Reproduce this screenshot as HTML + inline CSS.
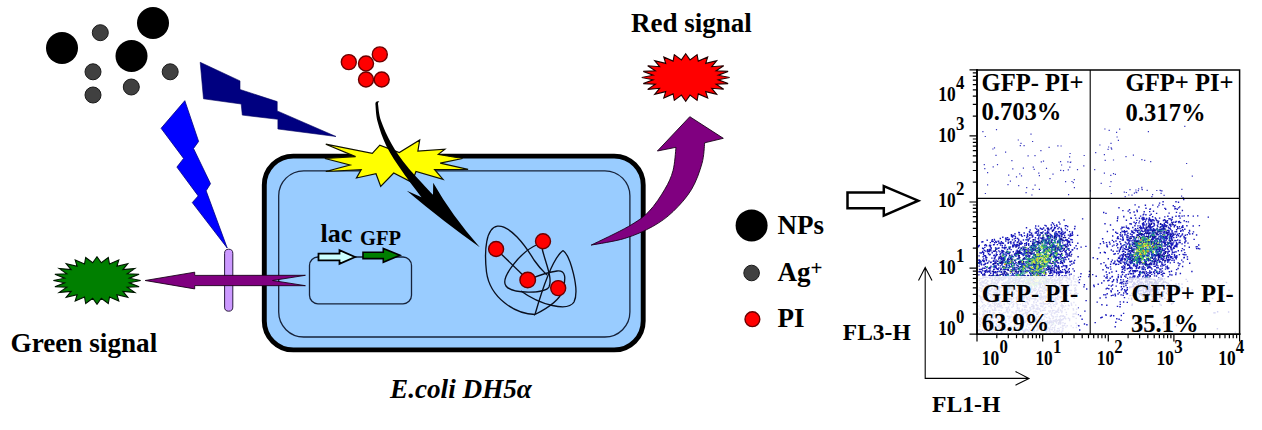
<!DOCTYPE html>
<html>
<head>
<meta charset="utf-8">
<title>E.coli DH5α flow cytometry scheme</title>
<style>
html,body{margin:0;padding:0;background:#fff;}
body{width:1262px;height:430px;overflow:hidden;font-family:"Liberation Serif",serif;}
svg{display:block;}
text{font-family:"Liberation Serif",serif;font-weight:bold;fill:#000;}
</style>
</head>
<body>
<svg width="1262" height="430" viewBox="0 0 1262 430">
<rect x="0" y="0" width="1262" height="430" fill="#ffffff"/>

<!-- ===== nanoparticles and silver ions ===== -->
<g id="nps">
<circle cx="62" cy="48" r="16" fill="#000"/>
<circle cx="153" cy="23" r="16" fill="#000"/>
<circle cx="131.5" cy="56" r="16" fill="#000"/>
<g fill="#404040" stroke="#1a1a1a" stroke-width="1">
<circle cx="100.3" cy="32.7" r="8"/>
<circle cx="93" cy="71.8" r="8"/>
<circle cx="93" cy="95" r="8"/>
<circle cx="131.3" cy="87" r="8"/>
<circle cx="170.2" cy="71.8" r="8"/>
</g>
</g>

<!-- ===== lightning bolts ===== -->
<polygon id="bolt-navy" fill="#000080" stroke="#000060" stroke-width="0.6" points="200.2,62.3 240,80.9 240,89.5 277.2,101.6 277.2,110.9 336,136.5 277.9,129 277.9,119.3 242.3,115.1 241.2,104 203.5,98.8"/>
<polygon id="bolt-blue" fill="#0000ff" stroke="#000080" stroke-width="0.8" points="184.8,100.7 198.6,141.4 193.5,148.5 210.5,183.7 206.1,190.8 227.2,248 192.3,202.6 198.2,195.9 176.9,167.1 183.6,158.4 161.1,128.3"/>

<!-- ===== bacterial cell ===== -->
<g id="cell">
<rect x="264.3" y="156.1" width="378.9" height="193.8" rx="29" ry="29" fill="#99ccff" stroke="#000" stroke-width="4.9"/>
<rect x="278.7" y="170.8" width="351.2" height="166.2" rx="25" ry="25" fill="none" stroke="#16223a" stroke-width="1.3"/>
<!-- plasmid -->
<rect x="309.5" y="257" width="102" height="46.8" rx="8.5" ry="8.5" fill="none" stroke="#16223a" stroke-width="1.3"/>
<text x="320.5" y="242.4" font-size="26">lac</text>
<text x="360" y="244.8" font-size="20.5">GFP</text>
<polygon fill="#ccffff" stroke="#000" stroke-width="1.8" points="318.5,253.6 339.5,253.6 339.5,250.2 355,257 339.5,263.8 339.5,260.4 318.5,260.4"/>
<polygon fill="#007f00" stroke="#000" stroke-width="1.6" points="363,252.3 383.3,252.3 383.3,248.4 400,255.3 383.3,262.2 383.3,258.6 363,258.6"/>
</g>

<!-- ===== membrane rod + green-signal arrow ===== -->
<rect x="224.6" y="249.2" width="8.2" height="62" rx="4.1" ry="4.1" fill="#cc99ff" stroke="#2a1a40" stroke-width="1"/>
<polygon fill="#800080" stroke="#1a001a" stroke-width="0.9" points="145.2,280.5 194.7,272.2 194.7,275.4 305.4,275.3 272.5,280.5 305.4,285.7 194.7,285.6 194.7,288.9"/>

<!-- green star placeholder -->
<g id="greenstar"><polygon fill="#007f00" stroke="#001500" stroke-width="1.1" stroke-linejoin="miter" points="97.0,256.7 101.3,262.8 108.3,257.5 109.5,264.0 118.8,259.9 116.9,266.3 127.8,263.7 122.9,269.6 134.8,268.6 127.2,273.7 139.1,274.3 129.4,278.2 140.6,280.5 129.4,282.8 139.1,286.7 127.2,287.3 134.8,292.4 122.9,291.4 127.8,297.3 116.9,294.7 118.8,301.1 109.5,297.0 108.3,303.5 101.3,298.2 97.0,304.3 92.7,298.2 85.7,303.5 84.5,297.0 75.2,301.1 77.1,294.7 66.2,297.3 71.1,291.4 59.2,292.4 66.8,287.3 54.9,286.7 64.6,282.8 53.4,280.5 64.6,278.2 54.9,274.3 66.8,273.7 59.2,268.6 71.1,269.6 66.2,263.7 77.1,266.3 75.2,259.9 84.5,264.0 85.7,257.5 92.7,262.8"/></g>
<g id="redstar"><polygon fill="#ff0000" stroke="#200000" stroke-width="1.1" stroke-linejoin="miter" points="685.7,53.8 690.0,59.9 697.1,54.6 698.3,61.1 707.7,57.0 705.7,63.4 716.7,60.7 711.8,66.7 723.7,65.7 716.1,70.7 728.1,71.4 718.3,75.2 729.6,77.5 718.3,79.8 728.1,83.6 716.1,84.3 723.7,89.3 711.8,88.3 716.7,94.3 705.7,91.6 707.7,98.0 698.3,93.9 697.1,100.4 690.0,95.1 685.7,101.2 681.4,95.1 674.3,100.4 673.1,93.9 663.8,98.0 665.7,91.6 654.7,94.3 659.6,88.3 647.7,89.4 655.3,84.3 643.3,83.6 653.1,79.8 641.8,77.5 653.1,75.2 643.3,71.4 655.3,70.7 647.7,65.7 659.6,66.7 654.7,60.7 665.7,63.4 663.8,57.0 673.1,61.1 674.3,54.6 681.4,59.9"/></g>
<text x="10.5" y="351.5" font-size="27.2">Green signal</text>


<!-- ===== PI molecules (top) ===== -->
<g fill="#ff0000" stroke="#6a0000" stroke-width="1.4">
<circle cx="348.8" cy="62.1" r="7.5"/>
<circle cx="379.8" cy="54.4" r="7.5"/>
<circle cx="366" cy="63.5" r="7.5"/>
<circle cx="366" cy="79.5" r="7.5"/>
<circle cx="381.7" cy="79.5" r="7.5"/>
</g>

<!-- ===== yellow burst ===== -->
<polygon fill="#ffff00" stroke="#111100" stroke-width="1.2" stroke-linejoin="miter" points="325.8,144.2 372.3,153.3 379.8,145.1 399.3,152.5 419.7,139.9 417.9,151 444.9,149.2 438.3,154.4 462.5,158.5 440.2,163.1 468.1,169.3 434.6,169.6 443,179.3 416,171.5 411.9,182.3 393.7,173 380.7,186.4 376,173.7 356.5,178 361.2,169.6 325.8,171.5 350,165 324.9,158.5 355.6,156.6"/>

<!-- ===== black entry arrow ===== -->
<path fill="#000" stroke="none" d="M375.4,104.2 C375.8,107.1 375.7,114.8 377.6,121.8 C379.5,128.8 382.5,138.3 386.6,146.5 C390.7,154.7 396.2,162.5 402.0,171.0 C407.8,179.5 418.2,192.9 421.5,197.3 L406.8,190.7 Q444,222 479.8,247.2 Q452,216 433.2,182.8 L433.0,194.8 C428.8,190.2 414.5,175.5 407.6,167.0 C400.7,158.5 396.0,151.7 391.6,144.0 C387.2,136.3 383.3,127.5 381.0,120.8 C378.7,114.1 378.5,106.8 378.0,104.0 C377.9,102.6 378.6,101.6 379.4,101.4 C377,100.6 375.2,101.8 375.4,104.2 Z"/>

<!-- ===== DNA tangle ===== -->
<g fill="none" stroke="#0a0f1e" stroke-width="1.35">
<path d="M535,314.5 C515,314 490,298 486.5,272 C484,250 486,228 497.5,226.2 C510,225 525,245 534,260 C541,270 545,273 547,275"/>
<path d="M537.5,244.5 C520,252 500,278 506,286 C512,294 545,294 549,287 C553,278 545,262 542,248"/>
<path d="M563,250.5 C570,255 580,290 574,302 C568,312 540,305 521,291"/>
<path d="M563,250.5 C553,258 542,290 535,314.5 C548,308 560,300 563,290 C566,278 566,270 557,271 C548,272 540,275 530,279"/>
<line x1="496" y1="249" x2="528" y2="280"/>
</g>
<g fill="#ff0000" stroke="#6a0000" stroke-width="1.4">
<circle cx="496.1" cy="249" r="7.5"/>
<circle cx="543" cy="241.2" r="7.5"/>
<circle cx="527.7" cy="280" r="7.8"/>
<circle cx="558.2" cy="288.1" r="7.5"/>
</g>

<!-- ===== red-signal curved arrow ===== -->
<path fill="#800080" stroke="#1a001a" stroke-width="0.9" d="M591.2,245.1 C597.4,242.0 618.8,232.1 628.4,226.5 C638.0,220.9 642.7,217.8 648.8,211.6 C654.9,205.4 660.8,196.1 664.8,189.3 C668.8,182.5 671.1,177.7 673.0,170.7 C674.9,163.7 675.5,151.2 676.0,147.3 L657.4,151 L689.8,116.7 L723.3,138.3 L704.7,142.8 C704.2,146.2 704.2,155.6 702.0,163.3 C699.8,171.1 696.4,181.2 691.6,189.3 C686.8,197.4 679.5,205.4 673.0,211.6 C666.5,217.8 660.6,222.0 652.6,226.5 C644.6,231.0 634.9,235.3 624.7,238.4 C614.5,241.5 596.8,244.0 591.2,245.1 Z"/>

<!-- ===== legend ===== -->
<circle cx="751.6" cy="225.4" r="16" fill="#000"/>
<circle cx="751.6" cy="273" r="7.8" fill="#404040" stroke="#1a1a1a" stroke-width="1"/>
<circle cx="752.4" cy="319.2" r="7.4" fill="#ff0000" stroke="#6a0000" stroke-width="1.4"/>
<text x="777.5" y="234" font-size="27">NPs</text>
<text x="777.5" y="281.3" font-size="27">Ag<tspan font-size="21" dy="-6.5">+</tspan></text>
<text x="777.5" y="327.2" font-size="27">PI</text>

<!-- ===== block arrow ===== -->
<polygon fill="#fff" stroke="#000" stroke-width="2.5" stroke-linejoin="miter" points="847.5,192.5 883.8,192.5 883.8,186.2 918.2,200.7 883.8,215.6 883.8,208.3 847.5,208.3"/>

<text x="631" y="32" font-size="27">Red signal</text>
<text x="390" y="397.8" font-size="27.2" font-style="italic">E.coli DH5α</text>

<!--PLOT-START-->
<g id="plot">
<g id="dots" stroke-width="1.4" fill="none" stroke-linecap="butt">
<path stroke="#1a1abc" d="M1030.1 268.2h1.4M1038.2 247.7h1.4M1023.9 251.5h1.4M1062.7 250.4h1.4M1067.4 249.1h1.4M999.5 258.4h1.4M1061.2 258.5h1.4M989.7 249.6h1.4M1051.7 288.6h1.4M1029.0 272.5h1.4M1036.2 272.6h1.4M990.2 262.2h1.4M1022.7 258.6h1.4M1022.6 248.0h1.4M1061.2 245.8h1.4M1006.8 239.5h1.4M998.8 280.4h1.4M1019.8 264.2h1.4M1031.2 247.3h1.4M1028.3 257.7h1.4M1063.7 262.0h1.4M1067.0 226.4h1.4M1034.6 249.8h1.4M1031.6 296.3h1.4M1049.0 250.8h1.4M1012.7 275.0h1.4M1055.8 257.4h1.4M1025.3 249.4h1.4M1020.1 253.4h1.4M1004.7 271.9h1.4M1025.3 256.2h1.4M1026.6 235.4h1.4M1059.6 263.0h1.4M1053.4 270.4h1.4M1021.5 243.2h1.4M999.3 262.3h1.4M1028.3 252.6h1.4M1041.8 242.7h1.4M996.4 268.6h1.4M1004.4 269.4h1.4M1062.6 245.3h1.4M984.6 263.4h1.4M1057.5 263.1h1.4M988.7 251.1h1.4M1032.9 254.0h1.4M1050.1 266.4h1.4M993.3 264.0h1.4M1021.7 265.1h1.4M1033.3 263.5h1.4M1000.9 279.8h1.4M1017.8 258.1h1.4M1067.8 269.9h1.4M1003.9 267.2h1.4M1017.6 277.8h1.4M1010.5 281.4h1.4M1064.0 269.4h1.4M1019.1 278.9h1.4M985.1 294.9h1.4M1054.0 234.2h1.4M1065.7 225.6h1.4M1073.2 262.3h1.4M1032.1 269.4h1.4M1022.0 254.1h1.4M1021.1 270.7h1.4M1025.5 243.6h1.4M1043.3 272.0h1.4M1023.5 233.0h1.4M1041.5 232.7h1.4M995.0 271.8h1.4M1000.5 272.3h1.4M1030.6 275.5h1.4M1015.6 270.0h1.4M1057.7 265.6h1.4M1050.2 275.7h1.4M1025.6 245.4h1.4M989.0 293.7h1.4M1022.7 264.5h1.4M1024.0 249.4h1.4M1007.0 282.0h1.4M1012.3 269.1h1.4M991.8 279.9h1.4M1029.1 255.6h1.4M1035.3 264.4h1.4M1069.8 252.2h1.4M1053.9 271.8h1.4M1050.9 268.0h1.4M989.0 267.8h1.4M1026.5 250.1h1.4M1023.2 294.7h1.4M1057.2 262.9h1.4M993.6 258.2h1.4M1005.8 291.1h1.4M978.3 271.7h1.4M1040.7 241.9h1.4M1001.8 255.9h1.4M1049.9 252.4h1.4M1023.7 263.9h1.4M1074.0 260.4h1.4M1028.2 239.2h1.4M1036.9 252.5h1.4M1019.4 299.0h1.4M1021.4 254.2h1.4M1030.5 246.9h1.4M1023.0 248.5h1.4M1003.6 284.8h1.4M1015.6 264.9h1.4M1038.4 257.2h1.4M1058.7 236.8h1.4M1042.0 276.4h1.4M1020.3 248.1h1.4M1055.7 270.3h1.4M1011.8 239.9h1.4M996.2 279.6h1.4M986.4 263.4h1.4M1020.2 241.5h1.4M1064.8 272.3h1.4M1017.6 251.2h1.4M1029.0 256.2h1.4M1068.8 255.9h1.4M988.3 261.1h1.4M1050.5 268.2h1.4M1027.4 248.5h1.4M1032.1 264.2h1.4M1009.3 252.3h1.4M996.3 248.5h1.4M1055.3 247.8h1.4M1059.6 263.3h1.4M1012.0 256.5h1.4M1015.3 252.7h1.4M1055.3 231.8h1.4M980.3 269.5h1.4M1022.9 264.9h1.4M1025.3 265.6h1.4M1066.6 241.5h1.4M1066.0 267.3h1.4M1005.3 254.9h1.4M1064.2 251.6h1.4M1012.6 251.7h1.4M999.3 254.5h1.4M1032.3 241.4h1.4M1058.6 278.2h1.4M1046.3 232.8h1.4M1058.1 257.1h1.4M1034.0 281.9h1.4M980.7 272.1h1.4M1048.9 259.0h1.4M1027.8 249.1h1.4M1013.3 265.8h1.4M1064.7 257.7h1.4M1062.2 248.2h1.4M1030.9 233.3h1.4M1032.2 257.2h1.4M1036.1 248.3h1.4M1034.7 254.8h1.4M1010.2 243.6h1.4M1019.6 243.9h1.4M1003.9 272.7h1.4M1072.3 268.9h1.4M1025.8 227.7h1.4M1015.2 245.1h1.4M995.3 265.6h1.4M1027.4 289.9h1.4M987.8 271.1h1.4M1031.9 245.0h1.4M1001.4 258.5h1.4M1017.3 282.1h1.4M1017.0 251.9h1.4M1073.3 263.4h1.4M1007.2 274.1h1.4M1044.8 260.6h1.4M1016.6 291.5h1.4M1000.9 274.4h1.4M1011.6 296.3h1.4M1036.7 274.0h1.4M997.9 248.4h1.4M1003.9 276.5h1.4M998.3 257.1h1.4M1052.0 262.3h1.4M1019.9 252.5h1.4M1026.4 259.5h1.4M1003.8 260.0h1.4M989.3 270.5h1.4M1054.9 260.4h1.4M1067.7 235.1h1.4M1012.3 262.6h1.4M1013.8 254.2h1.4M1037.1 272.6h1.4M1067.5 240.9h1.4M1016.9 296.6h1.4M1010.5 260.5h1.4M984.5 298.2h1.4M1010.7 262.9h1.4M1047.5 255.4h1.4M1026.0 280.9h1.4M978.2 274.9h1.4M1021.4 236.4h1.4M1016.1 244.7h1.4M1021.3 264.1h1.4M987.4 301.6h1.4M997.2 281.0h1.4M1037.1 263.7h1.4M1022.7 267.2h1.4M987.2 262.8h1.4M985.1 244.6h1.4M1045.1 253.0h1.4M1013.9 276.0h1.4M988.7 249.4h1.4M1048.1 268.0h1.4M1047.1 230.0h1.4M1025.8 287.9h1.4M1030.0 241.4h1.4M1062.0 263.6h1.4M1040.2 232.8h1.4M998.6 276.6h1.4M1066.5 253.9h1.4M1036.6 265.5h1.4M1069.1 279.6h1.4M1041.7 261.0h1.4M1035.5 232.0h1.4M1065.5 250.5h1.4M1024.9 262.2h1.4M1073.8 248.0h1.4M1010.3 276.1h1.4M992.5 274.8h1.4M996.6 263.6h1.4M1005.1 252.9h1.4M1010.1 271.7h1.4M1030.5 289.9h1.4M1036.8 264.2h1.4M1029.4 247.3h1.4M1053.6 255.5h1.4M1009.0 252.6h1.4M1006.7 302.5h1.4M1010.5 269.7h1.4M1022.5 255.6h1.4M1036.6 231.3h1.4M1008.1 278.6h1.4M996.7 261.4h1.4M1061.4 275.8h1.4M1028.0 245.3h1.4M1041.3 275.1h1.4M997.3 264.4h1.4M1028.6 256.3h1.4M1026.9 256.2h1.4M1000.0 278.7h1.4M986.3 297.8h1.4M1014.4 278.6h1.4M1034.3 278.0h1.4M1058.8 271.9h1.4M1032.6 250.3h1.4M1017.0 253.2h1.4M1001.0 264.9h1.4M1035.1 260.4h1.4M1024.6 251.8h1.4M1001.6 263.9h1.4M1015.0 254.9h1.4M1021.2 271.4h1.4M1046.0 290.1h1.4M1024.9 290.9h1.4M1002.6 259.8h1.4M1040.4 268.1h1.4M1027.9 265.0h1.4M1031.5 237.1h1.4M1028.7 231.7h1.4M1017.6 255.8h1.4M1018.1 245.4h1.4M1071.4 239.7h1.4M985.1 257.7h1.4M1008.5 248.3h1.4M984.5 276.1h1.4M1023.3 251.0h1.4M1007.7 267.8h1.4M978.6 245.5h1.4M1033.3 298.8h1.4M996.5 254.6h1.4M1001.0 257.9h1.4M1049.7 272.7h1.4M1040.9 229.0h1.4M1008.1 259.2h1.4M995.7 254.1h1.4M1027.5 241.0h1.4M1057.1 254.3h1.4M993.7 240.1h1.4M1026.5 267.8h1.4M1052.8 289.0h1.4M1028.8 300.8h1.4M1009.7 271.3h1.4M1037.2 244.8h1.4M1028.0 251.2h1.4M1020.3 266.7h1.4M1006.5 252.9h1.4M994.8 271.6h1.4M1051.2 276.2h1.4M1042.9 228.0h1.4M1042.4 231.9h1.4M1008.7 248.7h1.4M1054.2 284.9h1.4M1009.1 304.0h1.4M1069.0 242.2h1.4M1015.6 267.5h1.4M1029.9 271.2h1.4M981.2 242.0h1.4M1038.7 265.3h1.4M1036.6 250.7h1.4M1030.9 263.6h1.4M1026.0 237.2h1.4M1030.6 251.2h1.4M1044.1 264.3h1.4M1015.3 280.0h1.4M1002.3 286.2h1.4M993.0 269.4h1.4M1065.2 259.6h1.4M1041.9 256.0h1.4M1071.7 242.2h1.4M1031.8 251.3h1.4M1018.2 262.7h1.4M1025.8 242.8h1.4M1064.0 275.9h1.4M1019.0 243.9h1.4M1016.1 285.2h1.4M1001.4 287.1h1.4M1057.4 279.3h1.4M1008.4 283.8h1.4M997.1 263.6h1.4M1064.5 286.4h1.4M1024.4 271.2h1.4M1049.8 271.3h1.4M1039.2 248.5h1.4M1026.9 275.8h1.4M1039.9 303.1h1.4M1051.6 279.6h1.4M997.5 275.4h1.4M994.4 277.3h1.4M1006.3 290.9h1.4M1020.7 244.1h1.4M985.7 260.6h1.4M999.2 278.8h1.4M987.9 287.2h1.4M982.8 248.7h1.4M1020.0 252.7h1.4M1026.9 276.8h1.4M1073.6 271.0h1.4M1046.7 269.5h1.4M1049.5 263.0h1.4M990.0 276.3h1.4M1018.5 245.6h1.4M997.6 297.0h1.4M1027.9 261.1h1.4M1058.6 277.5h1.4M1060.6 254.4h1.4M1019.7 271.6h1.4M1045.2 241.9h1.4M1036.6 235.4h1.4M1059.4 233.9h1.4M1025.8 270.7h1.4M1049.5 273.2h1.4M984.2 268.4h1.4M1055.4 239.4h1.4M1021.5 270.1h1.4M1061.9 242.9h1.4M1047.7 269.3h1.4M1009.4 242.1h1.4M1037.9 231.0h1.4M1038.8 273.0h1.4M982.1 241.7h1.4M1061.1 266.6h1.4M979.7 260.9h1.4M996.0 294.1h1.4M989.1 272.0h1.4M1059.9 255.1h1.4M1024.0 250.6h1.4M1033.2 261.6h1.4M983.2 292.5h1.4M1002.2 251.5h1.4M1032.7 244.0h1.4M1031.0 287.5h1.4M1049.4 263.1h1.4M1049.2 243.1h1.4M1065.5 277.8h1.4M1049.9 270.0h1.4M1040.3 273.4h1.4M1034.8 237.7h1.4M1063.6 245.0h1.4M987.7 285.1h1.4M1072.8 276.9h1.4M1035.1 264.3h1.4M998.5 271.5h1.4M1017.0 238.5h1.4M1065.5 275.9h1.4M1055.2 266.4h1.4M1027.9 249.0h1.4M1036.8 254.9h1.4M1044.1 272.0h1.4M1010.8 259.4h1.4M1053.6 263.1h1.4M1034.9 277.9h1.4M1065.5 280.5h1.4M1037.8 272.7h1.4M1003.8 294.1h1.4M994.3 261.4h1.4M1015.9 253.8h1.4M1033.5 265.3h1.4M1013.1 246.1h1.4M980.4 291.4h1.4M1009.0 262.8h1.4M1033.3 271.4h1.4M1013.4 242.1h1.4M1018.3 309.9h1.4M989.4 254.5h1.4M985.5 259.4h1.4M1002.4 250.8h1.4M1011.2 266.2h1.4M985.1 256.4h1.4M1061.8 278.9h1.4M1030.8 286.8h1.4M1018.1 253.1h1.4M1004.3 269.2h1.4M1050.4 288.7h1.4M1069.9 236.0h1.4M1012.1 267.9h1.4M1071.9 249.8h1.4M1061.3 266.9h1.4M1060.9 254.1h1.4M992.6 261.2h1.4M1046.1 276.7h1.4M1026.6 280.3h1.4M1027.2 270.4h1.4M986.9 277.6h1.4M1054.3 262.9h1.4M1053.9 246.7h1.4M1038.3 254.4h1.4M1012.9 270.2h1.4M992.7 275.6h1.4M1009.5 247.0h1.4M1032.4 262.4h1.4M1029.3 232.5h1.4M1005.4 263.3h1.4M1039.9 258.1h1.4M995.7 255.5h1.4M1062.2 231.9h1.4M1061.4 251.4h1.4M1020.5 234.6h1.4M1012.4 246.8h1.4M1045.2 254.7h1.4M1055.2 238.6h1.4M1055.3 258.5h1.4M1052.7 247.6h1.4M1054.4 265.4h1.4M1039.6 250.4h1.4M996.8 269.3h1.4M992.6 274.0h1.4M1039.0 273.4h1.4M1065.1 266.1h1.4M1021.1 269.8h1.4M1010.3 256.8h1.4M1001.4 242.8h1.4M1010.7 264.4h1.4M1005.7 255.3h1.4M1051.8 292.1h1.4M1003.5 294.5h1.4M1042.5 236.0h1.4M1002.2 285.8h1.4M1060.9 236.7h1.4M984.2 280.4h1.4M992.3 264.4h1.4M1052.2 274.1h1.4M1022.5 249.3h1.4M1036.9 251.4h1.4M1001.6 280.1h1.4M1070.9 261.3h1.4M1001.1 261.8h1.4M1056.6 272.0h1.4M1050.6 228.0h1.4M1000.7 259.3h1.4M1039.7 267.3h1.4M1056.7 242.7h1.4M1074.3 281.6h1.4M1052.3 262.9h1.4M1044.0 275.7h1.4M1051.7 275.8h1.4M981.2 278.6h1.4M1033.0 296.0h1.4M1017.6 254.5h1.4M1006.9 251.4h1.4M1042.3 252.1h1.4M1024.8 265.1h1.4M1056.2 266.7h1.4M1017.8 248.4h1.4M1060.9 262.7h1.4M1004.9 284.2h1.4M988.1 268.2h1.4M1060.3 272.5h1.4M1024.6 281.4h1.4M1032.5 280.8h1.4M1017.4 272.3h1.4M984.1 271.8h1.4M1041.6 291.2h1.4M1022.1 275.3h1.4M980.7 263.9h1.4M1055.6 258.3h1.4M1029.4 230.0h1.4M1036.8 242.9h1.4M991.8 275.6h1.4M1007.1 289.2h1.4M1045.1 272.6h1.4M1035.3 261.8h1.4M1000.9 271.7h1.4M1042.1 260.6h1.4M1050.9 288.8h1.4M996.3 277.4h1.4M1037.0 294.4h1.4M1008.5 253.7h1.4M981.4 269.1h1.4M1033.5 276.6h1.4M993.6 255.1h1.4M1034.2 242.6h1.4M1025.5 263.3h1.4M1036.3 252.5h1.4M1020.0 288.1h1.4M1053.5 256.9h1.4M1058.2 268.2h1.4M1019.0 262.5h1.4M1071.2 264.0h1.4M1021.4 263.4h1.4M1007.4 286.3h1.4M1055.3 247.2h1.4M993.4 292.2h1.4M1058.9 240.2h1.4M1003.6 259.3h1.4M1033.0 272.4h1.4M986.0 282.5h1.4M1057.8 258.2h1.4M986.0 293.0h1.4M1063.1 260.6h1.4M1033.2 302.7h1.4M1020.7 235.2h1.4M1039.7 266.8h1.4M1007.4 260.6h1.4M1038.2 242.0h1.4M1051.5 268.9h1.4M1070.9 254.4h1.4M1018.1 240.7h1.4M1059.2 272.1h1.4M985.9 277.3h1.4M995.3 262.2h1.4M1013.9 244.8h1.4M1008.8 287.6h1.4M1018.3 256.7h1.4M1023.9 258.2h1.4M1017.7 258.3h1.4M1045.8 285.0h1.4M1009.4 279.8h1.4M991.6 271.5h1.4M978.6 260.6h1.4M1031.9 243.3h1.4M1039.7 269.4h1.4M989.9 262.5h1.4M1022.7 240.0h1.4M1070.5 282.8h1.4M1068.5 278.7h1.4M1012.7 262.1h1.4M1062.2 272.4h1.4M981.9 260.2h1.4M1026.4 293.8h1.4M1045.6 268.6h1.4M1067.7 286.7h1.4M1041.8 229.2h1.4M1032.1 261.4h1.4M978.8 269.5h1.4M1031.3 272.2h1.4M988.1 271.6h1.4M1003.9 276.8h1.4M993.9 251.1h1.4M1001.8 283.6h1.4M1010.9 272.0h1.4M1002.0 261.5h1.4M1043.4 278.1h1.4M1024.0 243.8h1.4M1009.0 304.6h1.4M1059.4 280.7h1.4M1054.2 262.9h1.4M1001.4 280.2h1.4M1051.5 249.1h1.4M1041.1 260.8h1.4M995.9 252.0h1.4M1019.0 275.0h1.4M991.5 279.0h1.4M1008.8 276.5h1.4M995.4 267.2h1.4M1033.7 248.9h1.4M1076.5 248.7h1.4M1045.3 249.2h1.4M1065.1 252.7h1.4M982.9 282.7h1.4M1061.0 232.8h1.4M1025.9 255.6h1.4M1052.7 271.9h1.4M1061.1 236.8h1.4M1024.6 302.5h1.4M1057.8 272.0h1.4M1052.7 287.4h1.4M1005.5 239.2h1.4M1065.3 254.8h1.4M1048.6 251.4h1.4M1002.0 257.9h1.4M1027.1 236.6h1.4M1004.4 299.9h1.4M1043.4 276.6h1.4M1057.1 279.5h1.4M992.9 272.6h1.4M986.1 257.6h1.4M997.7 265.1h1.4M1049.4 261.3h1.4M1032.0 249.0h1.4M1067.8 242.3h1.4M997.5 299.3h1.4M1018.9 250.4h1.4M1002.9 269.4h1.4M1009.6 270.7h1.4M1063.3 276.5h1.4M1001.9 261.3h1.4M1016.8 251.7h1.4M982.4 256.8h1.4M983.2 264.7h1.4M1004.4 277.8h1.4M995.5 260.1h1.4M987.8 253.8h1.4M979.9 278.6h1.4M999.0 275.4h1.4M994.0 263.0h1.4M995.7 268.5h1.4M1016.7 265.4h1.4M985.1 251.1h1.4M1034.1 258.1h1.4M993.2 282.5h1.4M1022.1 269.5h1.4M990.9 294.9h1.4M1007.6 269.7h1.4M995.7 242.2h1.4M1007.5 258.6h1.4M992.4 241.6h1.4M1018.2 278.1h1.4M1058.7 274.3h1.4M986.9 249.8h1.4M995.6 275.5h1.4M1012.1 270.2h1.4M1003.8 271.3h1.4M989.7 242.6h1.4M1033.3 280.2h1.4M1015.1 245.2h1.4M1002.9 258.7h1.4M1001.0 259.4h1.4M1017.2 265.4h1.4M993.1 260.4h1.4M990.0 273.4h1.4M993.6 266.1h1.4M991.1 241.2h1.4M1018.3 247.2h1.4M1013.6 267.9h1.4M988.5 250.5h1.4M994.3 267.4h1.4M990.3 266.3h1.4M983.5 261.6h1.4M989.7 246.8h1.4M993.9 251.2h1.4M1010.7 296.7h1.4M992.9 266.7h1.4M1001.9 252.1h1.4M983.0 258.9h1.4M1002.8 254.2h1.4M998.2 243.0h1.4M994.6 272.9h1.4M1040.7 271.9h1.4M1005.0 278.6h1.4M1020.7 285.3h1.4M1005.6 264.8h1.4M1034.3 288.2h1.4M1018.9 251.9h1.4M986.9 250.4h1.4M983.4 260.6h1.4M982.8 254.2h1.4M1000.0 253.8h1.4M1018.9 261.2h1.4M999.7 262.2h1.4M1014.2 255.4h1.4M1002.5 262.6h1.4M1010.2 276.2h1.4M1001.6 245.6h1.4M1043.4 269.0h1.4M990.9 288.8h1.4M1000.7 257.1h1.4M987.4 294.9h1.4M1008.5 259.4h1.4M1022.5 269.4h1.4M986.9 271.9h1.4M1042.0 257.1h1.4M988.8 254.7h1.4M1000.8 277.7h1.4M989.3 268.9h1.4M1011.9 246.8h1.4M1004.1 248.8h1.4M1021.6 268.4h1.4M999.6 243.2h1.4M1001.7 251.3h1.4M982.2 275.0h1.4M1014.5 253.7h1.4M1023.7 257.8h1.4M983.5 255.8h1.4M995.9 283.4h1.4M1005.4 295.8h1.4M1004.4 245.2h1.4M1026.7 256.2h1.4M1016.1 275.7h1.4M1007.5 243.3h1.4M982.1 268.1h1.4M985.8 245.7h1.4M1020.4 277.5h1.4M1007.1 253.5h1.4M1016.9 244.5h1.4M1000.0 256.3h1.4M1007.6 242.1h1.4M998.2 268.0h1.4M1005.3 277.1h1.4M980.9 273.3h1.4M1037.4 266.0h1.4M1024.9 247.6h1.4M984.8 283.5h1.4M1007.2 276.7h1.4M996.6 274.5h1.4M1019.4 270.7h1.4M1016.3 306.1h1.4M1015.6 272.1h1.4M980.5 253.0h1.4M1020.8 276.6h1.4M992.1 271.4h1.4M1024.4 259.0h1.4M1015.0 263.1h1.4M988.8 250.1h1.4M1012.0 245.2h1.4M1013.5 244.2h1.4M1024.2 250.8h1.4M1002.1 267.3h1.4M1011.8 236.8h1.4M1033.3 269.9h1.4M990.4 247.7h1.4M1010.7 257.2h1.4M987.0 280.9h1.4M986.5 240.3h1.4M994.7 267.0h1.4M1010.9 265.1h1.4M1003.9 247.9h1.4M979.3 252.9h1.4M993.5 244.6h1.4M1001.7 252.8h1.4M1009.8 258.9h1.4M1038.8 252.6h1.4M994.0 258.8h1.4M1011.9 262.7h1.4M995.6 280.0h1.4M984.1 247.4h1.4M1022.3 247.0h1.4M1003.9 258.1h1.4M1023.0 255.4h1.4M984.1 274.2h1.4M982.7 261.2h1.4M1020.9 252.8h1.4M983.6 273.6h1.4M978.0 260.1h1.4M984.6 264.1h1.4M979.1 261.3h1.4M985.8 299.5h1.4M1016.5 250.3h1.4M978.4 255.9h1.4M983.8 274.4h1.4M990.3 250.9h1.4M997.9 259.0h1.4M1021.5 265.6h1.4M1028.7 264.9h1.4M1015.3 256.3h1.4M991.5 252.7h1.4M994.4 257.4h1.4M981.8 286.0h1.4M1004.7 262.1h1.4M1030.3 276.3h1.4M997.5 269.5h1.4M981.9 248.3h1.4M995.2 265.7h1.4M1006.8 274.3h1.4M986.7 272.0h1.4M1003.3 267.6h1.4M988.6 251.6h1.4M1015.0 238.2h1.4M986.3 283.7h1.4M1013.7 238.9h1.4M1053.9 225.8h1.4M1029.5 283.8h1.4M1018.5 258.9h1.4M1006.8 249.4h1.4M1016.3 246.3h1.4M1002.7 243.2h1.4M983.0 252.8h1.4M1000.9 252.1h1.4M1019.6 252.1h1.4M1019.9 261.4h1.4M988.7 245.9h1.4M1011.4 275.1h1.4M1030.0 275.2h1.4M981.7 252.4h1.4M991.2 258.1h1.4M1017.4 245.1h1.4M987.4 251.6h1.4M1014.6 261.0h1.4M999.6 238.5h1.4M997.5 241.3h1.4M1005.8 267.1h1.4M1068.8 255.2h1.4M1052.7 252.9h1.4M1069.3 236.1h1.4M1037.5 238.8h1.4M1064.8 228.5h1.4M1063.4 220.0h1.4M1046.6 228.3h1.4M1054.1 237.5h1.4M1040.8 233.1h1.4M1071.8 250.1h1.4M1038.5 242.7h1.4M1054.0 228.5h1.4M1058.1 246.8h1.4M1046.8 250.5h1.4M1033.1 245.7h1.4M1068.9 231.6h1.4M1058.4 227.5h1.4M1066.3 247.0h1.4M1035.5 268.5h1.4M1057.6 247.9h1.4M1028.5 256.8h1.4M1049.1 243.9h1.4M1043.1 248.7h1.4M1054.7 236.2h1.4M1039.2 259.9h1.4M1070.3 235.4h1.4M1045.2 242.6h1.4M1068.3 255.8h1.4M1048.2 250.1h1.4M1053.4 252.6h1.4M1046.8 259.0h1.4M1051.8 246.5h1.4M1048.8 262.9h1.4M1052.9 229.8h1.4M1045.8 234.7h1.4M1056.7 243.6h1.4M1044.5 254.6h1.4M1066.4 256.6h1.4M1040.9 238.6h1.4M1048.0 262.3h1.4M1046.9 242.7h1.4M1047.7 236.5h1.4M1044.4 230.3h1.4M1062.5 240.3h1.4M1044.2 250.8h1.4M1070.1 239.5h1.4M1069.8 261.8h1.4M1055.4 235.2h1.4M1052.9 224.0h1.4M1060.5 248.6h1.4M1049.0 242.9h1.4M1061.7 257.6h1.4M1058.3 249.4h1.4M1050.6 263.6h1.4M1054.0 236.5h1.4M1071.4 249.9h1.4M1051.6 239.8h1.4M1048.6 248.6h1.4M1045.7 248.5h1.4M1060.4 228.5h1.4M1065.3 240.3h1.4M1065.7 253.0h1.4M1053.3 256.5h1.4M1051.5 247.6h1.4M1054.6 256.1h1.4M1060.4 239.2h1.4M1047.2 237.4h1.4M1071.5 235.2h1.4M1066.5 240.4h1.4M1059.5 254.7h1.4M1064.0 257.3h1.4M1047.0 249.0h1.4M1054.3 233.0h1.4M1059.5 233.5h1.4M1032.0 235.3h1.4M1050.6 225.0h1.4M1059.8 249.4h1.4M1054.0 227.7h1.4M1056.0 233.5h1.4M1064.6 225.8h1.4M1040.1 243.7h1.4M1056.0 225.0h1.4M1052.0 262.1h1.4M1064.7 245.9h1.4M1045.5 226.0h1.4M1048.3 240.9h1.4M1066.9 243.3h1.4M1058.3 222.2h1.4M1028.8 252.9h1.4M1038.6 251.3h1.4M1051.7 222.8h1.4M1046.8 231.8h1.4M1046.3 238.9h1.4M1062.2 234.2h1.4M1067.3 248.6h1.4M1050.2 228.7h1.4M1058.8 242.4h1.4M1051.8 244.0h1.4M1053.5 238.3h1.4M1052.2 244.6h1.4M1048.1 229.3h1.4M1060.7 234.1h1.4M1032.6 239.8h1.4M1061.1 248.8h1.4M1057.9 232.1h1.4M1069.1 261.5h1.4M1057.1 234.2h1.4M1047.4 251.4h1.4M1063.1 233.5h1.4M1054.3 247.6h1.4M1052.1 261.7h1.4M1051.1 250.1h1.4M1057.8 231.6h1.4M1046.4 244.1h1.4M1043.6 240.4h1.4M1059.0 272.3h1.4M1057.4 242.1h1.4M1053.9 242.3h1.4M1064.0 237.1h1.4M1059.7 251.5h1.4M1072.0 234.9h1.4M1076.9 235.4h1.4M1061.2 230.9h1.4M1039.7 228.3h1.4M1059.3 244.1h1.4M1060.6 247.3h1.4M1053.9 240.2h1.4M1056.9 241.8h1.4M1044.7 242.6h1.4M1069.0 244.1h1.4M1051.3 227.1h1.4M1053.6 228.5h1.4M1062.2 257.7h1.4M1044.3 225.4h1.4M1057.5 262.8h1.4M1034.8 228.1h1.4M1050.1 237.5h1.4M1053.3 267.7h1.4M1060.8 229.6h1.4M1051.2 242.3h1.4M1057.3 241.0h1.4M1051.0 252.0h1.4M1050.3 270.6h1.4M1048.1 241.3h1.4M1049.6 256.3h1.4M1039.4 234.8h1.4M1067.0 226.5h1.4M1069.1 236.1h1.4M1037.8 226.1h1.4M1048.5 240.2h1.4M1040.9 246.2h1.4M1045.7 234.6h1.4M1033.1 243.6h1.4M1070.1 251.6h1.4M1054.9 247.2h1.4M1042.3 235.9h1.4M1061.3 235.0h1.4M1071.7 232.8h1.4M1058.5 235.7h1.4M1048.8 252.1h1.4M1062.2 240.6h1.4M1052.7 244.1h1.4M1052.8 230.2h1.4M1041.6 240.1h1.4M1057.3 228.8h1.4M1067.5 245.9h1.4M1046.3 251.4h1.4M1050.5 253.7h1.4M1066.4 239.6h1.4M1059.0 231.8h1.4M1058.0 240.9h1.4M1055.0 252.7h1.4M1038.1 237.5h1.4M1049.1 233.9h1.4M1039.2 235.5h1.4M1052.0 245.2h1.4M1053.8 228.6h1.4M1065.0 240.0h1.4M1059.2 224.0h1.4M1040.0 249.5h1.4M1043.1 240.8h1.4M1068.2 238.3h1.4M1050.5 240.5h1.4M1038.3 240.5h1.4M1054.3 260.4h1.4M1049.4 256.6h1.4M1023.8 235.6h1.4M1048.2 243.4h1.4M1056.4 226.2h1.4M1058.8 258.9h1.4M1047.9 232.3h1.4M1033.7 254.5h1.4M1065.8 240.1h1.4M1066.6 230.0h1.4M1062.7 265.5h1.4M1048.5 238.6h1.4M1046.3 236.2h1.4M1049.8 245.7h1.4M1054.7 227.6h1.4M1059.8 248.7h1.4M1051.1 251.4h1.4M1058.5 250.1h1.4M1060.0 263.1h1.4M1051.8 230.4h1.4M1061.3 271.7h1.4M1044.5 254.8h1.4M1035.3 248.5h1.4M1035.6 241.5h1.4M1034.9 249.9h1.4M1031.9 244.1h1.4M1064.4 245.9h1.4M1057.5 235.8h1.4M1035.0 226.0h1.4M1063.9 235.4h1.4M1048.3 229.9h1.4M1045.4 240.3h1.4M1022.1 259.7h1.4M1054.6 257.4h1.4M1058.3 254.4h1.4M1044.8 234.1h1.4M1037.9 238.7h1.4M1048.5 268.4h1.4M1035.3 246.4h1.4M1049.5 236.6h1.4M1044.6 233.3h1.4M1051.3 239.4h1.4M1061.6 240.7h1.4M1061.2 239.2h1.4M1040.7 229.0h1.4M1041.0 246.7h1.4M1060.1 256.5h1.4M1036.1 229.2h1.4M1071.6 233.2h1.4M1051.0 235.8h1.4M1037.8 230.0h1.4M1036.7 253.0h1.4M1054.3 264.6h1.4M1044.4 259.5h1.4M1054.1 272.6h1.4M1042.8 263.4h1.4M1023.1 254.9h1.4M1047.4 259.0h1.4M1025.9 256.7h1.4M1034.3 262.0h1.4M1045.1 274.3h1.4M1041.2 277.7h1.4M1037.9 272.9h1.4M1050.4 254.9h1.4M1029.1 283.6h1.4M1028.1 259.2h1.4M1027.0 270.9h1.4M1047.6 255.2h1.4M1030.6 264.6h1.4M1054.1 263.5h1.4M1034.5 265.5h1.4M1037.7 274.6h1.4M1033.6 264.8h1.4M1050.3 271.5h1.4M1036.5 251.8h1.4M1031.5 270.1h1.4M1031.9 264.4h1.4M1029.4 273.1h1.4M1033.5 254.8h1.4M1035.9 251.3h1.4M1037.3 265.3h1.4M1025.8 263.3h1.4M1024.1 250.5h1.4M1034.9 266.8h1.4M1047.7 267.0h1.4M1055.5 256.9h1.4M1051.7 270.5h1.4M1042.4 267.7h1.4M1038.1 270.2h1.4M1021.1 272.5h1.4M1056.0 273.7h1.4M1034.8 256.2h1.4M1043.1 258.8h1.4M1045.0 273.9h1.4M1031.7 251.7h1.4M1045.7 279.1h1.4M1043.2 283.6h1.4M1043.1 266.4h1.4M1034.8 276.9h1.4M1049.5 269.2h1.4M1034.2 267.9h1.4M1043.8 254.5h1.4M1039.0 275.6h1.4M1051.9 265.7h1.4M1036.2 263.1h1.4M1031.6 272.3h1.4M1034.1 268.3h1.4M1045.4 259.8h1.4M1026.2 259.1h1.4M1036.8 268.8h1.4M1018.5 261.6h1.4M1044.2 272.7h1.4M1051.5 268.5h1.4M1032.7 263.4h1.4M1029.8 258.7h1.4M1024.6 266.9h1.4M1028.7 260.1h1.4M1045.2 264.4h1.4M1034.9 266.2h1.4M1034.2 273.9h1.4M1029.1 238.1h1.4M1031.0 268.9h1.4M1044.3 252.3h1.4M1028.1 255.4h1.4M1032.6 263.3h1.4M1030.4 254.2h1.4M1033.4 248.6h1.4M1033.6 254.9h1.4M1028.1 263.5h1.4M1023.5 258.9h1.4M1039.6 259.3h1.4M1026.7 262.2h1.4M1035.9 271.5h1.4M1042.8 258.8h1.4M1048.8 267.7h1.4M1041.4 263.1h1.4M1038.7 258.5h1.4M1039.4 274.0h1.4M1039.0 256.6h1.4M1025.6 251.4h1.4M1030.1 274.0h1.4M1036.7 267.9h1.4M1037.0 270.6h1.4M1003.8 273.8h1.4M990.0 245.4h1.4M1007.9 239.6h1.4M994.6 263.3h1.4M1004.9 238.9h1.4M1057.9 266.7h1.4M1019.3 244.3h1.4M1054.4 234.7h1.4M982.0 251.4h1.4M1066.9 244.8h1.4M982.0 274.8h1.4M1026.0 244.1h1.4M1004.5 247.4h1.4M1034.6 233.0h1.4M995.0 241.4h1.4M1028.0 243.8h1.4M1020.1 262.3h1.4M1056.9 249.0h1.4M983.7 264.5h1.4M999.2 251.9h1.4M1056.8 242.3h1.4M1068.3 272.6h1.4M1008.2 252.5h1.4M1000.7 241.8h1.4M1066.4 271.4h1.4M997.2 263.7h1.4M983.7 268.2h1.4M1020.4 242.9h1.4M980.9 264.9h1.4M1069.5 235.2h1.4M1036.2 261.8h1.4M1016.6 242.2h1.4M1060.6 247.9h1.4M1017.8 274.3h1.4M1004.0 247.3h1.4M1006.9 237.6h1.4M984.9 272.2h1.4M1064.2 232.8h1.4M1001.6 247.5h1.4M1028.1 239.6h1.4M1029.2 238.0h1.4M984.8 266.6h1.4M1069.0 277.0h1.4M1059.7 272.4h1.4M999.7 265.9h1.4M1042.4 252.4h1.4M1058.1 267.0h1.4M1060.4 256.4h1.4M1027.2 275.5h1.4M1015.9 276.0h1.4M998.7 257.7h1.4M1044.3 239.2h1.4M993.7 239.5h1.4M1006.8 260.8h1.4M1008.9 266.8h1.4M1064.7 270.6h1.4M1020.2 273.1h1.4M1014.6 240.8h1.4M1066.2 256.5h1.4M1004.8 274.6h1.4M978.5 266.1h1.4M986.9 251.7h1.4M1042.4 239.2h1.4M1013.1 269.9h1.4M1055.7 272.3h1.4M1027.4 266.6h1.4M1010.4 249.6h1.4M1032.5 258.3h1.4M1012.7 242.9h1.4M1023.4 250.9h1.4M1056.6 234.7h1.4M1064.6 232.1h1.4M1010.2 243.0h1.4M983.6 268.4h1.4M1056.5 262.4h1.4M1019.3 253.5h1.4M1068.4 250.4h1.4M1057.2 253.9h1.4M1028.8 235.2h1.4M1044.4 260.2h1.4M1031.8 235.3h1.4M1066.4 276.9h1.4M1014.7 236.5h1.4M1012.9 245.8h1.4M1027.2 264.4h1.4M1054.9 249.9h1.4M1063.3 260.6h1.4M1057.9 254.1h1.4M979.1 263.9h1.4M978.8 260.0h1.4M1037.0 256.4h1.4M1008.6 265.2h1.4M1059.4 238.1h1.4M1014.1 233.9h1.4M1047.2 233.5h1.4M1000.4 259.9h1.4M1062.0 269.6h1.4M1058.3 275.7h1.4M1011.7 237.0h1.4M1022.6 249.0h1.4M1027.6 250.9h1.4M1068.0 259.0h1.4M1060.0 245.7h1.4M1006.9 261.8h1.4M1066.5 257.0h1.4M1011.3 236.4h1.4M1057.1 257.4h1.4M1052.3 253.5h1.4M1060.7 261.0h1.4M985.2 257.5h1.4M1064.1 257.8h1.4M1069.5 265.2h1.4M985.8 260.1h1.4M1043.9 250.0h1.4M1047.4 235.8h1.4M1057.8 273.5h1.4M1004.9 269.2h1.4M988.2 275.9h1.4M979.7 271.8h1.4M1050.2 272.5h1.4M1018.9 268.7h1.4M1040.1 238.0h1.4M1056.5 250.3h1.4M1060.0 261.4h1.4M1003.3 257.4h1.4M1010.7 271.4h1.4M1032.1 236.6h1.4M1050.4 247.3h1.4M1053.3 272.0h1.4M1006.0 266.0h1.4M1041.9 237.7h1.4M1003.3 254.7h1.4M982.7 276.7h1.4M1000.6 269.1h1.4M996.8 276.0h1.4M982.1 270.7h1.4M986.0 270.7h1.4M996.7 244.6h1.4M1018.5 263.7h1.4M1059.2 241.2h1.4M989.1 245.2h1.4M1002.6 275.3h1.4M1015.6 251.1h1.4M1039.2 275.6h1.4M985.4 270.7h1.4M1005.2 237.9h1.4M1026.3 239.8h1.4M1001.2 258.8h1.4M993.1 255.6h1.4M995.6 253.9h1.4M1013.1 235.7h1.4M1066.1 272.8h1.4M1011.1 255.1h1.4M1012.3 235.4h1.4M1015.4 262.6h1.4M990.5 248.9h1.4M994.7 256.1h1.4M1017.6 269.2h1.4M1004.1 273.5h1.4M1070.1 239.5h1.4M1059.8 270.7h1.4M1002.1 237.3h1.4M1018.1 232.5h1.4M992.9 244.8h1.4M986.2 267.6h1.4M1070.5 274.1h1.4M1008.4 261.4h1.4M984.4 270.8h1.4M1063.1 245.2h1.4M1055.1 276.8h1.4M1026.9 234.0h1.4M1014.0 269.0h1.4M1034.3 239.8h1.4M1008.9 247.1h1.4M1067.2 255.1h1.4M1054.4 251.1h1.4M1002.5 247.9h1.4M1038.3 235.9h1.4M1026.7 252.3h1.4M1026.4 239.2h1.4M983.7 250.5h1.4M1068.6 271.6h1.4M1001.1 250.4h1.4M1010.8 236.1h1.4M999.8 245.0h1.4M1069.8 234.0h1.4M1015.2 246.9h1.4M1007.5 239.6h1.4M1010.2 241.6h1.4M979.8 262.3h1.4M1007.7 240.0h1.4M1069.8 245.3h1.4M996.8 271.6h1.4M980.8 269.4h1.4M989.3 267.4h1.4M990.0 267.6h1.4M1000.2 268.1h1.4M996.0 249.0h1.4M1066.0 265.7h1.4M995.6 255.5h1.4M1055.5 265.2h1.4M1006.1 265.3h1.4M1006.5 269.5h1.4M1064.9 251.2h1.4M993.7 269.1h1.4M990.4 262.2h1.4M1005.4 247.5h1.4M1014.4 233.9h1.4M994.0 242.8h1.4M977.7 246.8h1.4M1018.7 234.9h1.4M1065.0 273.6h1.4M999.1 263.0h1.4M1047.7 235.8h1.4M998.3 247.9h1.4M1065.7 267.8h1.4M992.7 251.2h1.4M991.6 239.7h1.4M1058.6 235.6h1.4M1037.9 232.9h1.4M1001.2 243.6h1.4M999.4 275.3h1.4M1038.2 263.8h1.4M1045.8 243.0h1.4M1009.9 263.4h1.4M1008.9 255.8h1.4M1068.8 241.4h1.4M998.1 250.9h1.4M1016.1 244.4h1.4M1003.3 271.8h1.4M1068.9 253.0h1.4M978.8 262.5h1.4M1061.2 272.4h1.4M1049.4 259.9h1.4M1008.5 239.2h1.4M1041.3 246.4h1.4M1012.0 273.5h1.4M1037.2 234.1h1.4M1017.3 242.0h1.4M1063.3 259.8h1.4M1053.7 268.9h1.4M1068.2 248.8h1.4M1062.7 260.6h1.4M1069.5 235.3h1.4M1034.7 237.9h1.4M1035.8 233.1h1.4M1064.6 277.0h1.4M1018.0 239.5h1.4M1054.8 258.2h1.4M1050.1 234.8h1.4M1018.7 232.7h1.4M986.0 270.0h1.4M984.1 245.3h1.4M1046.4 233.7h1.4M1010.7 234.7h1.4M1062.7 265.9h1.4M984.7 255.8h1.4M993.5 272.3h1.4M1055.9 260.5h1.4M1016.6 258.7h1.4M998.0 241.1h1.4M1050.7 242.1h1.4M1068.8 274.9h1.4M1003.1 251.7h1.4M1065.2 244.5h1.4M1005.1 241.0h1.4M1064.3 265.7h1.4M1019.4 276.3h1.4M1036.8 248.1h1.4M1029.4 234.9h1.4M1042.7 235.1h1.4M978.1 245.8h1.4M1045.3 270.1h1.4M1033.7 243.1h1.4M1053.3 321.1h1.4M1029.1 314.4h1.4M1032.4 326.7h1.4M999.4 323.7h1.4M983.1 281.4h1.4M1062.5 277.2h1.4M1026.0 297.8h1.4M1027.3 329.9h1.4M1035.4 309.0h1.4M990.7 323.0h1.4M1049.1 312.1h1.4M1041.6 282.4h1.4M991.8 303.0h1.4M1045.1 325.4h1.4M1031.7 322.0h1.4M1002.8 279.5h1.4M1037.1 305.7h1.4M1020.3 292.5h1.4M1036.9 300.5h1.4M1045.3 329.8h1.4M1054.0 327.1h1.4M1048.7 296.3h1.4M986.6 312.3h1.4M1059.0 321.2h1.4M1018.8 280.3h1.4M1055.2 316.8h1.4M980.8 284.7h1.4M987.6 331.4h1.4M1015.5 302.8h1.4M1061.1 284.9h1.4M1022.0 303.9h1.4M1062.3 322.8h1.4M1017.1 316.7h1.4M979.1 296.3h1.4M984.5 283.1h1.4M1036.4 295.6h1.4M1025.8 312.4h1.4M1053.9 330.3h1.4M1033.2 317.2h1.4M1001.6 294.8h1.4M1051.8 311.1h1.4M1040.0 318.7h1.4M984.2 288.3h1.4M1048.8 330.4h1.4M1008.7 288.9h1.4M1048.3 306.3h1.4M1055.4 303.0h1.4M987.1 284.8h1.4M1040.6 303.5h1.4M1004.2 291.5h1.4M1051.1 322.4h1.4M987.2 304.0h1.4M1052.7 305.9h1.4M1061.0 284.2h1.4M1021.7 330.0h1.4M1024.5 290.4h1.4M1054.5 320.3h1.4M984.9 305.7h1.4M1050.6 294.2h1.4M1007.3 312.7h1.4M1012.2 316.9h1.4M1052.4 283.9h1.4M987.8 290.6h1.4M989.6 286.4h1.4M1040.0 311.4h1.4M1036.9 291.5h1.4M1008.0 329.5h1.4M979.7 298.0h1.4M999.9 328.1h1.4M1016.1 294.1h1.4M1016.3 324.3h1.4M1010.4 327.8h1.4M1010.4 314.9h1.4M993.8 293.7h1.4M1058.8 332.1h1.4M1032.4 308.7h1.4M1016.1 298.7h1.4M1029.3 329.4h1.4M1005.6 311.5h1.4M1060.1 316.6h1.4M1001.0 284.1h1.4M1057.4 299.6h1.4M1043.3 296.2h1.4M1044.2 292.6h1.4M1063.2 300.6h1.4M1020.0 319.2h1.4M983.7 297.6h1.4M1036.0 320.3h1.4M984.0 298.1h1.4M1033.0 307.3h1.4M1039.0 293.2h1.4M994.8 280.9h1.4M987.3 320.5h1.4M988.9 305.3h1.4M1033.8 321.3h1.4M1041.5 320.7h1.4M1056.4 320.4h1.4M985.7 292.7h1.4M1031.5 288.9h1.4M1049.2 302.7h1.4M1039.7 310.4h1.4M1019.5 325.1h1.4M1000.4 332.9h1.4M1040.0 317.6h1.4M1050.9 308.3h1.4M996.2 292.4h1.4M1038.4 309.2h1.4M1043.6 292.2h1.4M1063.0 325.6h1.4M1011.1 299.4h1.4M981.1 288.8h1.4M1041.3 319.6h1.4M1000.7 287.5h1.4M1055.7 294.3h1.4M1045.8 327.9h1.4M1008.3 327.2h1.4M1042.3 297.4h1.4M995.5 289.0h1.4M1001.9 307.7h1.4M1056.6 331.3h1.4M1045.8 283.0h1.4M977.7 301.5h1.4M1053.2 300.2h1.4M1045.6 332.4h1.4M1049.7 332.2h1.4M1031.6 279.5h1.4M995.2 330.4h1.4M1002.9 312.9h1.4M1010.8 302.9h1.4M993.2 300.9h1.4M979.7 324.8h1.4M1010.8 298.7h1.4M986.5 298.6h1.4M1051.0 321.6h1.4M1041.9 323.4h1.4M980.8 284.1h1.4M994.6 290.2h1.4M1041.3 315.9h1.4M982.2 285.8h1.4M979.3 278.8h1.4M987.5 325.5h1.4M989.5 277.4h1.4M1043.8 326.8h1.4M1044.6 310.1h1.4M1026.5 298.5h1.4M1003.6 293.1h1.4M1044.7 298.4h1.4M1031.8 327.1h1.4M982.6 309.0h1.4M993.5 284.3h1.4M1037.1 308.1h1.4M1026.0 293.8h1.4M1011.2 327.4h1.4M998.2 304.2h1.4M1062.2 316.4h1.4M1048.1 311.0h1.4M1035.6 302.5h1.4M1027.1 281.8h1.4M1037.7 282.0h1.4M1062.4 328.7h1.4M1044.7 303.8h1.4M997.7 306.7h1.4M982.4 297.0h1.4M1056.4 298.7h1.4M1040.8 325.8h1.4M1027.4 319.3h1.4M1019.4 298.1h1.4M1059.0 322.5h1.4M980.9 297.6h1.4M990.7 280.6h1.4M1063.1 300.2h1.4M1037.1 301.2h1.4M1029.0 286.0h1.4M1006.8 316.1h1.4M990.9 289.6h1.4M978.7 313.1h1.4M989.5 306.0h1.4M992.3 312.9h1.4M1021.2 326.9h1.4M1008.8 316.5h1.4M1061.4 311.1h1.4M1056.5 314.9h1.4M1025.1 305.5h1.4M991.6 332.6h1.4M1004.6 322.5h1.4M979.6 285.0h1.4M1010.4 300.9h1.4M1057.0 328.6h1.4M1004.5 284.2h1.4M1050.5 289.6h1.4M1007.9 307.0h1.4M1046.9 285.5h1.4M991.1 294.8h1.4M981.7 286.8h1.4M1010.1 326.4h1.4M1040.4 305.5h1.4M1017.1 304.8h1.4M1049.8 310.9h1.4M1027.7 304.1h1.4M1020.2 317.8h1.4M980.7 318.1h1.4M1028.1 327.8h1.4M993.7 303.8h1.4M984.4 283.5h1.4M986.1 330.9h1.4M1001.9 316.3h1.4M1002.7 325.2h1.4M1012.8 329.8h1.4M999.5 291.7h1.4M1003.2 277.8h1.4M998.9 317.9h1.4M1004.4 312.6h1.4M1002.9 282.6h1.4M1048.7 318.6h1.4M1061.5 330.1h1.4M1011.1 286.6h1.4M1051.9 310.4h1.4M986.4 299.8h1.4M1018.8 311.1h1.4M985.1 327.2h1.4M1063.2 292.7h1.4M1011.6 312.6h1.4M1020.2 289.3h1.4M1058.6 286.3h1.4M1056.4 330.6h1.4M995.3 290.7h1.4M1016.5 330.4h1.4M1040.5 325.1h1.4M1016.9 307.8h1.4M1058.1 308.0h1.4M1061.2 319.9h1.4M1030.7 314.9h1.4M1030.1 309.4h1.4M1000.1 302.8h1.4M1015.5 297.8h1.4M996.1 318.2h1.4M1046.6 304.2h1.4M1005.8 310.6h1.4M1006.9 286.4h1.4M1059.0 321.8h1.4M1015.6 332.6h1.4M1033.3 331.5h1.4M1044.9 307.5h1.4M1021.7 320.7h1.4M1058.5 282.9h1.4M1046.9 294.8h1.4M1054.0 329.5h1.4M992.2 300.7h1.4M989.9 319.8h1.4M1023.2 332.3h1.4M1059.1 277.8h1.4M1024.9 312.3h1.4M1014.3 323.9h1.4M987.0 322.5h1.4M1009.6 328.4h1.4M993.1 312.8h1.4M1016.6 324.4h1.4M1016.8 298.9h1.4M1057.6 309.7h1.4M1011.3 307.3h1.4M1053.3 301.2h1.4M980.9 301.6h1.4M1007.1 316.3h1.4M1015.7 323.5h1.4M984.1 316.5h1.4M1008.0 287.5h1.4M1024.9 295.9h1.4M1059.5 324.0h1.4M997.7 300.2h1.4M985.0 324.3h1.4M1042.5 298.7h1.4M1030.2 332.6h1.4M1007.4 298.3h1.4M1010.9 332.1h1.4M1005.5 297.9h1.4M1034.3 300.0h1.4M1051.8 285.9h1.4M1055.5 280.5h1.4M1013.3 320.6h1.4M1019.6 304.4h1.4M999.4 325.1h1.4M984.8 311.4h1.4M994.6 330.0h1.4M998.9 305.3h1.4M1019.8 328.7h1.4M1049.9 327.0h1.4M1008.2 323.9h1.4M1043.1 310.2h1.4M999.1 291.0h1.4M983.9 322.3h1.4M1054.0 313.6h1.4M1007.6 301.1h1.4M1032.4 305.3h1.4M1025.6 320.9h1.4M1019.3 289.2h1.4M1017.9 332.3h1.4M985.9 331.7h1.4M1020.6 277.6h1.4M1025.9 314.3h1.4M1001.0 306.0h1.4M1036.1 308.4h1.4M989.7 311.1h1.4M1046.8 323.6h1.4M982.2 323.3h1.4M1049.8 322.2h1.4M1049.2 279.4h1.4M987.9 326.0h1.4M1062.5 305.8h1.4M1054.7 325.5h1.4M992.7 327.8h1.4M1017.3 299.4h1.4M989.7 304.8h1.4M995.1 310.3h1.4M995.0 329.5h1.4M1026.5 310.3h1.4M1060.8 304.0h1.4M1003.6 283.7h1.4M1018.6 315.0h1.4M1009.3 317.5h1.4M1010.2 282.5h1.4M1027.5 281.9h1.4M1044.9 303.8h1.4M1036.1 330.5h1.4M987.2 323.4h1.4M1001.0 313.9h1.4M1031.2 298.6h1.4M1042.8 330.2h1.4M1051.9 303.0h1.4M1016.8 310.1h1.4M981.4 281.3h1.4M1021.9 325.3h1.4M1003.5 304.7h1.4M1022.5 318.0h1.4M1028.9 324.5h1.4M992.0 321.0h1.4M983.8 321.1h1.4M1038.6 320.8h1.4M1039.4 298.0h1.4M1062.2 277.6h1.4M983.1 313.1h1.4M983.9 294.0h1.4M1060.8 332.2h1.4M1040.5 294.0h1.4M991.5 316.4h1.4M994.1 302.0h1.4M1044.1 321.7h1.4M1040.2 327.9h1.4M1057.0 280.1h1.4M1012.1 331.0h1.4M1055.7 277.3h1.4M1010.3 322.4h1.4M996.2 314.6h1.4M1001.1 332.3h1.4M1029.3 280.9h1.4M1002.6 318.5h1.4M1051.3 282.3h1.4M1021.7 309.3h1.4M1057.2 295.8h1.4M1029.0 307.8h1.4M1026.9 319.2h1.4M1020.9 287.0h1.4M994.0 293.1h1.4M1054.4 299.2h1.4M1043.5 277.6h1.4M1013.0 317.8h1.4M994.7 316.1h1.4M1013.2 313.3h1.4M1044.2 314.5h1.4M983.1 295.6h1.4M1007.6 292.8h1.4M1033.2 289.1h1.4M1057.4 310.4h1.4M994.6 283.6h1.4M1035.3 299.1h1.4M978.6 319.2h1.4M1057.2 288.8h1.4M1035.4 293.8h1.4M1039.4 303.5h1.4M984.9 314.9h1.4M1018.5 284.1h1.4M1032.6 328.2h1.4M1001.2 329.7h1.4M1059.8 283.2h1.4M1043.9 303.7h1.4M978.9 295.7h1.4M1002.6 295.6h1.4M1054.7 287.4h1.4M1041.6 306.7h1.4M1046.3 321.7h1.4M993.5 289.5h1.4M1053.0 320.7h1.4M1033.9 318.7h1.4M1012.1 311.9h1.4M1036.0 326.6h1.4M998.3 310.3h1.4M1054.5 321.6h1.4M984.1 330.5h1.4M1000.3 324.7h1.4M1039.1 308.8h1.4M1013.3 292.6h1.4M1053.3 310.4h1.4M1048.4 317.1h1.4M1035.8 317.0h1.4M1008.3 298.7h1.4M1015.1 318.7h1.4M1005.8 294.9h1.4M1004.1 283.3h1.4M978.3 330.6h1.4M999.5 328.4h1.4M1037.1 300.2h1.4M1023.9 307.4h1.4M1005.7 276.9h1.4M1005.3 330.3h1.4M983.9 310.8h1.4M1057.2 309.5h1.4M1036.4 314.4h1.4M1007.0 331.8h1.4M1025.7 315.9h1.4M988.8 310.8h1.4M1027.7 311.7h1.4M990.6 283.8h1.4M1058.3 293.2h1.4M989.4 285.6h1.4M1021.1 278.1h1.4M1033.1 301.7h1.4M980.0 297.3h1.4M1023.1 298.7h1.4M1035.9 325.1h1.4M1034.2 278.2h1.4M983.6 277.2h1.4M982.2 277.3h1.4M1051.3 321.0h1.4M990.0 297.0h1.4M1008.5 329.9h1.4M1049.6 294.1h1.4M981.1 299.3h1.4M1051.1 315.8h1.4M1033.5 330.0h1.4M1010.6 328.0h1.4M998.0 297.4h1.4M1022.1 314.8h1.4M1048.2 279.5h1.4M994.7 308.6h1.4M998.5 312.8h1.4M1020.3 291.8h1.4M1047.0 313.4h1.4M1013.2 293.4h1.4M1012.7 319.7h1.4M1060.1 280.1h1.4M1023.3 305.7h1.4M1044.9 330.2h1.4M1035.2 311.8h1.4M1024.4 329.6h1.4M1014.6 330.0h1.4M1033.6 319.5h1.4M1048.9 321.8h1.4M989.7 317.9h1.4M1000.5 305.1h1.4M995.4 321.0h1.4M1005.2 325.1h1.4M1015.9 276.4h1.4M1059.6 302.4h1.4M977.6 316.9h1.4M993.2 299.9h1.4M1052.0 297.8h1.4M1008.9 310.6h1.4M1058.5 330.4h1.4M986.5 311.1h1.4M978.6 290.0h1.4M1055.3 312.2h1.4M1047.8 297.1h1.4M1023.5 296.9h1.4M1044.2 316.7h1.4M1014.0 323.9h1.4M992.0 276.4h1.4M1012.3 320.4h1.4M977.8 295.9h1.4M1016.8 295.9h1.4M1016.2 303.9h1.4M1061.8 286.5h1.4M1023.0 316.7h1.4M990.3 327.8h1.4M1001.6 284.0h1.4M1061.0 331.9h1.4M988.3 315.2h1.4M1032.5 328.3h1.4M1048.9 298.0h1.4M1058.3 319.8h1.4M1037.9 316.5h1.4M992.8 318.4h1.4M1056.4 303.2h1.4M1021.7 292.7h1.4M1022.7 296.8h1.4M1054.0 284.2h1.4M978.7 280.5h1.4M1039.2 297.7h1.4M1042.8 324.8h1.4M1034.9 294.9h1.4M994.0 308.0h1.4M1055.9 323.0h1.4M997.9 282.0h1.4M1005.2 297.1h1.4M1049.1 297.1h1.4M1000.0 327.5h1.4M1050.4 307.0h1.4M1009.2 298.8h1.4M1031.7 292.0h1.4M1039.6 299.5h1.4M1003.8 296.6h1.4M993.6 304.4h1.4M1003.4 298.2h1.4M1002.1 300.0h1.4M997.2 316.4h1.4M1033.0 321.1h1.4M986.2 292.4h1.4M1008.0 280.1h1.4M1016.7 308.2h1.4M1054.0 291.0h1.4M996.9 297.7h1.4M1044.9 325.3h1.4M984.7 316.3h1.4M1059.1 291.9h1.4M1060.0 289.5h1.4M1036.8 308.2h1.4M994.7 282.9h1.4M1046.5 321.9h1.4M1033.6 317.3h1.4M999.1 301.5h1.4M1044.5 298.7h1.4M996.7 318.1h1.4M1020.8 300.3h1.4M995.6 324.0h1.4M999.5 287.0h1.4M1053.4 312.9h1.4M982.6 292.1h1.4M1019.6 311.3h1.4M986.9 325.9h1.4M984.5 297.1h1.4M1014.9 314.8h1.4M1008.1 318.7h1.4M999.6 302.7h1.4M999.3 306.7h1.4M997.0 282.8h1.4M1032.2 306.8h1.4M1061.3 306.3h1.4M1003.7 327.0h1.4M1011.7 296.1h1.4M988.2 320.8h1.4M1007.8 278.1h1.4M1005.5 307.7h1.4M1052.9 317.0h1.4M981.9 302.6h1.4M1054.0 287.1h1.4M1030.1 314.0h1.4M1048.9 289.8h1.4M1025.6 301.8h1.4M1038.4 288.0h1.4M1053.5 327.8h1.4M992.1 298.4h1.4M986.8 315.6h1.4M1018.5 310.7h1.4M1022.1 292.8h1.4M1008.3 282.8h1.4M1061.6 294.0h1.4M1029.8 310.3h1.4M979.8 307.7h1.4M1001.1 324.7h1.4M1001.6 277.5h1.4M1062.7 299.3h1.4M989.1 332.1h1.4M1030.8 321.6h1.4M1008.4 316.7h1.4M991.3 306.0h1.4M996.9 326.0h1.4M1024.6 305.3h1.4M1022.0 314.7h1.4M1012.3 290.7h1.4M1056.3 332.0h1.4M1011.8 287.9h1.4M995.6 323.7h1.4M1027.3 303.5h1.4M978.0 321.2h1.4M1018.9 289.0h1.4M993.1 325.7h1.4M997.5 326.6h1.4M1043.5 288.0h1.4M1060.1 292.6h1.4M1052.3 316.5h1.4M997.6 319.6h1.4M1051.3 323.1h1.4M1049.7 322.5h1.4M982.3 311.5h1.4M1028.2 331.6h1.4M994.1 287.7h1.4M979.0 329.8h1.4M996.3 325.1h1.4M1023.9 309.5h1.4M1040.8 330.8h1.4M1026.0 318.4h1.4M1028.8 297.1h1.4M1022.1 294.4h1.4M1045.6 330.2h1.4M1033.2 289.2h1.4M1036.0 322.8h1.4M1055.0 301.3h1.4M987.4 315.7h1.4M980.6 322.8h1.4M1023.0 281.7h1.4M1015.7 290.8h1.4M1055.4 282.5h1.4M1003.8 298.9h1.4M1035.5 284.1h1.4M1037.1 328.2h1.4M997.8 320.9h1.4M978.0 309.1h1.4M1013.3 286.9h1.4M994.7 288.0h1.4M993.7 309.8h1.4M1016.9 327.7h1.4M992.7 329.2h1.4M1025.5 329.0h1.4M1017.7 315.8h1.4M1025.8 305.6h1.4M994.3 307.7h1.4M1026.8 314.6h1.4M1050.7 292.8h1.4M1050.3 291.3h1.4M986.8 299.5h1.4M1005.2 289.3h1.4M1039.0 325.0h1.4M1028.1 296.9h1.4M1049.0 312.1h1.4M1054.3 332.2h1.4M1025.7 307.3h1.4M1060.1 327.4h1.4M1018.6 311.9h1.4M1007.1 311.3h1.4M988.2 302.3h1.4M1036.7 314.2h1.4M983.4 307.1h1.4M992.9 295.1h1.4M1056.8 320.7h1.4M983.8 327.9h1.4M1026.3 277.5h1.4M1020.3 281.7h1.4M1036.8 325.8h1.4M1006.2 311.2h1.4M1031.1 298.7h1.4M1052.7 331.6h1.4M1026.5 329.8h1.4M1022.4 300.2h1.4M1029.9 297.1h1.4M993.3 306.4h1.4M1006.0 309.8h1.4M1038.9 324.0h1.4M1026.1 326.1h1.4M987.4 292.2h1.4M1051.9 324.7h1.4M1012.7 280.4h1.4M998.5 287.9h1.4M990.2 299.9h1.4M1056.8 280.3h1.4M1040.1 295.8h1.4M1003.9 277.6h1.4M993.9 321.9h1.4M1050.5 314.5h1.4M989.9 290.8h1.4M1022.2 305.8h1.4M1034.8 298.2h1.4M1058.0 322.7h1.4M1036.3 292.8h1.4M986.6 289.5h1.4M1022.0 320.3h1.4M1055.7 319.1h1.4M1000.5 316.1h1.4M984.9 279.6h1.4M982.3 278.4h1.4M1049.1 329.0h1.4M1057.6 331.4h1.4M1017.0 287.7h1.4M1003.6 304.0h1.4M1011.5 302.4h1.4M992.6 292.2h1.4M1014.8 280.5h1.4M1017.9 290.4h1.4M1023.2 330.8h1.4M986.3 301.2h1.4M1061.1 287.7h1.4M1026.5 312.8h1.4M1048.4 323.9h1.4M1027.7 319.0h1.4M1032.4 283.4h1.4M1058.0 312.4h1.4M983.3 281.4h1.4M992.2 302.5h1.4M1007.5 303.6h1.4M1023.2 277.6h1.4M1048.5 322.9h1.4M1040.4 318.1h1.4M1024.5 321.1h1.4M993.9 313.2h1.4M1015.1 315.6h1.4M987.0 308.6h1.4M1056.0 311.5h1.4M1049.7 318.9h1.4M1030.1 292.5h1.4M998.5 328.1h1.4M1026.9 302.3h1.4M1005.1 294.0h1.4M980.5 331.5h1.4M1029.2 316.2h1.4M1025.4 281.4h1.4M1056.9 291.7h1.4M1026.4 314.4h1.4M1044.6 330.6h1.4M996.4 306.7h1.4M1024.8 306.8h1.4M1005.1 276.0h1.4M1062.0 284.7h1.4M1059.7 321.9h1.4M998.4 289.8h1.4M1030.9 306.6h1.4M1024.5 309.9h1.4M1062.0 319.7h1.4M989.3 312.7h1.4M1040.0 293.7h1.4M1021.6 309.4h1.4M1062.7 315.7h1.4M1012.4 280.0h1.4M1048.4 331.1h1.4M1028.6 311.3h1.4M1046.1 331.6h1.4M1033.0 277.8h1.4M1028.6 324.8h1.4M1045.3 290.0h1.4M1047.9 328.0h1.4M1031.6 331.8h1.4M1016.5 319.8h1.4M987.2 301.0h1.4M1032.8 327.8h1.4M1011.3 311.8h1.4M1022.1 317.4h1.4M1011.6 294.9h1.4M994.9 283.7h1.4M1050.2 296.9h1.4M1000.7 324.9h1.4M1031.6 318.3h1.4M986.1 297.7h1.4M1060.2 323.0h1.4M990.4 307.9h1.4M1020.6 295.3h1.4M997.3 314.9h1.4M1032.8 290.1h1.4M1012.4 304.8h1.4M1060.1 289.7h1.4M988.8 312.0h1.4M1024.2 291.9h1.4M1035.9 311.7h1.4M1026.8 324.0h1.4M993.0 317.6h1.4M1019.5 292.4h1.4M982.9 298.7h1.4M1035.2 304.6h1.4M1005.6 330.0h1.4M1060.0 286.1h1.4M1011.7 321.0h1.4M981.7 282.5h1.4M978.3 323.8h1.4M1005.6 282.3h1.4M999.8 297.8h1.4M1059.1 297.1h1.4M1044.4 314.0h1.4M1008.9 294.0h1.4M999.7 321.9h1.4M983.1 332.2h1.4M982.2 281.5h1.4M1044.8 321.8h1.4M1011.2 299.3h1.4M1036.0 305.2h1.4M1030.3 324.2h1.4M986.7 316.7h1.4M1042.3 306.0h1.4M1052.8 293.1h1.4M986.8 280.6h1.4M1060.8 282.4h1.4M1046.6 279.0h1.4M1037.2 330.0h1.4M981.3 282.3h1.4M996.8 305.4h1.4M1055.2 311.1h1.4M1051.5 329.7h1.4M996.0 332.7h1.4M1024.3 313.4h1.4M1006.9 309.1h1.4M993.4 316.3h1.4M1044.5 300.8h1.4M1035.4 320.5h1.4M983.2 323.7h1.4M1034.8 288.3h1.4M978.4 306.1h1.4M985.5 293.9h1.4M980.3 300.0h1.4M1022.0 310.5h1.4M1036.0 305.5h1.4M999.5 297.9h1.4M1037.3 307.7h1.4M983.4 304.8h1.4M984.9 277.6h1.4M1020.1 315.3h1.4M979.7 321.0h1.4M1054.0 313.1h1.4M977.9 289.8h1.4M1046.0 317.6h1.4M1026.3 301.9h1.4M1061.1 312.5h1.4M1046.1 314.3h1.4M1055.0 300.6h1.4M1050.8 286.7h1.4M1050.7 329.5h1.4M1042.4 323.2h1.4M1055.2 297.8h1.4M984.7 297.6h1.4M1035.6 318.9h1.4M1008.5 291.8h1.4M1014.9 322.8h1.4M987.0 295.3h1.4M1004.0 324.0h1.4M1038.7 282.3h1.4M1024.7 330.0h1.4M1057.0 296.9h1.4M999.2 328.5h1.4M997.0 290.1h1.4M1040.7 297.3h1.4M1059.6 290.5h1.4M1008.9 309.4h1.4M982.0 314.5h1.4M997.5 314.7h1.4M1061.3 301.8h1.4M1019.5 300.4h1.4M1050.7 290.3h1.4M995.9 303.7h1.4M1033.0 306.1h1.4M1055.9 291.8h1.4M1007.4 307.8h1.4M1041.3 299.9h1.4M989.4 294.5h1.4M999.6 306.4h1.4M1028.3 320.2h1.4M999.6 277.8h1.4M991.1 301.1h1.4M991.2 281.7h1.4M1044.6 296.2h1.4M1016.9 318.0h1.4M1025.1 312.2h1.4M1032.0 316.8h1.4M1005.3 322.4h1.4M1033.8 295.4h1.4M1016.2 297.3h1.4M985.3 286.7h1.4M1022.3 294.7h1.4M1020.2 311.2h1.4M1059.8 316.5h1.4M981.4 306.6h1.4M1037.8 312.8h1.4M1018.6 324.3h1.4M1014.4 325.7h1.4M1038.5 277.3h1.4M1013.1 304.0h1.4M1033.7 311.6h1.4M1029.5 321.4h1.4M984.9 277.6h1.4M1008.2 327.3h1.4M1054.2 300.9h1.4M991.0 331.1h1.4M1022.2 321.0h1.4M1032.1 298.6h1.4M987.6 330.2h1.4M994.5 302.5h1.4M1005.1 282.2h1.4M1028.8 287.4h1.4M988.2 306.6h1.4M1043.3 319.2h1.4M1046.4 329.5h1.4M998.0 290.6h1.4M1023.9 331.7h1.4M1051.2 313.0h1.4M1014.8 317.9h1.4M1026.4 298.0h1.4M1012.6 306.3h1.4M1040.9 296.1h1.4M1031.3 304.8h1.4M1041.9 324.0h1.4M1060.7 319.7h1.4M1026.5 299.5h1.4M999.2 292.9h1.4M1021.4 309.7h1.4M1058.7 330.3h1.4M1062.0 316.2h1.4M987.9 289.3h1.4M1035.1 321.2h1.4M979.2 326.5h1.4M986.6 318.0h1.4M1009.2 317.4h1.4M985.6 314.6h1.4M1033.3 308.3h1.4M1020.2 298.5h1.4M1010.4 316.9h1.4M1050.5 300.0h1.4M998.6 327.1h1.4M1001.7 328.2h1.4M979.2 283.2h1.4M1039.4 321.8h1.4M1032.8 311.4h1.4M1013.0 294.9h1.4M1005.8 284.3h1.4M995.7 301.4h1.4M980.2 288.1h1.4M1015.9 329.9h1.4M1005.7 293.0h1.4M1015.5 290.7h1.4M981.9 305.7h1.4M979.6 282.6h1.4M1013.0 286.1h1.4M1044.9 323.2h1.4M1050.0 304.7h1.4M1008.4 320.9h1.4M1016.7 323.5h1.4M1043.1 293.2h1.4M1008.9 317.9h1.4M998.7 306.7h1.4M1017.6 324.5h1.4M1033.0 313.4h1.4M1049.4 285.7h1.4M1048.0 303.6h1.4M980.3 299.1h1.4M991.4 282.8h1.4M982.5 316.2h1.4M1015.8 313.7h1.4M1016.2 300.0h1.4M1022.3 283.1h1.4M1027.9 318.1h1.4M980.7 319.0h1.4M1041.3 296.8h1.4M993.7 310.3h1.4M991.0 318.6h1.4M998.5 299.9h1.4M1026.7 302.7h1.4M997.9 279.1h1.4M1032.3 314.8h1.4M1012.0 281.5h1.4M1057.0 286.7h1.4M1042.3 303.7h1.4M989.2 328.9h1.4M997.0 332.8h1.4M986.7 320.2h1.4M1038.5 296.6h1.4M1016.2 299.3h1.4M985.3 279.6h1.4M1052.7 292.2h1.4M1041.5 316.4h1.4M1034.5 311.3h1.4M1037.4 329.0h1.4M1008.5 293.9h1.4M993.6 299.8h1.4M978.9 317.9h1.4M1055.4 289.7h1.4M979.7 331.8h1.4M994.0 295.8h1.4M1022.6 325.9h1.4M983.6 299.0h1.4M1002.8 327.3h1.4M1041.9 323.3h1.4M995.8 292.7h1.4M1003.5 278.9h1.4M1001.6 313.9h1.4M995.0 295.4h1.4M1046.6 294.8h1.4M1058.9 316.8h1.4M1028.1 299.5h1.4M999.2 291.8h1.4M998.2 325.1h1.4M1036.6 321.4h1.4M1039.2 322.0h1.4M1047.5 294.6h1.4M989.0 331.7h1.4M994.4 305.1h1.4M1006.6 294.0h1.4M1047.3 322.2h1.4M984.8 316.2h1.4M1003.0 329.4h1.4M987.2 281.3h1.4M1046.5 279.1h1.4M1038.4 326.7h1.4M1046.8 290.4h1.4M1004.6 294.9h1.4M1053.5 304.6h1.4M979.0 287.8h1.4M1043.3 330.4h1.4M1043.9 296.9h1.4M1042.5 287.4h1.4M992.7 323.0h1.4M1060.5 320.5h1.4M1058.2 328.4h1.4M999.3 303.1h1.4M1059.4 320.8h1.4M1024.2 322.2h1.4M1021.2 323.8h1.4M1056.0 304.0h1.4M999.3 313.3h1.4M987.8 293.4h1.4M1049.4 320.7h1.4M1015.3 312.2h1.4M1024.7 321.8h1.4M1018.5 318.4h1.4M1052.8 300.9h1.4M1037.9 289.8h1.4M1043.4 304.2h1.4M977.5 330.3h1.4M1025.5 287.8h1.4M1029.3 322.5h1.4M991.7 309.5h1.4M983.1 327.4h1.4M1012.9 301.6h1.4M1044.0 288.5h1.4M998.4 293.7h1.4M983.1 314.2h1.4M1007.0 311.7h1.4M997.3 288.1h1.4M1059.6 319.0h1.4M991.7 323.8h1.4M1050.6 302.3h1.4M1000.5 310.6h1.4M1013.2 320.8h1.4M988.6 301.9h1.4M1029.6 308.0h1.4M1034.6 318.6h1.4M1015.3 328.3h1.4M1043.2 315.3h1.4M1014.2 314.8h1.4M990.7 286.0h1.4M1017.0 320.6h1.4M990.1 314.8h1.4M1037.1 322.9h1.4M1015.5 310.8h1.4M1035.4 304.7h1.4M993.7 332.2h1.4M997.4 295.4h1.4M1055.4 304.2h1.4M1036.7 309.4h1.4M1003.9 296.6h1.4M981.8 330.3h1.4M1006.3 294.9h1.4M1054.6 306.5h1.4M991.6 288.7h1.4M1056.8 311.8h1.4M994.7 292.6h1.4M980.3 296.9h1.4M988.7 315.1h1.4M978.9 314.7h1.4M998.0 278.7h1.4M1043.5 308.2h1.4M1018.5 308.3h1.4M1045.4 296.5h1.4M985.3 297.1h1.4M1041.7 310.5h1.4M989.0 320.6h1.4M1005.1 320.5h1.4M1057.7 324.2h1.4M1040.1 306.3h1.4M1040.1 290.7h1.4M1032.8 317.8h1.4M1014.3 283.9h1.4M1060.3 305.7h1.4M1066.9 300.9h1.4M1066.4 292.0h1.4M1076.7 293.6h1.4M1074.6 287.6h1.4M1074.2 291.0h1.4M1072.5 278.1h1.4M1062.6 318.7h1.4M1074.1 288.6h1.4M1073.0 279.3h1.4M1060.2 297.9h1.4M1066.8 282.2h1.4M1064.2 300.3h1.4M1069.3 290.5h1.4M1067.4 308.9h1.4M1067.7 318.3h1.4M1070.5 325.9h1.4M1073.2 316.8h1.4M1075.3 323.2h1.4M1068.0 332.7h1.4M1066.1 298.9h1.4M1074.7 284.9h1.4M1059.7 285.7h1.4M1073.2 302.5h1.4M1064.6 323.4h1.4M1075.9 285.5h1.4M1064.9 305.9h1.4M1061.6 308.6h1.4M1076.5 325.3h1.4M1066.7 295.6h1.4M1065.9 314.6h1.4M1075.6 312.1h1.4M1074.6 313.8h1.4M1063.7 286.4h1.4M1061.5 305.0h1.4M1075.4 279.1h1.4M1066.2 299.5h1.4M1067.6 279.0h1.4M1062.1 331.0h1.4M1066.7 295.7h1.4M1075.4 290.1h1.4M1075.7 327.5h1.4M1062.7 300.6h1.4M1070.9 305.2h1.4M1061.8 325.5h1.4M1068.4 305.8h1.4M1073.4 298.4h1.4M1064.0 318.0h1.4M1069.9 293.2h1.4M1062.8 284.6h1.4M1064.3 316.9h1.4M1070.8 304.4h1.4M1065.4 332.9h1.4M1063.2 307.1h1.4M1065.1 327.1h1.4M1073.0 278.4h1.4M1066.8 277.3h1.4M1070.1 296.0h1.4M1064.0 323.6h1.4M1070.5 303.1h1.4M1060.1 310.7h1.4M1060.3 296.7h1.4M1063.2 295.7h1.4M1073.5 294.8h1.4M1062.5 292.2h1.4M1066.9 278.1h1.4M1077.2 314.6h1.4M1063.5 293.6h1.4M1061.9 328.4h1.4M1064.3 309.6h1.4M1068.9 284.9h1.4M1075.4 292.8h1.4M1068.9 319.0h1.4M1059.6 290.4h1.4M1077.2 307.8h1.4M1067.5 300.7h1.4M1071.5 297.0h1.4M1063.9 325.4h1.4M1067.8 305.2h1.4M1074.1 293.7h1.4M1061.4 285.7h1.4M1063.2 293.0h1.4M1064.8 286.8h1.4M1074.1 313.9h1.4M1075.5 318.4h1.4M1072.8 310.0h1.4M1063.7 316.6h1.4M1065.0 318.7h1.4M1072.5 308.7h1.4M1067.3 286.8h1.4M1065.6 312.5h1.4M1077.2 277.4h1.4M1063.9 303.2h1.4M1073.3 285.2h1.4M1062.5 315.7h1.4M1075.7 314.1h1.4M1064.4 294.9h1.4M1075.9 309.3h1.4M1072.1 316.5h1.4M1075.0 305.1h1.4M1070.8 290.5h1.4M1061.2 282.4h1.4M1066.5 325.7h1.4M1076.9 281.0h1.4M1061.5 287.3h1.4M1068.9 320.5h1.4M1067.3 285.2h1.4M1045.1 289.5h1.4M1048.2 285.6h1.4M1031.4 279.7h1.4M1078.9 279.6h1.4M1043.1 278.9h1.4M1028.2 282.6h1.4M1049.9 277.3h1.4M1031.2 272.9h1.4M1058.7 281.3h1.4M1015.3 281.1h1.4M1013.4 287.6h1.4M1040.7 287.8h1.4M1029.7 282.2h1.4M1045.6 280.7h1.4M1035.5 289.6h1.4M1015.9 277.1h1.4M1003.9 285.2h1.4M1056.5 282.9h1.4M1012.8 285.7h1.4M1018.5 281.3h1.4M1022.6 285.5h1.4M1033.4 279.5h1.4M1052.9 286.5h1.4M1029.7 283.5h1.4M1027.3 280.2h1.4M1021.6 281.6h1.4M1033.5 290.8h1.4M1050.5 285.6h1.4M1079.8 276.6h1.4M1039.4 285.3h1.4M1039.4 286.5h1.4M1041.6 281.3h1.4M1028.0 279.2h1.4M1028.0 288.7h1.4M1054.2 279.2h1.4M1034.7 281.4h1.4M1028.8 283.0h1.4M1070.7 285.0h1.4M1030.2 289.0h1.4M1042.4 276.4h1.4M1044.3 284.5h1.4M1013.2 276.9h1.4M1023.8 279.9h1.4M1029.2 278.6h1.4M1035.8 271.4h1.4M1036.3 274.7h1.4M996.2 284.8h1.4M1030.1 281.0h1.4M1055.5 276.1h1.4M1034.5 276.6h1.4M1035.8 284.1h1.4M1013.7 283.0h1.4M1048.2 286.5h1.4M1067.2 284.5h1.4M1044.6 277.7h1.4M1043.9 278.2h1.4M1034.6 280.4h1.4M1038.3 276.2h1.4M1042.7 271.5h1.4M1028.5 279.1h1.4M1027.3 277.6h1.4M1035.2 278.8h1.4M1068.6 268.6h1.4M1050.4 278.0h1.4M1052.6 281.9h1.4M989.5 278.4h1.4M1026.0 291.1h1.4M1038.3 280.9h1.4M1012.4 278.9h1.4M1034.9 281.0h1.4M1023.5 285.9h1.4M1017.2 279.9h1.4M1046.9 287.8h1.4M1012.3 279.8h1.4M1012.7 289.2h1.4M1017.3 282.1h1.4M1048.5 286.0h1.4M1054.2 281.1h1.4M1046.2 289.2h1.4M1019.5 288.6h1.4M1053.8 280.2h1.4M1038.6 284.1h1.4M1050.9 272.9h1.4M995.7 296.5h1.4M1047.5 286.1h1.4M1066.3 290.6h1.4M1036.1 276.0h1.4M1048.0 275.8h1.4M1032.1 283.2h1.4M1030.4 279.1h1.4M1027.0 282.5h1.4M1040.7 283.7h1.4M1022.3 281.0h1.4M1038.9 291.2h1.4M1035.4 285.4h1.4M1030.0 277.2h1.4M1029.9 278.0h1.4M1033.7 284.4h1.4M1038.0 275.5h1.4M1038.0 282.0h1.4M1026.4 277.4h1.4M1027.2 271.2h1.4M1028.9 282.5h1.4M1053.5 279.5h1.4M1061.6 279.6h1.4M1051.1 287.5h1.4M1042.9 277.2h1.4M1070.8 281.0h1.4M1059.1 291.0h1.4M1058.2 286.6h1.4M1044.7 278.9h1.4M1073.4 276.4h1.4M1057.2 279.5h1.4M1069.3 278.9h1.4M1052.8 276.7h1.4M1027.0 290.1h1.4M1018.7 278.6h1.4M1021.9 289.6h1.4M1013.9 286.4h1.4M1028.4 288.0h1.4M1042.3 282.4h1.4M1015.0 282.2h1.4M994.2 282.7h1.4M1055.9 286.2h1.4M1033.6 281.4h1.4M983.1 286.3h1.4M1020.3 285.2h1.4M1042.4 271.2h1.4M1007.8 282.2h1.4M1005.7 275.3h1.4M1019.9 275.3h1.4M1055.2 287.2h1.4M1065.9 287.4h1.4M1034.5 290.5h1.4M1045.9 290.9h1.4M1032.1 271.8h1.4M1017.1 282.8h1.4M1035.9 282.4h1.4M1083.8 324.0h1.4M1077.1 243.3h1.4M1083.7 284.8h1.4M1073.9 228.8h1.4M1079.0 330.0h1.4M1086.2 324.7h1.4M1074.1 290.5h1.4M1075.4 245.8h1.4M1077.4 256.7h1.4M1074.9 281.9h1.4M1080.4 247.1h1.4M1078.5 282.6h1.4M1081.4 319.3h1.4M1071.7 231.9h1.4M1085.2 246.4h1.4M1078.1 325.7h1.4M1072.5 314.0h1.4M1081.9 218.9h1.4M1074.3 226.5h1.4M1075.0 289.3h1.4M1084.2 311.1h1.4M1072.5 327.6h1.4M1158.9 249.9h1.4M1181.6 226.7h1.4M1139.6 261.7h1.4M1149.8 248.4h1.4M1170.7 220.2h1.4M1132.0 255.0h1.4M1148.8 258.6h1.4M1126.6 268.8h1.4M1159.9 237.9h1.4M1119.8 248.0h1.4M1130.3 261.5h1.4M1129.1 277.7h1.4M1161.4 256.4h1.4M1128.8 259.0h1.4M1123.5 244.6h1.4M1130.6 224.0h1.4M1120.0 232.8h1.4M1173.6 226.8h1.4M1145.2 263.4h1.4M1133.4 212.0h1.4M1104.6 252.8h1.4M1143.6 250.2h1.4M1138.5 258.6h1.4M1154.1 264.0h1.4M1131.5 260.8h1.4M1128.8 209.8h1.4M1128.8 244.2h1.4M1155.7 272.2h1.4M1173.1 237.6h1.4M1163.7 231.3h1.4M1159.6 261.4h1.4M1124.1 276.2h1.4M1173.5 262.2h1.4M1149.1 244.3h1.4M1151.3 251.8h1.4M1133.9 249.9h1.4M1167.1 262.3h1.4M1132.1 270.7h1.4M1142.7 247.6h1.4M1130.5 254.5h1.4M1142.8 241.0h1.4M1149.7 246.2h1.4M1148.1 234.3h1.4M1156.5 251.1h1.4M1136.0 262.1h1.4M1132.6 279.0h1.4M1169.8 225.3h1.4M1138.3 274.8h1.4M1149.6 225.8h1.4M1142.3 217.4h1.4M1158.1 231.5h1.4M1168.5 240.2h1.4M1132.7 275.1h1.4M1164.5 264.5h1.4M1125.1 256.5h1.4M1140.1 246.4h1.4M1184.1 245.9h1.4M1117.4 253.6h1.4M1126.7 237.4h1.4M1163.6 254.4h1.4M1128.8 247.1h1.4M1122.8 268.9h1.4M1149.3 240.5h1.4M1129.5 257.2h1.4M1128.3 237.1h1.4M1132.1 227.5h1.4M1132.8 243.8h1.4M1121.7 269.4h1.4M1125.6 281.5h1.4M1154.0 249.2h1.4M1182.5 230.9h1.4M1160.8 229.0h1.4M1187.5 215.7h1.4M1177.5 263.0h1.4M1169.9 257.0h1.4M1115.3 241.0h1.4M1133.6 238.4h1.4M1159.3 230.8h1.4M1161.0 264.0h1.4M1153.6 261.0h1.4M1152.8 220.0h1.4M1171.1 256.7h1.4M1150.5 214.2h1.4M1166.9 223.0h1.4M1179.5 242.6h1.4M1149.1 224.4h1.4M1117.0 237.7h1.4M1146.0 258.7h1.4M1130.1 259.6h1.4M1158.9 218.1h1.4M1162.7 220.5h1.4M1149.0 273.0h1.4M1129.0 262.1h1.4M1162.3 229.8h1.4M1154.1 270.0h1.4M1159.7 245.1h1.4M1163.4 252.8h1.4M1147.4 252.1h1.4M1118.3 207.8h1.4M1150.2 248.8h1.4M1166.4 230.5h1.4M1166.2 225.6h1.4M1168.2 232.9h1.4M1139.5 271.5h1.4M1147.5 236.7h1.4M1172.6 205.7h1.4M1153.3 230.9h1.4M1119.7 249.0h1.4M1171.2 234.7h1.4M1159.4 231.9h1.4M1146.2 248.6h1.4M1119.4 256.0h1.4M1160.7 251.5h1.4M1161.7 248.5h1.4M1163.6 235.7h1.4M1147.3 259.8h1.4M1144.2 267.9h1.4M1176.0 235.4h1.4M1150.0 262.9h1.4M1132.5 240.0h1.4M1165.2 236.8h1.4M1159.5 241.8h1.4M1145.1 265.4h1.4M1167.2 243.5h1.4M1124.6 242.1h1.4M1167.9 257.5h1.4M1144.9 250.0h1.4M1139.0 267.6h1.4M1162.2 204.6h1.4M1131.8 256.6h1.4M1141.9 286.8h1.4M1167.3 233.1h1.4M1103.6 276.1h1.4M1141.0 249.3h1.4M1148.7 240.6h1.4M1163.4 240.8h1.4M1162.3 242.2h1.4M1136.8 243.1h1.4M1170.2 246.5h1.4M1142.8 269.0h1.4M1169.9 234.7h1.4M1135.2 245.4h1.4M1147.9 260.9h1.4M1138.7 218.2h1.4M1136.0 244.6h1.4M1166.8 220.6h1.4M1175.8 212.4h1.4M1101.9 238.8h1.4M1144.9 232.4h1.4M1145.9 223.9h1.4M1164.7 251.8h1.4M1167.9 234.7h1.4M1124.9 231.8h1.4M1133.6 260.3h1.4M1135.9 291.8h1.4M1150.0 241.7h1.4M1148.2 220.3h1.4M1151.8 239.6h1.4M1148.4 264.2h1.4M1146.4 244.6h1.4M1166.6 267.5h1.4M1164.2 208.4h1.4M1144.8 274.9h1.4M1114.9 264.5h1.4M1137.4 260.9h1.4M1129.6 250.9h1.4M1141.2 243.7h1.4M1172.3 243.8h1.4M1154.8 260.8h1.4M1142.5 214.9h1.4M1155.2 236.7h1.4M1148.0 266.9h1.4M1164.7 243.2h1.4M1147.1 232.3h1.4M1130.2 250.9h1.4M1136.4 265.3h1.4M1143.2 237.1h1.4M1149.2 219.5h1.4M1116.3 251.3h1.4M1158.1 254.0h1.4M1149.0 211.6h1.4M1114.2 261.3h1.4M1179.5 236.9h1.4M1174.9 234.1h1.4M1138.4 261.1h1.4M1122.3 245.8h1.4M1162.3 228.7h1.4M1179.9 222.6h1.4M1159.0 251.4h1.4M1121.8 274.5h1.4M1139.6 261.6h1.4M1153.7 258.5h1.4M1157.5 267.7h1.4M1171.0 222.1h1.4M1115.7 271.2h1.4M1171.0 257.9h1.4M1116.6 280.3h1.4M1160.5 237.6h1.4M1136.3 235.2h1.4M1140.9 258.5h1.4M1137.9 235.6h1.4M1138.5 259.3h1.4M1135.0 238.8h1.4M1163.2 237.8h1.4M1129.6 268.5h1.4M1134.8 223.7h1.4M1127.0 228.2h1.4M1160.3 235.9h1.4M1127.3 235.6h1.4M1178.2 265.5h1.4M1175.3 201.7h1.4M1143.7 255.4h1.4M1151.5 261.4h1.4M1155.1 255.8h1.4M1195.5 246.9h1.4M1134.5 271.7h1.4M1129.7 253.1h1.4M1151.4 256.8h1.4M1161.0 229.4h1.4M1145.3 225.1h1.4M1143.1 223.7h1.4M1143.9 294.4h1.4M1119.1 258.2h1.4M1164.2 225.8h1.4M1173.5 248.2h1.4M1160.4 258.0h1.4M1165.2 238.6h1.4M1163.5 227.0h1.4M1133.6 249.4h1.4M1157.7 221.2h1.4M1151.6 238.4h1.4M1168.5 246.6h1.4M1152.5 237.5h1.4M1173.0 222.1h1.4M1129.3 244.8h1.4M1140.3 242.4h1.4M1176.1 255.8h1.4M1141.3 262.4h1.4M1157.9 244.4h1.4M1159.3 233.7h1.4M1139.9 227.5h1.4M1134.1 275.9h1.4M1144.5 221.8h1.4M1149.7 228.6h1.4M1141.8 223.7h1.4M1159.7 235.9h1.4M1124.0 232.5h1.4M1158.8 229.4h1.4M1173.8 254.8h1.4M1127.6 274.2h1.4M1160.0 253.7h1.4M1123.2 268.1h1.4M1129.1 255.4h1.4M1143.0 242.6h1.4M1157.7 256.2h1.4M1107.6 258.7h1.4M1108.7 273.0h1.4M1151.1 274.4h1.4M1127.7 239.5h1.4M1153.3 242.3h1.4M1150.3 263.0h1.4M1147.7 275.0h1.4M1170.4 243.1h1.4M1172.6 224.6h1.4M1145.2 214.8h1.4M1120.0 243.8h1.4M1163.4 229.0h1.4M1153.2 234.5h1.4M1175.8 243.4h1.4M1141.1 230.4h1.4M1152.2 239.6h1.4M1162.4 201.8h1.4M1162.7 253.4h1.4M1159.4 247.6h1.4M1129.7 238.9h1.4M1153.4 220.8h1.4M1178.4 242.5h1.4M1127.2 280.8h1.4M1114.5 253.7h1.4M1117.8 258.3h1.4M1132.8 259.3h1.4M1127.8 254.0h1.4M1142.6 240.7h1.4M1141.0 251.4h1.4M1141.6 268.8h1.4M1142.4 251.2h1.4M1139.6 257.3h1.4M1142.8 238.6h1.4M1178.7 226.8h1.4M1131.4 244.1h1.4M1111.6 260.1h1.4M1155.2 261.3h1.4M1150.5 220.2h1.4M1161.1 264.0h1.4M1118.1 261.5h1.4M1141.4 258.4h1.4M1148.5 226.1h1.4M1134.7 266.1h1.4M1136.2 260.1h1.4M1124.5 264.9h1.4M1157.6 234.6h1.4M1157.3 230.3h1.4M1148.6 279.0h1.4M1141.8 256.4h1.4M1150.6 224.3h1.4M1151.6 234.1h1.4M1137.2 276.5h1.4M1134.8 266.6h1.4M1129.8 234.0h1.4M1152.1 205.1h1.4M1178.1 216.1h1.4M1135.4 242.0h1.4M1135.0 230.7h1.4M1142.5 278.7h1.4M1174.9 257.4h1.4M1140.0 239.1h1.4M1135.6 222.6h1.4M1137.3 225.9h1.4M1136.4 264.3h1.4M1172.3 233.3h1.4M1172.6 224.8h1.4M1145.0 282.4h1.4M1121.1 260.9h1.4M1158.4 236.4h1.4M1122.4 231.8h1.4M1173.9 255.4h1.4M1157.6 222.4h1.4M1162.4 241.4h1.4M1146.0 242.0h1.4M1174.4 231.8h1.4M1152.8 211.3h1.4M1153.4 223.9h1.4M1183.0 199.6h1.4M1130.3 257.6h1.4M1106.7 231.5h1.4M1163.4 258.1h1.4M1122.5 262.1h1.4M1160.9 226.2h1.4M1164.1 262.0h1.4M1137.1 244.3h1.4M1136.9 232.2h1.4M1145.7 244.4h1.4M1151.8 260.7h1.4M1178.2 222.6h1.4M1126.8 244.1h1.4M1115.9 264.3h1.4M1123.1 286.5h1.4M1138.0 261.5h1.4M1124.7 249.3h1.4M1139.9 216.1h1.4M1134.1 246.3h1.4M1173.0 235.0h1.4M1146.8 251.4h1.4M1141.9 251.9h1.4M1158.5 256.5h1.4M1149.8 221.0h1.4M1171.3 260.4h1.4M1182.4 197.9h1.4M1128.6 262.0h1.4M1102.6 241.6h1.4M1143.5 256.6h1.4M1154.8 230.2h1.4M1140.2 231.3h1.4M1141.4 241.4h1.4M1171.3 232.0h1.4M1123.1 216.4h1.4M1183.5 220.7h1.4M1149.9 260.6h1.4M1178.8 216.0h1.4M1151.2 221.2h1.4M1131.3 250.6h1.4M1133.4 222.3h1.4M1153.3 238.6h1.4M1133.7 277.7h1.4M1135.5 271.0h1.4M1116.1 245.6h1.4M1143.1 218.8h1.4M1120.5 277.2h1.4M1134.4 204.9h1.4M1117.7 274.9h1.4M1133.8 232.9h1.4M1152.8 248.7h1.4M1155.4 250.8h1.4M1162.7 237.8h1.4M1141.9 263.2h1.4M1166.9 238.1h1.4M1122.4 240.3h1.4M1163.3 246.0h1.4M1157.8 258.1h1.4M1165.1 266.9h1.4M1169.5 233.4h1.4M1145.1 220.0h1.4M1136.8 235.5h1.4M1152.5 233.4h1.4M1165.6 244.8h1.4M1106.3 246.3h1.4M1157.1 226.6h1.4M1159.1 262.2h1.4M1129.8 258.6h1.4M1168.3 218.7h1.4M1142.8 266.3h1.4M1171.3 219.2h1.4M1117.7 238.6h1.4M1166.0 257.7h1.4M1154.8 259.9h1.4M1145.3 277.2h1.4M1171.1 239.3h1.4M1157.2 249.2h1.4M1156.3 262.3h1.4M1164.7 246.0h1.4M1147.6 255.6h1.4M1157.6 273.5h1.4M1176.1 257.3h1.4M1197.0 215.9h1.4M1178.7 254.6h1.4M1170.4 244.5h1.4M1150.4 221.8h1.4M1146.1 265.1h1.4M1181.0 260.1h1.4M1167.8 256.9h1.4M1152.4 223.1h1.4M1121.3 231.1h1.4M1140.5 242.8h1.4M1156.2 263.9h1.4M1157.4 253.1h1.4M1136.0 247.6h1.4M1155.9 213.4h1.4M1166.2 238.9h1.4M1147.2 241.3h1.4M1149.1 259.4h1.4M1124.0 258.6h1.4M1147.9 260.1h1.4M1162.1 234.5h1.4M1126.2 235.0h1.4M1152.0 226.6h1.4M1135.0 242.6h1.4M1158.5 255.2h1.4M1126.5 260.5h1.4M1116.7 260.2h1.4M1168.4 231.0h1.4M1122.4 247.9h1.4M1136.0 230.4h1.4M1173.3 252.5h1.4M1138.1 233.1h1.4M1183.4 249.8h1.4M1170.4 249.1h1.4M1112.7 263.5h1.4M1143.1 234.5h1.4M1157.8 230.2h1.4M1110.6 250.0h1.4M1155.7 220.1h1.4M1164.3 249.6h1.4M1168.8 271.9h1.4M1152.0 219.9h1.4M1143.3 234.7h1.4M1162.9 226.0h1.4M1175.6 244.7h1.4M1160.3 269.9h1.4M1150.1 241.0h1.4M1171.7 217.3h1.4M1120.3 236.2h1.4M1158.5 246.9h1.4M1159.3 269.0h1.4M1166.2 247.9h1.4M1148.5 240.9h1.4M1137.0 228.4h1.4M1137.2 280.7h1.4M1119.7 239.1h1.4M1142.8 238.6h1.4M1131.0 273.7h1.4M1162.2 259.1h1.4M1154.6 217.9h1.4M1181.2 235.1h1.4M1164.9 236.4h1.4M1148.7 224.1h1.4M1118.4 257.5h1.4M1161.5 258.6h1.4M1179.3 228.6h1.4M1133.3 238.1h1.4M1195.9 235.0h1.4M1132.3 271.5h1.4M1128.9 259.8h1.4M1130.8 279.8h1.4M1166.7 266.1h1.4M1163.9 233.0h1.4M1144.0 233.6h1.4M1138.9 221.1h1.4M1167.5 260.8h1.4M1147.0 268.2h1.4M1158.8 256.0h1.4M1152.7 232.8h1.4M1127.7 239.1h1.4M1119.3 261.5h1.4M1136.5 245.3h1.4M1129.4 212.8h1.4M1171.8 244.8h1.4M1121.1 283.7h1.4M1164.2 238.3h1.4M1127.6 251.1h1.4M1127.7 227.9h1.4M1125.7 226.1h1.4M1170.0 257.6h1.4M1167.1 268.9h1.4M1151.0 263.4h1.4M1167.0 246.5h1.4M1138.7 253.4h1.4M1127.5 211.1h1.4M1109.8 225.0h1.4M1181.4 216.1h1.4M1167.2 216.2h1.4M1145.7 261.7h1.4M1159.1 253.5h1.4M1171.1 238.1h1.4M1141.8 234.5h1.4M1167.4 249.6h1.4M1152.2 235.5h1.4M1157.0 280.1h1.4M1135.6 268.6h1.4M1143.5 228.3h1.4M1151.5 230.6h1.4M1140.5 243.4h1.4M1149.6 248.0h1.4M1118.7 251.8h1.4M1169.5 256.1h1.4M1146.7 244.9h1.4M1157.5 239.1h1.4M1129.5 253.2h1.4M1166.6 244.7h1.4M1116.9 233.4h1.4M1146.5 227.2h1.4M1146.4 266.1h1.4M1157.4 223.9h1.4M1148.3 265.1h1.4M1151.0 264.5h1.4M1135.3 257.8h1.4M1131.8 256.4h1.4M1135.3 266.1h1.4M1177.6 250.7h1.4M1169.2 243.2h1.4M1152.5 245.2h1.4M1153.1 230.6h1.4M1137.2 253.6h1.4M1161.3 250.4h1.4M1161.8 265.9h1.4M1174.8 222.2h1.4M1138.8 259.6h1.4M1148.9 233.0h1.4M1175.9 231.8h1.4M1148.8 253.1h1.4M1147.3 272.7h1.4M1178.8 221.5h1.4M1162.9 257.0h1.4M1136.1 267.6h1.4M1129.6 263.5h1.4M1154.4 244.3h1.4M1127.3 253.1h1.4M1160.2 279.3h1.4M1163.4 226.2h1.4M1157.6 256.2h1.4M1134.1 284.2h1.4M1136.5 240.9h1.4M1121.3 259.3h1.4M1163.2 232.6h1.4M1133.1 252.3h1.4M1125.7 290.5h1.4M1136.3 210.3h1.4M1134.2 265.1h1.4M1137.8 237.9h1.4M1149.2 209.4h1.4M1130.0 295.4h1.4M1173.6 257.1h1.4M1179.3 228.6h1.4M1130.7 247.2h1.4M1144.2 230.2h1.4M1160.4 259.4h1.4M1139.2 263.3h1.4M1116.3 243.6h1.4M1121.2 272.3h1.4M1161.9 225.1h1.4M1157.7 238.5h1.4M1121.6 227.7h1.4M1148.4 279.5h1.4M1176.2 246.7h1.4M1141.5 272.5h1.4M1113.3 254.2h1.4M1128.9 245.9h1.4M1107.6 268.0h1.4M1175.4 240.8h1.4M1118.5 262.0h1.4M1150.1 233.0h1.4M1149.4 245.2h1.4M1168.3 232.0h1.4M1162.0 226.3h1.4M1149.2 240.4h1.4M1149.4 275.8h1.4M1131.7 236.6h1.4M1154.8 236.4h1.4M1148.3 223.4h1.4M1136.6 234.6h1.4M1162.9 229.4h1.4M1174.8 225.1h1.4M1133.4 252.9h1.4M1130.6 218.4h1.4M1125.6 247.3h1.4M1133.0 249.8h1.4M1148.4 242.3h1.4M1199.0 248.9h1.4M1170.2 226.3h1.4M1156.8 232.9h1.4M1111.8 246.1h1.4M1155.0 248.9h1.4M1142.3 220.0h1.4M1161.7 224.6h1.4M1139.2 256.7h1.4M1127.9 268.3h1.4M1147.7 250.5h1.4M1177.0 228.6h1.4M1105.1 265.1h1.4M1175.2 258.0h1.4M1165.0 209.3h1.4M1149.7 227.1h1.4M1177.4 268.5h1.4M1139.0 243.1h1.4M1131.2 268.8h1.4M1133.1 264.3h1.4M1125.2 277.1h1.4M1157.7 244.2h1.4M1179.2 263.7h1.4M1141.0 238.4h1.4M1130.0 254.0h1.4M1171.4 250.0h1.4M1157.7 257.8h1.4M1138.9 227.6h1.4M1159.8 224.4h1.4M1151.3 244.1h1.4M1129.3 240.7h1.4M1133.4 237.2h1.4M1182.4 261.9h1.4M1138.3 283.7h1.4M1150.8 272.2h1.4M1165.4 240.3h1.4M1160.1 224.4h1.4M1161.5 268.4h1.4M1175.1 246.6h1.4M1148.3 227.8h1.4M1150.7 229.4h1.4M1147.1 233.1h1.4M1149.8 229.5h1.4M1135.9 287.8h1.4M1155.5 255.1h1.4M1142.3 258.0h1.4M1113.3 245.1h1.4M1139.2 258.4h1.4M1140.8 227.7h1.4M1163.6 246.0h1.4M1164.8 222.1h1.4M1174.1 208.9h1.4M1136.8 235.7h1.4M1131.9 244.8h1.4M1138.3 260.2h1.4M1167.9 255.4h1.4M1163.6 250.7h1.4M1139.3 263.6h1.4M1147.2 244.8h1.4M1146.3 249.7h1.4M1142.5 231.6h1.4M1181.7 210.5h1.4M1163.4 254.6h1.4M1124.2 268.1h1.4M1167.5 242.8h1.4M1134.5 270.6h1.4M1120.5 247.5h1.4M1167.3 230.9h1.4M1120.4 228.9h1.4M1120.1 260.3h1.4M1166.5 260.6h1.4M1176.6 226.8h1.4M1154.7 240.5h1.4M1172.5 248.5h1.4M1166.7 234.7h1.4M1139.1 264.1h1.4M1138.7 234.3h1.4M1198.0 245.0h1.4M1180.0 231.3h1.4M1165.2 251.7h1.4M1183.5 237.7h1.4M1144.5 229.6h1.4M1136.0 268.1h1.4M1158.9 203.1h1.4M1141.3 228.6h1.4M1175.9 269.6h1.4M1108.2 285.4h1.4M1146.3 265.5h1.4M1135.4 230.2h1.4M1175.5 251.9h1.4M1129.3 254.2h1.4M1127.3 254.0h1.4M1153.0 242.9h1.4M1145.8 218.4h1.4M1143.0 272.4h1.4M1171.6 251.9h1.4M1141.6 219.0h1.4M1158.1 259.0h1.4M1165.8 236.5h1.4M1129.5 273.7h1.4M1139.0 273.1h1.4M1169.6 262.9h1.4M1133.6 261.4h1.4M1139.7 234.6h1.4M1164.4 220.3h1.4M1147.8 221.9h1.4M1143.5 211.8h1.4M1179.7 273.5h1.4M1158.8 241.2h1.4M1162.2 249.3h1.4M1127.4 264.1h1.4M1121.8 251.6h1.4M1133.0 236.8h1.4M1139.7 242.9h1.4M1148.0 231.0h1.4M1160.2 226.8h1.4M1158.6 261.0h1.4M1121.7 271.6h1.4M1140.2 282.3h1.4M1155.9 255.2h1.4M1145.6 261.4h1.4M1163.2 265.4h1.4M1166.9 255.2h1.4M1140.9 295.3h1.4M1169.0 224.7h1.4M1100.3 263.8h1.4M1177.0 234.2h1.4M1122.1 237.0h1.4M1152.3 249.2h1.4M1177.8 235.8h1.4M1177.0 240.0h1.4M1166.3 221.8h1.4M1148.2 244.0h1.4M1127.7 249.3h1.4M1157.0 254.7h1.4M1124.0 263.8h1.4M1116.6 220.7h1.4M1159.4 248.5h1.4M1176.2 244.6h1.4M1186.6 234.6h1.4M1145.1 229.6h1.4M1152.1 237.4h1.4M1148.2 219.4h1.4M1164.5 248.8h1.4M1156.0 265.0h1.4M1152.9 234.8h1.4M1159.3 269.8h1.4M1122.5 256.8h1.4M1172.3 235.4h1.4M1147.2 249.8h1.4M1132.5 255.5h1.4M1153.5 248.6h1.4M1149.2 264.7h1.4M1192.5 226.0h1.4M1168.8 224.9h1.4M1111.2 276.9h1.4M1185.2 241.0h1.4M1157.7 251.3h1.4M1136.7 255.4h1.4M1124.6 252.2h1.4M1133.2 249.2h1.4M1132.4 249.0h1.4M1168.6 254.8h1.4M1151.8 219.8h1.4M1152.6 239.1h1.4M1109.9 264.3h1.4M1160.5 233.3h1.4M1132.9 243.7h1.4M1122.2 249.9h1.4M1088.8 271.4h1.4M1169.2 274.5h1.4M1166.9 248.8h1.4M1131.5 235.0h1.4M1132.5 232.6h1.4M1115.0 232.2h1.4M1147.2 238.8h1.4M1111.6 281.7h1.4M1148.5 230.1h1.4M1143.5 236.1h1.4M1133.6 230.1h1.4M1166.8 259.7h1.4M1153.1 264.2h1.4M1142.7 222.6h1.4M1170.8 249.9h1.4M1153.8 225.0h1.4M1154.7 247.1h1.4M1155.3 251.8h1.4M1160.3 229.8h1.4M1170.8 238.1h1.4M1144.6 269.7h1.4M1131.2 247.9h1.4M1126.9 249.5h1.4M1120.1 279.8h1.4M1128.4 241.9h1.4M1145.5 271.7h1.4M1163.7 219.7h1.4M1148.2 233.4h1.4M1172.7 242.1h1.4M1176.6 209.2h1.4M1127.5 256.8h1.4M1138.9 266.8h1.4M1146.4 232.9h1.4M1161.9 255.0h1.4M1088.7 274.7h1.4M1156.6 248.2h1.4M1162.1 231.9h1.4M1139.4 225.9h1.4M1131.1 240.9h1.4M1170.4 247.9h1.4M1169.1 236.9h1.4M1142.3 271.4h1.4M1139.8 249.8h1.4M1168.4 228.6h1.4M1169.9 241.2h1.4M1166.7 236.1h1.4M1138.3 222.9h1.4M1132.8 273.3h1.4M1127.3 239.2h1.4M1174.4 251.9h1.4M1182.1 225.6h1.4M1158.2 205.1h1.4M1171.0 234.0h1.4M1146.0 218.8h1.4M1174.1 206.8h1.4M1127.6 256.5h1.4M1142.4 236.8h1.4M1156.9 234.8h1.4M1164.8 224.9h1.4M1174.0 225.5h1.4M1175.9 229.7h1.4M1119.2 241.8h1.4M1149.5 237.3h1.4M1113.0 241.7h1.4M1119.8 260.0h1.4M1168.4 213.1h1.4M1154.7 282.2h1.4M1126.2 231.3h1.4M1152.3 254.8h1.4M1160.5 272.2h1.4M1164.5 243.8h1.4M1165.5 222.4h1.4M1156.7 240.9h1.4M1106.2 244.9h1.4M1130.3 267.4h1.4M1166.5 238.6h1.4M1159.9 255.9h1.4M1168.8 242.2h1.4M1134.3 246.2h1.4M1129.6 252.7h1.4M1156.9 233.0h1.4M1141.2 234.7h1.4M1126.1 237.0h1.4M1163.6 223.4h1.4M1160.6 229.0h1.4M1152.1 261.9h1.4M1136.8 270.8h1.4M1175.8 242.7h1.4M1169.5 228.2h1.4M1158.1 239.0h1.4M1152.8 228.8h1.4M1154.8 266.3h1.4M1163.6 224.9h1.4M1175.6 258.9h1.4M1163.4 236.0h1.4M1154.2 236.2h1.4M1187.7 221.9h1.4M1142.0 231.4h1.4M1123.8 263.1h1.4M1148.6 227.2h1.4M1134.8 258.1h1.4M1139.9 226.6h1.4M1129.3 223.7h1.4M1162.5 234.3h1.4M1105.6 272.0h1.4M1185.7 221.6h1.4M1142.1 224.4h1.4M1148.7 218.0h1.4M1181.9 229.6h1.4M1179.2 240.5h1.4M1165.6 258.9h1.4M1164.2 244.0h1.4M1123.2 227.2h1.4M1159.8 224.3h1.4M1130.9 230.9h1.4M1156.2 262.5h1.4M1126.3 254.5h1.4M1152.8 234.6h1.4M1140.4 253.6h1.4M1158.7 271.6h1.4M1143.3 243.5h1.4M1129.7 245.9h1.4M1188.8 230.4h1.4M1160.0 249.4h1.4M1152.5 245.6h1.4M1156.7 222.1h1.4M1169.0 238.2h1.4M1176.2 245.9h1.4M1127.7 257.7h1.4M1160.2 247.6h1.4M1129.1 244.0h1.4M1121.5 282.2h1.4M1163.6 225.6h1.4M1138.4 258.4h1.4M1160.3 278.5h1.4M1155.8 276.0h1.4M1133.1 246.6h1.4M1121.7 257.4h1.4M1142.2 263.3h1.4M1153.0 226.1h1.4M1154.8 245.9h1.4M1131.6 262.9h1.4M1131.8 278.3h1.4M1151.0 230.0h1.4M1142.3 240.7h1.4M1154.5 257.8h1.4M1149.2 227.3h1.4M1149.7 208.9h1.4M1151.2 242.5h1.4M1110.6 261.7h1.4M1173.7 246.3h1.4M1181.7 248.6h1.4M1109.8 266.9h1.4M1147.3 243.9h1.4M1128.3 240.1h1.4M1134.3 215.3h1.4M1153.6 232.5h1.4M1169.7 236.2h1.4M1150.6 257.6h1.4M1158.1 256.4h1.4M1124.1 234.9h1.4M1153.3 255.7h1.4M1162.1 260.3h1.4M1161.2 246.3h1.4M1164.7 229.2h1.4M1167.9 230.4h1.4M1126.5 244.0h1.4M1116.9 244.4h1.4M1151.2 255.8h1.4M1127.9 257.7h1.4M1144.6 221.6h1.4M1150.4 235.4h1.4M1111.7 240.4h1.4M1131.9 251.7h1.4M1146.3 241.6h1.4M1156.9 252.0h1.4M1131.3 234.6h1.4M1148.3 243.9h1.4M1184.1 252.6h1.4M1145.7 228.2h1.4M1148.4 266.7h1.4M1143.3 250.9h1.4M1171.2 254.3h1.4M1124.2 270.2h1.4M1164.1 216.9h1.4M1155.0 238.9h1.4M1143.1 214.1h1.4M1175.3 216.3h1.4M1125.5 246.0h1.4M1167.7 227.2h1.4M1145.2 236.7h1.4M1141.1 282.6h1.4M1161.3 250.5h1.4M1165.9 257.6h1.4M1125.8 257.0h1.4M1153.4 271.8h1.4M1161.3 250.3h1.4M1124.7 259.2h1.4M1171.4 230.8h1.4M1170.9 245.6h1.4M1116.7 260.4h1.4M1177.9 207.9h1.4M1157.0 242.2h1.4M1152.7 252.5h1.4M1106.5 278.1h1.4M1180.4 230.6h1.4M1142.3 225.3h1.4M1164.2 241.3h1.4M1149.0 271.0h1.4M1135.2 246.5h1.4M1096.8 258.8h1.4M1134.1 276.8h1.4M1146.1 231.1h1.4M1188.6 247.2h1.4M1142.1 267.1h1.4M1124.4 234.2h1.4M1122.8 253.8h1.4M1184.7 235.3h1.4M1110.1 269.1h1.4M1123.1 254.2h1.4M1172.2 258.6h1.4M1160.1 266.0h1.4M1153.9 262.3h1.4M1164.1 260.4h1.4M1130.7 279.1h1.4M1151.8 237.6h1.4M1134.1 248.9h1.4M1131.7 281.2h1.4M1119.7 263.1h1.4M1143.3 217.9h1.4M1131.4 268.3h1.4M1125.2 246.7h1.4M1125.5 246.4h1.4M1130.1 262.2h1.4M1121.8 255.8h1.4M1133.1 242.1h1.4M1143.5 219.3h1.4M1135.9 243.4h1.4M1133.9 257.4h1.4M1129.1 250.7h1.4M1153.4 266.4h1.4M1153.8 237.5h1.4M1144.7 262.4h1.4M1168.5 228.3h1.4M1165.8 232.7h1.4M1192.8 231.9h1.4M1127.0 278.4h1.4M1156.1 234.8h1.4M1142.5 267.0h1.4M1168.7 251.3h1.4M1143.5 263.6h1.4M1152.5 244.2h1.4M1167.9 251.5h1.4M1179.1 242.4h1.4M1154.1 229.4h1.4M1160.3 238.4h1.4M1117.6 276.7h1.4M1156.5 253.0h1.4M1129.0 266.0h1.4M1164.5 242.5h1.4M1177.8 221.6h1.4M1163.6 224.3h1.4M1156.2 229.6h1.4M1167.3 251.7h1.4M1128.2 228.7h1.4M1165.7 238.2h1.4M1150.2 227.8h1.4M1168.3 234.8h1.4M1152.8 229.7h1.4M1125.3 242.9h1.4M1121.6 271.5h1.4M1182.4 254.4h1.4M1189.0 263.3h1.4M1140.0 228.8h1.4M1198.7 225.6h1.4M1186.7 256.9h1.4M1178.6 233.6h1.4M1141.1 247.2h1.4M1145.2 241.2h1.4M1132.0 231.4h1.4M1134.2 225.7h1.4M1143.3 224.7h1.4M1116.9 218.5h1.4M1165.1 222.3h1.4M1121.6 235.0h1.4M1184.9 238.0h1.4M1180.9 250.8h1.4M1139.8 272.2h1.4M1181.9 266.5h1.4M1123.1 216.9h1.4M1110.6 286.0h1.4M1177.0 244.0h1.4M1181.8 234.0h1.4M1170.7 238.8h1.4M1174.9 245.5h1.4M1130.2 263.5h1.4M1149.3 266.6h1.4M1180.0 236.3h1.4M1191.9 233.7h1.4M1166.6 256.0h1.4M1154.1 240.8h1.4M1137.2 230.8h1.4M1179.0 206.9h1.4M1121.3 227.3h1.4M1158.0 221.3h1.4M1122.0 237.8h1.4M1149.2 259.0h1.4M1125.7 227.6h1.4M1160.3 240.3h1.4M1196.4 246.6h1.4M1146.0 255.1h1.4M1184.4 239.5h1.4M1147.2 264.7h1.4M1167.1 253.2h1.4M1106.7 246.7h1.4M1184.1 229.2h1.4M1112.0 236.0h1.4M1162.0 264.3h1.4M1159.3 240.0h1.4M1155.1 256.3h1.4M1154.7 261.3h1.4M1197.6 248.5h1.4M1164.2 241.3h1.4M1171.1 243.0h1.4M1129.8 270.7h1.4M1160.0 239.8h1.4M1157.2 265.9h1.4M1145.7 273.4h1.4M1112.5 229.7h1.4M1143.4 237.7h1.4M1183.5 215.9h1.4M1170.8 271.3h1.4M1186.2 225.7h1.4M1080.3 273.7h1.4M1157.3 255.5h1.4M1174.2 240.5h1.4M1125.7 220.2h1.4M1150.6 263.8h1.4M1126.4 239.2h1.4M1144.5 239.0h1.4M1136.1 241.5h1.4M1163.7 273.4h1.4M1149.3 215.4h1.4M1163.6 242.7h1.4M1127.3 240.5h1.4M1171.8 236.5h1.4M1104.3 223.8h1.4M1184.1 242.8h1.4M1191.2 271.5h1.4M1179.3 213.1h1.4M1168.1 260.7h1.4M1136.9 258.7h1.4M1151.2 269.0h1.4M1193.4 239.4h1.4M1115.9 233.1h1.4M1150.3 267.8h1.4M1123.9 248.6h1.4M1113.2 263.3h1.4M1123.8 231.1h1.4M1165.4 226.8h1.4M1103.0 212.5h1.4M1195.9 248.6h1.4M1117.1 216.9h1.4M1168.3 260.4h1.4M1131.3 232.2h1.4M1151.9 216.7h1.4M1120.2 244.1h1.4M1127.5 265.4h1.4M1170.8 237.1h1.4M1123.3 272.4h1.4M1147.8 258.4h1.4M1175.8 237.2h1.4M1167.0 230.5h1.4M1119.5 234.8h1.4M1168.6 251.1h1.4M1183.3 236.4h1.4M1162.8 236.5h1.4M1141.5 282.3h1.4M1155.7 271.4h1.4M1142.9 219.2h1.4M1156.0 267.7h1.4M1117.3 236.7h1.4M1099.7 243.8h1.4M1165.4 231.7h1.4M1121.7 259.6h1.4M1122.2 210.6h1.4M1134.4 240.4h1.4M1122.6 239.2h1.4M1175.0 208.6h1.4M1127.2 265.0h1.4M1173.4 260.2h1.4M1181.1 227.5h1.4M1168.1 259.5h1.4M1116.6 238.5h1.4M1136.2 220.4h1.4M1161.2 262.2h1.4M1145.0 242.8h1.4M1171.8 252.5h1.4M1120.8 246.1h1.4M1165.6 233.3h1.4M1157.0 206.9h1.4M1117.4 261.2h1.4M1098.2 247.9h1.4M1138.2 207.0h1.4M1163.8 228.6h1.4M1117.9 264.4h1.4M1162.5 273.2h1.4M1149.7 219.5h1.4M1142.6 269.4h1.4M1150.6 252.3h1.4M1137.0 277.3h1.4M1145.8 277.9h1.4M1185.2 254.7h1.4M1183.6 257.4h1.4M1151.2 227.0h1.4M1163.9 238.0h1.4M1145.1 230.1h1.4M1173.0 247.8h1.4M1112.5 251.2h1.4M1156.9 273.8h1.4M1170.1 229.6h1.4M1189.1 234.0h1.4M1128.7 246.2h1.4M1130.1 236.6h1.4M1125.9 249.5h1.4M1168.6 271.6h1.4M1153.9 255.4h1.4M1151.6 258.4h1.4M1143.4 225.1h1.4M1147.1 255.3h1.4M1141.8 243.5h1.4M1108.8 242.3h1.4M1149.4 249.8h1.4M1169.6 218.9h1.4M1141.3 218.2h1.4M1158.5 248.1h1.4M1142.8 269.4h1.4M1145.5 264.6h1.4M1105.3 213.4h1.4M1127.9 243.0h1.4M1169.5 224.2h1.4M1141.0 244.5h1.4M1133.8 242.5h1.4M1103.7 252.3h1.4M1103.1 243.1h1.4M1144.0 267.9h1.4M1175.5 221.5h1.4M1147.4 267.5h1.4M1124.1 262.2h1.4M1123.7 230.6h1.4M1166.6 268.2h1.4M1162.3 238.2h1.4M1188.1 232.8h1.4M1187.3 243.1h1.4M1120.9 258.5h1.4M1146.0 239.2h1.4M1134.8 228.8h1.4M1170.5 280.4h1.4M1177.2 228.4h1.4M1186.8 259.2h1.4M1151.1 221.7h1.4M1183.3 257.8h1.4M1156.7 260.4h1.4M1125.9 263.6h1.4M1177.8 202.2h1.4M1184.3 241.9h1.4M1179.4 218.1h1.4M1147.2 229.7h1.4M1183.5 254.7h1.4M1138.0 274.7h1.4M1188.9 231.0h1.4M1169.4 259.5h1.4M1143.7 273.6h1.4M1133.5 270.8h1.4M1160.3 241.9h1.4M1174.4 246.0h1.4M1145.3 208.3h1.4M1207.6 217.1h1.4M1161.1 236.3h1.4M1121.5 239.9h1.4M1181.4 243.9h1.4M1137.6 278.0h1.4M1168.0 268.0h1.4M1137.3 248.0h1.4M1135.2 241.5h1.4M1156.6 242.2h1.4M1162.1 236.8h1.4M1124.0 266.7h1.4M1144.7 205.2h1.4M1182.3 227.2h1.4M1155.2 218.9h1.4M1165.6 237.8h1.4M1151.6 230.9h1.4M1170.7 236.8h1.4M1142.5 226.8h1.4M1192.6 216.1h1.4M1135.0 218.1h1.4M1130.3 238.1h1.4M1146.8 230.6h1.4M1136.6 211.5h1.4M1130.2 218.0h1.4M1162.2 250.5h1.4M1159.1 250.9h1.4M1174.5 256.4h1.4M1126.5 239.9h1.4M1173.0 242.1h1.4M1123.2 258.9h1.4M1171.6 223.0h1.4M1149.5 278.9h1.4M1156.7 225.5h1.4M1136.9 262.2h1.4M1143.4 239.8h1.4M1137.2 254.6h1.4M1130.1 251.0h1.4M1133.9 246.6h1.4M1142.8 252.9h1.4M1145.5 244.5h1.4M1144.7 261.3h1.4M1123.1 251.2h1.4M1140.9 235.5h1.4M1133.6 252.3h1.4M1143.0 240.6h1.4M1147.2 243.1h1.4M1147.1 258.8h1.4M1141.6 255.8h1.4M1131.0 247.7h1.4M1154.1 230.5h1.4M1148.6 267.3h1.4M1141.2 249.2h1.4M1158.3 243.7h1.4M1149.1 260.0h1.4M1127.2 233.2h1.4M1138.7 262.6h1.4M1139.9 238.7h1.4M1128.9 254.6h1.4M1136.8 264.9h1.4M1138.5 267.8h1.4M1132.1 259.7h1.4M1138.3 245.8h1.4M1144.3 243.4h1.4M1131.3 251.7h1.4M1142.1 238.7h1.4M1146.0 233.8h1.4M1142.0 246.7h1.4M1146.3 255.3h1.4M1141.1 257.6h1.4M1153.0 259.3h1.4M1137.9 268.2h1.4M1134.4 246.2h1.4M1134.8 260.1h1.4M1141.6 249.2h1.4M1162.4 238.8h1.4M1142.6 227.8h1.4M1134.4 243.1h1.4M1138.1 252.6h1.4M1138.1 256.7h1.4M1139.1 251.8h1.4M1134.8 243.0h1.4M1128.7 265.2h1.4M1141.3 267.1h1.4M1131.4 262.0h1.4M1150.0 257.8h1.4M1128.3 247.6h1.4M1138.8 271.9h1.4M1144.7 249.9h1.4M1144.8 262.8h1.4M1145.9 263.9h1.4M1147.6 259.5h1.4M1148.9 267.6h1.4M1141.9 272.9h1.4M1154.1 244.2h1.4M1153.5 223.4h1.4M1133.8 263.9h1.4M1142.5 241.6h1.4M1141.2 252.5h1.4M1142.8 239.1h1.4M1147.0 237.6h1.4M1145.1 247.5h1.4M1137.0 262.9h1.4M1151.7 246.4h1.4M1142.9 239.6h1.4M1135.7 266.6h1.4M1133.3 256.5h1.4M1129.0 267.3h1.4M1132.8 233.0h1.4M1155.7 239.1h1.4M1130.0 259.0h1.4M1136.8 265.8h1.4M1144.5 242.4h1.4M1157.8 249.4h1.4M1150.8 254.2h1.4M1141.5 264.1h1.4M1122.1 255.0h1.4M1127.9 278.7h1.4M1122.8 255.1h1.4M1135.5 230.7h1.4M1132.6 250.4h1.4M1132.8 265.8h1.4M1115.1 322.3h1.4M1128.9 278.7h1.4M1122.8 265.9h1.4M1101.0 283.0h1.4M1121.1 267.0h1.4M1108.1 288.8h1.4M1118.6 250.2h1.4M1120.6 315.5h1.4M1079.8 315.9h1.4M1111.7 276.5h1.4M1106.5 293.8h1.4M1105.3 297.4h1.4M1095.5 276.2h1.4M1104.9 294.9h1.4M1125.4 274.7h1.4M1111.7 289.0h1.4M1099.6 252.8h1.4M1122.9 313.4h1.4M1110.6 291.7h1.4M1117.0 290.8h1.4M1083.2 286.9h1.4M1127.3 283.3h1.4M1120.7 254.9h1.4M1123.0 293.0h1.4M1112.4 281.1h1.4M1126.6 302.4h1.4M1119.5 301.9h1.4M1128.7 271.8h1.4M1110.7 295.6h1.4M1097.5 284.3h1.4M1092.0 274.6h1.4M1112.3 295.2h1.4M1099.4 298.0h1.4M1103.3 280.8h1.4M1100.2 317.7h1.4M1119.7 249.5h1.4M1096.5 302.1h1.4M1135.0 320.6h1.4M1094.5 322.6h1.4M1103.2 294.7h1.4M1093.5 286.5h1.4M1122.5 295.3h1.4M1119.6 304.4h1.4M1113.0 279.8h1.4M1086.0 289.0h1.4M1109.8 316.1h1.4M1105.3 277.8h1.4M1092.5 257.8h1.4M1109.3 244.0h1.4M1118.4 319.2h1.4M1121.6 258.7h1.4M1093.1 285.2h1.4M1105.8 242.6h1.4M1114.5 326.7h1.4M1106.3 274.6h1.4M1102.3 269.8h1.4M1105.3 297.6h1.4M1105.6 315.1h1.4M1119.3 306.8h1.4M1107.2 280.8h1.4M1129.4 278.4h1.4M1121.8 267.3h1.4M1113.0 315.7h1.4M1114.7 295.7h1.4M1121.6 288.7h1.4M1108.3 280.3h1.4M1116.1 318.7h1.4M1113.9 262.9h1.4M1105.5 288.9h1.4M1106.1 305.2h1.4M1104.9 265.9h1.4M1111.9 285.0h1.4M1125.9 256.4h1.4M1116.8 306.4h1.4M1085.4 300.6h1.4M1105.0 314.9h1.4M1101.2 304.8h1.4M1110.7 315.5h1.4M1128.2 281.5h1.4M1101.4 317.3h1.4M1111.2 272.0h1.4M1120.1 282.4h1.4M1088.2 276.6h1.4M1106.0 267.5h1.4M1122.9 302.0h1.4M1120.4 320.4h1.4M1119.4 283.3h1.4M1106.5 288.3h1.4M1120.4 276.3h1.4M1133.5 324.2h1.4M1117.1 247.8h1.4M1103.3 262.6h1.4M1158.0 277.6h1.4M1130.8 281.7h1.4M1174.5 294.5h1.4M1135.7 287.9h1.4M1138.5 297.0h1.4M1143.5 292.7h1.4M1123.9 289.7h1.4M1151.4 296.5h1.4M1110.3 290.8h1.4M1161.4 285.1h1.4M1168.9 301.7h1.4M1162.4 292.6h1.4M1169.5 290.0h1.4M1167.6 291.2h1.4M1139.0 279.6h1.4M1166.9 291.2h1.4M1171.2 275.0h1.4M1135.7 291.9h1.4M1161.6 278.8h1.4M1134.3 288.1h1.4M1170.3 287.1h1.4M1114.4 294.2h1.4M1148.9 283.8h1.4M1131.8 295.3h1.4M1154.5 290.0h1.4M1161.8 299.0h1.4M1133.3 286.4h1.4M1142.4 298.8h1.4M1144.9 275.7h1.4M1148.8 281.8h1.4M1138.1 283.8h1.4M1129.6 273.4h1.4M1178.5 286.1h1.4M1135.2 291.3h1.4M1169.3 274.7h1.4M1142.5 288.9h1.4M1136.6 290.1h1.4M1130.6 282.3h1.4M1147.4 290.0h1.4M1181.3 284.1h1.4M1144.8 288.8h1.4M1157.8 289.4h1.4M1139.0 275.3h1.4M1146.6 281.4h1.4M1140.9 286.9h1.4M1152.8 296.0h1.4M1147.0 274.8h1.4M1158.0 293.4h1.4M1124.5 291.2h1.4M1151.7 289.7h1.4M1158.1 295.0h1.4M1149.0 286.9h1.4M1185.5 279.4h1.4M1145.0 284.5h1.4M1160.7 294.7h1.4M1129.3 295.6h1.4M1131.3 305.2h1.4M1139.1 294.7h1.4M1145.2 291.9h1.4M1137.9 287.9h1.4M1161.1 283.9h1.4M1144.3 277.7h1.4M1147.1 283.5h1.4M1162.5 291.7h1.4M1138.3 290.1h1.4M1168.9 285.5h1.4M1131.6 304.2h1.4M1157.5 291.9h1.4M1186.8 281.4h1.4M1153.8 273.7h1.4M1156.6 289.7h1.4M1137.4 281.0h1.4M1146.6 285.3h1.4M1173.0 285.2h1.4M1146.8 285.7h1.4M1125.2 283.5h1.4M1128.9 287.8h1.4M1116.2 279.1h1.4M1153.0 272.2h1.4M1125.8 293.9h1.4M1129.2 286.9h1.4M1153.8 279.5h1.4M1123.8 297.6h1.4M1140.8 290.6h1.4M1129.4 277.3h1.4M1133.5 282.5h1.4M1155.7 283.2h1.4M1163.2 282.3h1.4M1159.1 296.1h1.4M1175.3 273.0h1.4M1175.1 274.6h1.4M1170.5 286.9h1.4M1154.5 280.3h1.4M1163.2 291.8h1.4M1140.9 282.6h1.4M1162.1 294.2h1.4M1160.7 284.3h1.4M1149.2 293.5h1.4M1161.8 294.9h1.4M1151.3 282.0h1.4M1141.2 290.1h1.4M1136.6 288.8h1.4M1140.1 301.8h1.4M1167.1 288.8h1.4M1129.5 278.3h1.4M1159.7 285.9h1.4M1153.8 275.9h1.4M1126.6 287.8h1.4M1137.2 292.4h1.4M1142.7 291.0h1.4M1174.0 289.3h1.4M1151.1 282.8h1.4M1167.5 276.8h1.4M1132.7 286.8h1.4M1127.1 293.8h1.4M1139.8 290.7h1.4M1149.4 273.2h1.4M1132.9 283.6h1.4M1182.5 292.7h1.4M1160.1 279.7h1.4M1162.6 295.7h1.4M1160.5 305.3h1.4M1129.0 279.4h1.4M1150.0 290.6h1.4M1149.0 287.7h1.4M1155.3 292.4h1.4M1139.3 282.3h1.4M1167.1 284.6h1.4M1136.7 288.9h1.4M1143.9 287.8h1.4M1148.2 291.4h1.4M1162.9 281.1h1.4M1130.9 298.1h1.4M1138.9 276.1h1.4M1120.7 286.7h1.4M1139.5 274.1h1.4M1134.9 279.5h1.4M1164.1 288.6h1.4M1148.9 278.0h1.4M1146.4 291.5h1.4M1151.5 294.3h1.4M1155.9 282.9h1.4M1169.1 289.4h1.4M1161.4 279.4h1.4M1132.8 285.6h1.4M1137.0 291.2h1.4M1155.2 295.5h1.4M1157.9 279.0h1.4M1163.3 282.3h1.4M1138.1 287.3h1.4M1148.9 294.1h1.4M1191.5 289.9h1.4M1170.9 285.4h1.4M1142.7 296.3h1.4M1155.9 290.0h1.4M1137.1 298.8h1.4M1148.8 291.6h1.4M1160.3 297.2h1.4M1133.2 283.9h1.4M1172.4 302.8h1.4M1139.7 286.2h1.4M1125.9 281.1h1.4M1131.3 293.4h1.4M1148.2 285.1h1.4M1162.9 285.0h1.4M1130.5 287.1h1.4M1181.6 287.6h1.4M1156.9 285.5h1.4M1145.8 290.4h1.4M1109.5 278.2h1.4M1140.2 285.0h1.4M1170.9 304.0h1.4M1158.5 289.7h1.4M1159.3 297.4h1.4M1134.4 283.5h1.4M1151.4 289.0h1.4M1120.7 289.9h1.4M1125.3 292.3h1.4M1161.8 271.1h1.4M1156.6 288.3h1.4M1139.9 293.5h1.4M1179.1 290.4h1.4M1132.7 276.8h1.4M1131.6 279.8h1.4M1165.9 288.9h1.4M1148.7 293.0h1.4M1149.4 287.1h1.4M1136.5 282.5h1.4M1149.5 278.7h1.4M1173.9 287.8h1.4M1140.9 293.7h1.4M1133.2 294.3h1.4M1150.3 300.0h1.4M1140.9 284.1h1.4M1136.4 278.2h1.4M1152.8 279.5h1.4M1164.8 269.1h1.4M1149.1 282.5h1.4M1175.2 284.0h1.4M1155.4 285.0h1.4M1143.6 287.5h1.4M1159.1 279.1h1.4M1142.0 277.0h1.4M1155.0 280.9h1.4M1137.9 291.4h1.4M1148.8 289.7h1.4M1145.4 288.8h1.4M1140.8 279.5h1.4M1166.7 299.7h1.4M1143.8 294.9h1.4M1154.8 282.4h1.4M1142.6 284.5h1.4M1147.1 279.0h1.4M1161.9 279.0h1.4M1133.0 293.3h1.4M1160.4 297.0h1.4M1151.0 282.4h1.4M1166.1 286.2h1.4M1147.1 280.9h1.4M1155.0 270.3h1.4M1156.9 272.9h1.4M1162.1 276.0h1.4M1159.2 304.1h1.4M1144.8 278.7h1.4M1178.1 283.8h1.4M1132.3 295.6h1.4M1106.4 276.5h1.4M1129.3 282.0h1.4M1118.7 292.6h1.4M1164.3 286.5h1.4M1142.8 275.9h1.4M1156.0 282.0h1.4M1158.2 294.0h1.4M1149.7 272.1h1.4M1134.9 296.4h1.4M1153.1 296.8h1.4M1115.5 286.1h1.4M1146.4 275.5h1.4M1157.1 283.1h1.4M1153.9 295.2h1.4M1132.8 288.9h1.4M1168.6 286.2h1.4M1165.7 293.3h1.4M1153.0 284.8h1.4M1139.2 288.1h1.4M1152.2 296.7h1.4M1147.8 289.4h1.4M1174.3 289.2h1.4M1155.9 298.2h1.4M1150.4 289.7h1.4M1160.4 286.1h1.4M1132.4 276.7h1.4M1146.0 294.8h1.4M1164.0 298.3h1.4M1127.3 283.3h1.4M1145.1 281.7h1.4M1162.9 281.3h1.4M1157.8 292.4h1.4M1123.0 283.9h1.4M1167.9 292.8h1.4M1150.9 279.1h1.4M1138.5 287.5h1.4M1168.0 290.3h1.4M1147.8 288.5h1.4M1160.7 274.6h1.4M1134.2 287.1h1.4M1167.2 294.4h1.4M1137.4 287.1h1.4M1137.9 284.1h1.4M1151.2 284.3h1.4M1140.7 278.7h1.4M1125.3 285.5h1.4M1151.9 291.2h1.4M1136.8 281.8h1.4M1167.9 289.8h1.4M1162.3 282.9h1.4M1138.3 278.8h1.4M1163.9 278.9h1.4M1123.1 281.6h1.4M1168.0 287.1h1.4M1152.5 287.7h1.4M1148.3 285.7h1.4M1128.0 298.5h1.4M1146.7 295.3h1.4M1125.6 290.6h1.4M1131.3 277.8h1.4M1153.0 294.1h1.4M1169.5 296.2h1.4M1144.9 292.3h1.4M1140.0 283.1h1.4M1152.6 286.0h1.4M1161.7 274.1h1.4M1166.0 282.8h1.4M1171.1 294.9h1.4M1131.8 286.5h1.4M1159.2 281.3h1.4M1137.9 284.7h1.4M1160.2 293.2h1.4M1142.7 292.7h1.4M1171.1 293.3h1.4M1138.1 281.0h1.4M1153.3 292.6h1.4M1155.5 284.2h1.4M1135.2 295.7h1.4M1146.9 299.9h1.4M1132.0 284.6h1.4M1139.5 299.7h1.4M1167.6 283.5h1.4M1120.4 294.9h1.4M1151.1 279.1h1.4M1126.7 289.7h1.4M1146.1 287.9h1.4M1155.1 284.4h1.4M1145.1 291.5h1.4M1147.5 285.0h1.4M1158.7 273.2h1.4M1167.7 290.0h1.4M1137.8 285.7h1.4M1167.5 290.8h1.4M1122.7 279.9h1.4M1152.0 299.4h1.4M1160.6 285.6h1.4M1157.9 287.1h1.4M1144.8 289.6h1.4M1117.4 294.0h1.4M1157.3 283.9h1.4M1136.5 278.6h1.4M1151.9 298.9h1.4M1116.5 282.0h1.4M1137.8 293.6h1.4M1145.6 280.5h1.4M1152.4 289.8h1.4M1173.3 288.8h1.4M1142.8 283.5h1.4M1137.2 290.4h1.4M1161.5 285.4h1.4M1147.3 296.6h1.4M1150.8 290.5h1.4M1133.2 282.8h1.4M1117.5 277.5h1.4M1154.8 295.7h1.4M1145.3 278.7h1.4M1150.7 294.9h1.4M1146.9 293.4h1.4M1148.4 278.5h1.4M1135.8 285.2h1.4M1183.3 291.1h1.4M1145.8 289.0h1.4M1152.5 283.9h1.4M1147.8 285.2h1.4M1160.4 297.8h1.4M1169.1 284.8h1.4M1178.3 314.4h1.4M1222.8 295.0h1.4M1134.4 317.1h1.4M1130.9 299.5h1.4M1216.7 328.7h1.4M1148.7 299.1h1.4M1175.8 325.5h1.4M1225.8 282.5h1.4M1163.0 322.8h1.4M1151.8 306.5h1.4M1216.9 311.8h1.4M1214.3 312.9h1.4M1234.7 332.1h1.4M1213.3 312.9h1.4M1192.9 330.2h1.4M1151.3 317.5h1.4M1209.1 303.8h1.4M1188.1 328.8h1.4M1174.0 320.1h1.4M1191.4 317.0h1.4M1145.7 328.7h1.4M1228.3 290.1h1.4M1168.8 289.6h1.4M1227.9 312.0h1.4M1211.9 298.5h1.4"/>
<path stroke="#101088" d="M1017.7 271.6h1.4M1032.1 273.6h1.4M1007.4 270.3h1.4M1040.2 284.0h1.4M1039.5 257.5h1.4M1001.1 279.4h1.4M1031.9 273.2h1.4M1025.4 272.0h1.4M1001.2 290.9h1.4M1032.1 275.7h1.4M1030.8 249.5h1.4M1052.5 246.2h1.4M1031.7 264.7h1.4M1027.9 263.5h1.4M1035.7 260.1h1.4M999.6 275.0h1.4M1042.5 255.6h1.4M1023.0 261.6h1.4M1034.7 263.7h1.4M1050.4 283.1h1.4M1036.9 261.8h1.4M1021.7 292.9h1.4M1014.2 267.9h1.4M1009.3 278.5h1.4M999.9 263.2h1.4M1042.0 275.7h1.4M1049.8 255.3h1.4M1018.7 262.9h1.4M1006.9 262.8h1.4M1022.3 262.8h1.4M1033.8 255.0h1.4M1023.4 247.6h1.4M1045.4 256.9h1.4M1014.1 273.4h1.4M1061.0 248.2h1.4M1048.5 266.2h1.4M1018.1 261.8h1.4M1028.1 283.9h1.4M1053.7 256.2h1.4M1041.9 239.1h1.4M1049.4 269.7h1.4M1028.3 267.4h1.4M1009.9 256.9h1.4M1000.0 269.7h1.4M1047.4 255.1h1.4M1046.4 297.5h1.4M1004.3 267.5h1.4M1059.0 250.5h1.4M1037.2 261.3h1.4M1051.0 280.6h1.4M1056.2 253.0h1.4M1020.4 271.8h1.4M1029.5 253.5h1.4M1033.1 277.5h1.4M1038.9 249.7h1.4M1005.7 252.1h1.4M1051.8 245.4h1.4M1011.3 259.3h1.4M1003.3 260.6h1.4M1040.6 298.0h1.4M996.2 275.5h1.4M1013.0 298.0h1.4M1041.5 266.0h1.4M1032.4 276.2h1.4M1066.4 271.7h1.4M1034.7 283.5h1.4M1024.3 275.8h1.4M1001.2 263.1h1.4M994.6 250.9h1.4M1047.0 265.5h1.4M1010.1 266.9h1.4M1019.4 275.6h1.4M1020.6 261.1h1.4M1032.5 271.7h1.4M1013.5 263.7h1.4M1032.2 243.2h1.4M1050.7 253.7h1.4M1053.7 236.3h1.4M1010.2 284.9h1.4M1045.8 246.6h1.4M1021.7 262.5h1.4M1027.2 254.0h1.4M1033.4 278.6h1.4M1021.1 265.8h1.4M996.2 272.9h1.4M1032.0 261.0h1.4M1039.6 249.9h1.4M1044.8 274.3h1.4M1032.4 276.3h1.4M1003.5 268.2h1.4M1018.7 291.8h1.4M1047.3 239.0h1.4M1038.8 266.2h1.4M996.0 280.6h1.4M1068.5 254.0h1.4M1055.3 261.5h1.4M1013.2 280.4h1.4M1055.6 237.5h1.4M1027.6 266.9h1.4M1033.0 274.5h1.4M998.2 278.4h1.4M1024.7 277.9h1.4M1059.4 239.3h1.4M1004.3 271.4h1.4M1034.0 280.7h1.4M1011.9 259.1h1.4M1036.6 241.7h1.4M1055.8 269.4h1.4M1056.5 260.9h1.4M1065.6 246.5h1.4M1029.7 261.4h1.4M1039.0 259.1h1.4M1020.6 277.0h1.4M1015.9 253.9h1.4M1049.5 247.2h1.4M1018.7 252.9h1.4M1049.0 261.9h1.4M1049.1 291.7h1.4M1036.4 268.5h1.4M1059.4 244.2h1.4M992.4 284.0h1.4M1010.0 258.3h1.4M1011.4 284.6h1.4M1061.8 262.7h1.4M1022.0 267.1h1.4M1011.6 266.6h1.4M1028.2 284.8h1.4M1054.4 259.7h1.4M1023.9 268.4h1.4M1002.2 262.1h1.4M1014.6 271.5h1.4M1017.9 253.3h1.4M992.8 271.3h1.4M1070.3 256.0h1.4M1007.3 263.6h1.4M1025.8 252.7h1.4M1043.0 259.9h1.4M1034.2 263.0h1.4M1028.1 259.0h1.4M1040.1 277.1h1.4M1029.5 252.8h1.4M1018.7 243.3h1.4M1028.6 261.5h1.4M1032.7 239.6h1.4M1019.1 257.6h1.4M997.7 303.8h1.4M1006.9 283.5h1.4M1033.7 264.4h1.4M1054.1 247.0h1.4M1018.6 255.7h1.4M1014.8 278.0h1.4M1034.5 247.4h1.4M1018.5 262.4h1.4M1039.5 254.4h1.4M1022.9 259.0h1.4M1002.8 266.8h1.4M1004.7 264.5h1.4M1000.7 262.1h1.4M1017.5 263.3h1.4M1011.4 261.0h1.4M995.1 249.6h1.4M1008.3 285.4h1.4M1014.1 260.3h1.4M992.8 263.7h1.4M1007.3 274.4h1.4M1019.0 251.6h1.4M1006.9 259.4h1.4M1012.1 270.9h1.4M1002.3 273.2h1.4M1007.8 263.5h1.4M1001.7 259.8h1.4M1014.3 269.9h1.4M1045.2 254.7h1.4M994.9 248.0h1.4M989.0 275.3h1.4M1009.0 248.1h1.4M1032.1 257.4h1.4M977.9 262.6h1.4M1041.6 263.6h1.4M1016.0 271.9h1.4M1036.3 244.5h1.4M1020.1 275.8h1.4M1019.8 266.8h1.4M1011.0 266.5h1.4M1012.2 286.8h1.4M997.3 261.1h1.4M1007.5 261.6h1.4M1048.7 244.4h1.4M1037.5 242.0h1.4M1054.5 250.3h1.4M1045.5 254.4h1.4M1045.2 240.8h1.4M1060.8 238.9h1.4M1039.3 242.7h1.4M1043.6 246.5h1.4M1059.2 245.4h1.4M1048.3 242.8h1.4M1054.7 247.2h1.4M1041.5 232.7h1.4M1064.8 237.6h1.4M1046.9 237.5h1.4M1032.3 271.3h1.4M1053.4 246.3h1.4M1049.0 256.1h1.4M1056.7 247.9h1.4M1037.7 256.9h1.4M1040.6 241.1h1.4M1050.3 242.1h1.4M1045.7 241.4h1.4M1063.7 248.6h1.4M1060.8 239.4h1.4M1062.9 237.6h1.4M1017.5 251.6h1.4M1054.9 251.8h1.4M1063.4 249.8h1.4M1040.7 241.8h1.4M1051.7 263.2h1.4M1047.5 228.2h1.4M1051.6 245.4h1.4M1040.0 258.8h1.4M1055.3 251.6h1.4M1040.7 232.7h1.4M1032.1 248.6h1.4M1027.3 254.0h1.4M1059.5 242.1h1.4M1051.8 231.3h1.4M1047.5 228.9h1.4M1042.8 237.5h1.4M1043.3 247.3h1.4M1060.4 235.9h1.4M1044.4 245.1h1.4M1049.3 235.9h1.4M1053.9 237.0h1.4M1041.4 260.8h1.4M1051.4 253.8h1.4M1047.1 267.5h1.4M1054.8 248.7h1.4M1031.0 253.0h1.4M1039.2 267.4h1.4M1047.9 266.1h1.4M1035.6 264.5h1.4M1044.6 256.5h1.4M1049.2 273.6h1.4M1017.7 268.7h1.4M1042.5 267.0h1.4M1039.4 264.8h1.4M1041.2 266.3h1.4M1035.5 259.7h1.4M1038.2 270.7h1.4M1045.6 250.8h1.4M1025.6 277.1h1.4M1040.7 268.4h1.4M1040.1 276.3h1.4M1022.5 263.4h1.4M1033.9 266.7h1.4M1037.7 251.6h1.4M1020.7 248.2h1.4M1033.5 252.9h1.4M1049.0 266.9h1.4M1030.1 269.1h1.4M1034.5 250.5h1.4M1024.1 245.9h1.4M1024.3 253.4h1.4M1038.9 260.3h1.4M1047.4 269.8h1.4M1038.0 268.6h1.4M1028.5 268.3h1.4M1033.3 266.3h1.4M1043.7 264.2h1.4M1040.0 271.5h1.4M1035.7 276.3h1.4M1029.2 250.0h1.4M1030.6 267.1h1.4M1036.5 257.7h1.4M1006.0 273.0h1.4M1002.2 274.4h1.4M995.0 263.5h1.4M1034.5 245.5h1.4M1030.4 247.3h1.4M1036.6 261.9h1.4M1010.5 262.2h1.4M983.5 275.0h1.4M1009.0 255.4h1.4M1064.8 247.1h1.4M1049.0 243.9h1.4M1060.5 276.7h1.4M1050.7 242.1h1.4M999.6 256.7h1.4M1015.4 246.9h1.4M1030.9 253.9h1.4M1030.6 245.6h1.4M1017.5 266.7h1.4M1053.5 249.5h1.4M1038.0 243.5h1.4M1028.9 258.9h1.4M1030.5 235.0h1.4M1047.5 235.7h1.4M1050.1 270.2h1.4M1063.5 240.9h1.4M1058.4 269.5h1.4M1046.8 247.2h1.4M1033.0 245.0h1.4M1061.0 253.4h1.4M1034.0 250.0h1.4M1020.3 270.4h1.4M1057.1 267.9h1.4M1058.0 276.1h1.4M1058.0 267.8h1.4M992.3 310.6h1.4M1015.7 284.2h1.4M988.6 288.7h1.4M1052.5 322.3h1.4M1050.0 278.1h1.4M1035.9 277.3h1.4M1055.5 321.7h1.4M1059.2 322.7h1.4M1033.0 308.4h1.4M994.9 276.4h1.4M1005.2 297.7h1.4M991.1 288.4h1.4M1015.0 328.4h1.4M995.0 290.4h1.4M987.5 288.4h1.4M1051.9 327.7h1.4M1059.3 283.3h1.4M1029.6 281.7h1.4M1022.9 285.1h1.4M989.2 291.0h1.4M1061.4 284.9h1.4M1032.9 315.7h1.4M1004.6 289.0h1.4M1034.2 284.8h1.4M1033.5 318.6h1.4M991.5 276.9h1.4M1059.6 309.9h1.4M994.5 277.7h1.4M1023.0 292.9h1.4M988.4 285.0h1.4M1039.4 284.6h1.4M1014.9 288.9h1.4M997.5 304.2h1.4M1048.7 276.0h1.4M1008.4 283.9h1.4M1020.6 290.5h1.4M1013.7 283.0h1.4M1033.8 321.9h1.4M1007.4 282.6h1.4M1061.7 307.3h1.4M994.5 305.2h1.4M1012.8 294.5h1.4M992.8 296.2h1.4M990.6 283.7h1.4M984.4 310.5h1.4M982.7 291.7h1.4M1026.0 297.1h1.4M1047.0 320.9h1.4M1016.6 277.2h1.4M990.9 276.0h1.4M1009.9 287.8h1.4M996.9 293.1h1.4M1044.4 290.3h1.4M1058.9 321.0h1.4M1042.5 289.0h1.4M1011.3 289.0h1.4M1003.7 299.1h1.4M1026.4 286.4h1.4M1020.7 295.8h1.4M1040.2 279.3h1.4M1042.8 281.3h1.4M1029.0 314.9h1.4M1001.3 326.8h1.4M1038.8 282.3h1.4M1030.3 294.4h1.4M1058.4 320.0h1.4M981.5 290.4h1.4M1020.6 292.1h1.4M1033.1 306.1h1.4M983.4 314.9h1.4M1050.6 325.2h1.4M984.5 311.6h1.4M1047.1 281.8h1.4M993.8 279.3h1.4M1041.1 277.2h1.4M1029.3 298.8h1.4M1012.9 283.1h1.4M1042.5 302.3h1.4M1055.5 319.7h1.4M1036.5 314.2h1.4M1036.0 293.7h1.4M1044.3 323.0h1.4M1007.9 286.1h1.4M1047.6 294.8h1.4M992.6 314.3h1.4M988.8 286.0h1.4M982.2 299.6h1.4M1034.3 282.4h1.4M993.8 286.1h1.4M1043.9 284.9h1.4M1026.2 282.6h1.4M986.2 290.6h1.4M1052.3 318.5h1.4M1021.9 291.7h1.4M1045.4 280.5h1.4M1042.0 291.3h1.4M1022.7 313.9h1.4M985.4 285.8h1.4M1044.4 286.6h1.4M1008.9 285.4h1.4M1062.1 326.9h1.4M1060.3 315.6h1.4M1060.2 280.4h1.4M1059.9 286.4h1.4M1045.8 281.4h1.4M1015.7 279.6h1.4M1028.9 283.4h1.4M1034.4 276.6h1.4M1027.9 275.7h1.4M1028.6 282.6h1.4M1008.3 282.7h1.4M1025.0 282.2h1.4M1046.8 279.5h1.4M1033.6 281.3h1.4M1019.6 278.3h1.4M1052.5 285.9h1.4M1051.6 277.1h1.4M1031.7 282.9h1.4M1039.0 283.3h1.4M1032.6 281.2h1.4M1045.6 280.3h1.4M1044.5 286.3h1.4M1033.5 283.1h1.4M1044.6 282.5h1.4M1058.6 284.4h1.4M1042.9 281.8h1.4M1017.6 281.9h1.4M1011.2 277.7h1.4M1023.3 275.2h1.4M1030.1 283.3h1.4M1024.9 283.9h1.4M1027.9 286.9h1.4M1027.7 279.9h1.4M1039.7 287.2h1.4M1044.3 287.1h1.4M1054.4 283.7h1.4M1045.3 279.8h1.4M1026.0 283.5h1.4M1048.1 279.9h1.4M1042.0 286.0h1.4M1014.3 283.7h1.4M1024.3 286.7h1.4M1140.5 244.2h1.4M1148.6 237.5h1.4M1160.1 257.0h1.4M1139.0 253.2h1.4M1128.8 247.9h1.4M1140.1 237.8h1.4M1140.1 248.3h1.4M1156.5 238.8h1.4M1151.4 242.7h1.4M1151.6 236.3h1.4M1159.9 223.8h1.4M1145.7 244.1h1.4M1137.2 257.5h1.4M1120.3 263.3h1.4M1156.4 242.4h1.4M1137.8 247.8h1.4M1157.7 259.8h1.4M1129.2 248.4h1.4M1140.3 242.0h1.4M1140.5 238.9h1.4M1141.5 234.0h1.4M1167.8 243.7h1.4M1124.4 255.2h1.4M1141.6 255.4h1.4M1149.5 276.3h1.4M1145.7 264.0h1.4M1177.0 228.2h1.4M1133.6 243.6h1.4M1147.0 277.2h1.4M1142.7 256.3h1.4M1140.8 253.9h1.4M1135.1 245.6h1.4M1151.9 231.5h1.4M1145.3 233.2h1.4M1152.3 251.6h1.4M1153.2 236.3h1.4M1156.8 249.4h1.4M1159.2 244.7h1.4M1131.8 250.6h1.4M1139.4 233.6h1.4M1139.5 258.2h1.4M1145.9 236.3h1.4M1157.7 259.7h1.4M1165.2 221.0h1.4M1155.1 248.0h1.4M1138.9 236.6h1.4M1163.9 243.8h1.4M1136.2 252.3h1.4M1124.3 260.0h1.4M1157.2 231.5h1.4M1136.7 248.7h1.4M1144.0 259.7h1.4M1167.3 232.6h1.4M1130.6 260.6h1.4M1149.8 249.1h1.4M1146.7 256.3h1.4M1142.6 253.1h1.4M1151.3 244.3h1.4M1171.4 224.6h1.4M1144.1 261.9h1.4M1168.6 246.0h1.4M1170.1 240.6h1.4M1143.2 243.0h1.4M1145.4 227.1h1.4M1161.2 255.2h1.4M1144.3 231.4h1.4M1141.7 237.4h1.4M1155.3 233.7h1.4M1130.7 248.4h1.4M1159.5 240.3h1.4M1171.8 240.2h1.4M1158.2 256.3h1.4M1165.4 226.3h1.4M1169.8 235.5h1.4M1151.8 257.8h1.4M1146.9 238.6h1.4M1158.3 231.6h1.4M1161.0 245.0h1.4M1147.8 226.2h1.4M1150.1 249.6h1.4M1170.0 247.5h1.4M1137.1 253.1h1.4M1155.1 232.2h1.4M1155.7 239.7h1.4M1151.8 242.9h1.4M1127.0 264.7h1.4M1133.9 241.0h1.4M1155.8 254.8h1.4M1137.7 262.2h1.4M1153.1 247.3h1.4M1147.4 253.8h1.4M1143.0 254.4h1.4M1162.6 227.8h1.4M1164.6 260.8h1.4M1143.4 252.0h1.4M1149.8 236.2h1.4M1159.8 230.4h1.4M1136.0 241.3h1.4M1129.0 256.1h1.4M1156.9 244.7h1.4M1146.9 233.4h1.4M1155.9 243.7h1.4M1137.4 241.3h1.4M1129.2 238.4h1.4M1140.7 237.6h1.4M1144.6 281.7h1.4M1165.8 256.0h1.4M1151.2 247.6h1.4M1159.4 227.5h1.4M1133.9 271.1h1.4M1150.4 241.5h1.4M1155.3 259.0h1.4M1155.1 246.1h1.4M1165.1 251.7h1.4M1153.5 263.1h1.4M1158.7 257.4h1.4M1140.2 252.4h1.4M1162.7 259.7h1.4M1138.8 253.3h1.4M1132.2 258.7h1.4M1149.1 259.1h1.4M1126.7 258.4h1.4M1147.9 242.0h1.4M1141.3 245.0h1.4M1160.6 252.0h1.4M1155.4 245.1h1.4M1159.2 247.2h1.4M1142.8 248.5h1.4M1154.1 236.6h1.4M1154.1 243.4h1.4M1154.1 237.3h1.4M1163.1 256.4h1.4M1138.0 249.5h1.4M1144.2 244.2h1.4M1138.0 242.4h1.4M1149.3 263.4h1.4M1124.7 254.7h1.4M1141.9 239.4h1.4M1150.7 223.7h1.4M1135.6 249.1h1.4M1139.3 254.9h1.4M1144.3 264.2h1.4M1146.9 236.8h1.4M1128.5 251.2h1.4M1154.0 254.8h1.4M1136.9 252.9h1.4M1160.9 241.9h1.4M1151.1 242.9h1.4M1160.4 231.5h1.4M1143.9 262.4h1.4M1145.0 229.1h1.4M1150.9 239.4h1.4M1171.8 223.1h1.4M1156.6 247.7h1.4M1152.5 252.7h1.4M1147.3 236.8h1.4M1132.2 249.6h1.4M1145.9 228.5h1.4M1136.5 245.1h1.4M1156.3 220.6h1.4M1145.3 249.4h1.4M1143.8 251.1h1.4M1159.4 254.7h1.4M1142.6 252.8h1.4M1160.1 240.7h1.4M1142.0 249.5h1.4M1166.4 242.1h1.4M1135.2 245.7h1.4M1156.0 249.5h1.4M1159.1 241.3h1.4M1149.4 251.4h1.4M1141.3 244.7h1.4M1144.5 254.2h1.4M1153.5 249.1h1.4M1135.9 242.5h1.4M1137.8 235.0h1.4M1159.6 229.8h1.4M1130.4 238.4h1.4M1164.6 253.2h1.4M1157.7 254.6h1.4M1166.8 233.0h1.4M1156.2 233.5h1.4M1149.0 264.3h1.4M1153.2 230.6h1.4M1139.7 255.7h1.4M1156.4 228.4h1.4M1138.3 230.3h1.4M1155.6 247.3h1.4M1166.4 232.8h1.4M1153.6 261.4h1.4M1161.2 279.5h1.4M1163.5 256.2h1.4M1131.1 256.0h1.4M1140.3 262.5h1.4M1151.9 241.1h1.4M1173.2 234.2h1.4M1169.7 241.6h1.4M1138.2 259.0h1.4M1140.5 233.7h1.4M1150.8 250.3h1.4M1134.9 260.0h1.4M1156.0 246.9h1.4M1153.2 242.5h1.4M1148.3 225.3h1.4M1144.3 239.5h1.4M1140.4 256.2h1.4M1137.8 240.7h1.4M1153.0 244.1h1.4M1145.2 249.1h1.4M1140.3 259.9h1.4M1131.6 260.8h1.4M1142.7 243.7h1.4M1148.3 241.7h1.4M1133.5 254.9h1.4M1134.3 244.3h1.4M1148.9 247.0h1.4M1133.5 260.6h1.4M1148.4 233.3h1.4M1151.8 252.8h1.4M1140.2 238.9h1.4M1135.6 237.2h1.4M1146.9 252.2h1.4M1151.2 289.1h1.4M1153.3 289.8h1.4M1149.8 282.2h1.4M1143.7 272.1h1.4M1149.5 287.6h1.4M1145.2 280.1h1.4M1150.2 291.7h1.4M1154.1 283.3h1.4M1153.8 282.4h1.4M1155.3 287.2h1.4M1146.9 289.7h1.4M1152.2 284.5h1.4M1139.3 293.7h1.4M1164.7 282.0h1.4M1162.7 282.4h1.4M1153.3 288.0h1.4"/>
<path stroke="#1e50c0" d="M1062.8 261.0h1.4M1030.9 265.3h1.4M1052.2 247.4h1.4M1033.0 273.0h1.4M1041.1 276.9h1.4M1030.2 259.8h1.4M1030.6 249.5h1.4M1030.1 264.9h1.4M1012.1 263.1h1.4M1045.5 282.8h1.4M1005.2 254.1h1.4M1035.8 263.2h1.4M1047.1 238.2h1.4M1043.5 272.3h1.4M1016.4 267.7h1.4M1035.0 246.6h1.4M1021.2 262.7h1.4M1059.4 257.0h1.4M1008.2 265.6h1.4M1026.6 279.2h1.4M1025.9 270.4h1.4M993.5 265.8h1.4M1033.7 246.6h1.4M1035.1 271.6h1.4M1025.3 239.7h1.4M1048.1 249.6h1.4M1045.3 246.8h1.4M1023.2 265.2h1.4M1031.7 257.1h1.4M1018.8 283.3h1.4M1034.1 270.9h1.4M1023.8 276.6h1.4M1002.0 266.1h1.4M999.4 277.4h1.4M1016.7 276.6h1.4M1030.6 262.7h1.4M1009.1 263.9h1.4M1047.1 265.7h1.4M1020.4 267.4h1.4M1025.1 255.5h1.4M1008.0 261.1h1.4M1029.2 265.6h1.4M1021.5 250.1h1.4M1031.2 286.2h1.4M1020.9 276.2h1.4M1002.3 269.9h1.4M1047.1 257.1h1.4M1022.3 292.8h1.4M1035.6 265.1h1.4M1009.8 273.1h1.4M1008.9 262.4h1.4M1042.1 245.9h1.4M1021.0 281.0h1.4M1043.9 257.3h1.4M1036.6 252.6h1.4M1037.4 244.3h1.4M1030.3 261.9h1.4M1031.4 260.6h1.4M1034.0 258.3h1.4M1008.2 286.4h1.4M1048.5 255.1h1.4M1022.6 269.5h1.4M1030.3 249.8h1.4M1028.0 270.9h1.4M1042.6 282.7h1.4M1017.9 269.6h1.4M1013.0 289.1h1.4M1019.2 264.4h1.4M1056.3 251.7h1.4M1044.1 271.8h1.4M1047.1 260.7h1.4M1006.6 261.5h1.4M1026.9 262.0h1.4M1030.7 265.3h1.4M1023.5 280.3h1.4M1024.4 251.6h1.4M1002.0 259.8h1.4M1048.2 271.8h1.4M1033.2 242.8h1.4M1060.2 240.7h1.4M1003.6 286.9h1.4M1020.7 264.5h1.4M1026.3 262.3h1.4M1012.3 274.5h1.4M998.6 286.4h1.4M1017.0 273.6h1.4M1044.9 243.4h1.4M1042.9 262.3h1.4M1016.4 285.5h1.4M1016.2 273.5h1.4M1048.5 267.3h1.4M1052.8 261.5h1.4M1008.3 257.2h1.4M1052.5 242.6h1.4M1028.0 277.1h1.4M1026.6 270.7h1.4M1031.8 253.7h1.4M1016.3 285.5h1.4M1003.0 262.5h1.4M1005.1 256.5h1.4M1010.2 256.5h1.4M1019.2 267.3h1.4M1025.6 261.6h1.4M1030.8 258.4h1.4M1034.8 261.4h1.4M991.9 276.8h1.4M1043.8 270.6h1.4M1054.1 266.6h1.4M1013.1 269.1h1.4M1010.8 257.9h1.4M1030.8 250.5h1.4M1032.1 245.9h1.4M1023.1 253.2h1.4M1002.5 255.5h1.4M1028.0 266.3h1.4M994.4 278.6h1.4M1045.8 245.7h1.4M1047.8 240.2h1.4M1053.6 245.2h1.4M1036.2 265.6h1.4M1037.6 283.5h1.4M1053.5 247.0h1.4M1042.0 239.9h1.4M1056.7 254.8h1.4M1059.8 277.6h1.4M1042.0 240.5h1.4M1049.0 246.5h1.4M1046.9 237.7h1.4M1024.1 252.5h1.4M1061.0 247.8h1.4M1052.8 244.9h1.4M1043.1 237.9h1.4M1048.9 249.1h1.4M1060.1 249.5h1.4M1058.8 250.0h1.4M1052.0 237.2h1.4M1054.5 233.7h1.4M1047.8 247.4h1.4M1048.0 258.4h1.4M1052.8 256.7h1.4M1048.8 249.0h1.4M1058.7 239.2h1.4M1059.2 243.3h1.4M1051.8 244.3h1.4M1061.1 245.7h1.4M1055.0 245.9h1.4M1053.0 254.4h1.4M1054.5 242.2h1.4M1044.6 257.8h1.4M1041.6 232.9h1.4M1054.4 234.4h1.4M1045.0 247.9h1.4M1043.2 251.3h1.4M1045.2 266.2h1.4M1037.2 243.7h1.4M1052.8 249.7h1.4M1043.9 258.8h1.4M1052.0 249.9h1.4M1037.6 249.3h1.4M1024.0 252.0h1.4M1037.3 266.5h1.4M1033.8 259.1h1.4M1031.8 261.9h1.4M1052.0 253.8h1.4M1035.4 269.7h1.4M1042.3 265.3h1.4M1024.1 265.9h1.4M1035.2 267.5h1.4M1022.9 266.2h1.4M1042.7 256.5h1.4M1038.9 266.0h1.4M1021.3 253.9h1.4M1044.7 254.5h1.4M1037.7 271.4h1.4M1034.8 263.0h1.4M1036.6 264.5h1.4M1039.7 265.5h1.4M1032.9 254.8h1.4M1039.5 255.1h1.4M1021.0 265.3h1.4M1037.2 253.6h1.4M1041.6 266.1h1.4M1038.3 256.3h1.4M1044.3 261.1h1.4M1032.9 272.0h1.4M1039.1 282.2h1.4M1033.6 266.4h1.4M1030.3 271.3h1.4M1025.8 254.1h1.4M1040.4 267.0h1.4M1033.0 267.4h1.4M995.6 248.7h1.4M977.9 263.3h1.4M1038.0 235.1h1.4M1046.5 250.4h1.4M1040.8 269.7h1.4M1056.2 245.8h1.4M1047.1 259.6h1.4M1033.9 263.0h1.4M1054.1 252.7h1.4M999.2 271.2h1.4M1056.1 236.6h1.4M1051.2 256.0h1.4M1047.0 260.2h1.4M1003.0 253.8h1.4M980.5 261.8h1.4M1049.7 260.1h1.4M1004.0 257.2h1.4M1054.1 260.6h1.4M1045.6 260.8h1.4M1035.2 272.7h1.4M1051.6 236.2h1.4M1022.4 264.4h1.4M1005.8 275.3h1.4M1002.5 276.4h1.4M1023.9 254.0h1.4M1051.4 280.1h1.4M996.6 294.1h1.4M1021.1 290.2h1.4M1029.8 309.3h1.4M991.2 281.4h1.4M1020.1 328.4h1.4M1023.2 289.6h1.4M1030.7 284.9h1.4M1048.0 282.7h1.4M1036.1 322.4h1.4M1003.1 320.8h1.4M997.9 277.2h1.4M1048.2 281.4h1.4M988.6 287.9h1.4M1030.8 283.9h1.4M1000.6 307.9h1.4M1000.2 279.2h1.4M1056.5 316.6h1.4M1023.6 276.2h1.4M998.4 288.5h1.4M988.8 277.7h1.4M1044.8 297.3h1.4M1010.6 278.2h1.4M1009.1 277.2h1.4M1007.4 280.7h1.4M1011.1 290.5h1.4M1023.8 297.5h1.4M1046.6 279.4h1.4M1007.4 290.7h1.4M997.9 301.0h1.4M1046.1 279.4h1.4M1031.3 277.1h1.4M1037.4 282.9h1.4M1047.6 285.4h1.4M1036.2 276.2h1.4M1045.2 276.8h1.4M1008.2 281.2h1.4M1025.5 282.7h1.4M1017.3 274.3h1.4M1028.1 279.4h1.4M1025.9 280.0h1.4M1017.8 284.8h1.4M1025.0 292.9h1.4M1019.2 279.3h1.4M1011.0 286.3h1.4M1027.5 281.6h1.4M1042.1 282.2h1.4M1034.8 285.0h1.4M1039.8 282.2h1.4M1015.8 279.0h1.4M1043.4 281.9h1.4M1026.6 290.8h1.4M1019.7 284.4h1.4M1016.1 283.5h1.4M1038.6 280.4h1.4M1017.1 279.6h1.4M1025.1 289.1h1.4M1050.5 276.4h1.4M1160.6 236.6h1.4M1150.3 235.4h1.4M1143.6 251.4h1.4M1153.7 249.1h1.4M1159.8 233.9h1.4M1154.7 259.4h1.4M1141.9 257.9h1.4M1130.7 258.0h1.4M1148.0 235.4h1.4M1151.8 232.5h1.4M1141.3 250.7h1.4M1138.0 252.2h1.4M1147.3 238.8h1.4M1137.6 252.5h1.4M1147.4 245.7h1.4M1132.0 245.5h1.4M1157.3 252.1h1.4M1131.3 257.3h1.4M1155.0 248.8h1.4M1157.8 238.0h1.4M1148.8 283.8h1.4M1144.1 249.6h1.4M1137.5 261.7h1.4M1136.3 257.4h1.4M1153.0 255.9h1.4M1151.6 255.5h1.4M1159.5 240.1h1.4M1162.4 238.6h1.4M1156.7 248.7h1.4M1140.4 259.6h1.4M1143.4 260.1h1.4M1153.0 231.9h1.4M1130.8 261.9h1.4M1149.2 243.8h1.4M1137.1 259.8h1.4M1148.2 256.5h1.4M1159.0 241.3h1.4M1160.2 245.6h1.4M1137.9 260.5h1.4M1163.6 239.6h1.4M1149.2 229.9h1.4M1135.0 252.7h1.4M1126.1 261.8h1.4M1134.7 254.1h1.4M1139.2 252.0h1.4M1140.6 237.7h1.4M1148.6 245.2h1.4M1152.4 253.9h1.4M1137.8 240.3h1.4M1150.6 251.5h1.4M1131.7 242.5h1.4M1134.6 239.8h1.4M1127.8 259.4h1.4M1138.8 241.6h1.4M1146.9 247.4h1.4M1151.4 253.4h1.4M1150.6 247.1h1.4M1149.5 249.4h1.4M1161.4 226.6h1.4M1142.7 263.7h1.4M1134.0 238.7h1.4M1141.6 250.6h1.4M1138.7 242.5h1.4M1140.5 257.4h1.4M1153.5 244.2h1.4M1160.6 245.7h1.4M1141.3 243.6h1.4M1151.0 285.5h1.4M1151.3 229.4h1.4M1127.9 254.3h1.4M1156.3 252.4h1.4M1139.6 251.6h1.4M1138.6 252.0h1.4M1163.4 239.5h1.4M1138.4 242.3h1.4M1124.1 244.8h1.4M1159.5 230.2h1.4M1169.0 239.3h1.4M1131.0 249.4h1.4M1161.1 257.0h1.4M1135.0 256.5h1.4M1145.9 276.7h1.4M1157.3 246.7h1.4M1152.9 245.7h1.4M1130.0 255.4h1.4M1153.4 255.7h1.4M1146.6 256.3h1.4M1138.3 254.1h1.4M1151.1 255.9h1.4M1160.2 235.8h1.4M1149.5 241.2h1.4M1149.6 230.5h1.4M1159.4 236.8h1.4M1154.8 241.9h1.4M1150.0 249.2h1.4M1150.9 244.0h1.4M1153.9 283.6h1.4M1145.5 249.1h1.4M1139.7 260.7h1.4M1141.7 251.6h1.4M1144.5 261.0h1.4M1161.1 243.7h1.4M1135.1 252.6h1.4M1138.2 259.3h1.4M1134.9 259.9h1.4M1139.0 240.9h1.4M1146.4 259.6h1.4M1134.7 260.4h1.4M1139.1 246.5h1.4M1147.7 251.4h1.4M1141.6 240.3h1.4M1141.7 256.8h1.4M1136.3 263.1h1.4M1153.9 246.0h1.4M1138.6 251.3h1.4M1142.3 255.0h1.4M1142.9 253.4h1.4M1135.0 243.8h1.4M1141.5 269.3h1.4M1143.1 238.6h1.4M1139.7 247.9h1.4M1144.4 240.4h1.4M1142.8 246.0h1.4M1125.3 262.9h1.4M1140.0 248.2h1.4M1133.5 259.0h1.4M1136.9 262.0h1.4M1148.1 253.2h1.4M1139.7 284.6h1.4M1144.6 285.2h1.4M1146.4 282.3h1.4M1150.3 279.1h1.4M1136.5 284.9h1.4"/>
<path stroke="#1c8c96" d="M1033.8 250.1h1.4M1024.7 262.2h1.4M1006.1 251.3h1.4M1009.4 284.9h1.4M1036.7 257.1h1.4M1046.3 255.7h1.4M1054.4 241.0h1.4M1006.1 267.5h1.4M1040.2 278.6h1.4M1058.3 241.8h1.4M1024.2 273.1h1.4M1024.6 269.3h1.4M1052.1 240.4h1.4M1033.1 276.1h1.4M1043.3 246.8h1.4M1005.7 261.3h1.4M1042.8 250.3h1.4M1027.4 266.6h1.4M1023.1 270.9h1.4M1019.4 267.7h1.4M1053.9 263.8h1.4M1015.2 260.0h1.4M1044.2 278.6h1.4M1015.2 254.8h1.4M1033.6 266.2h1.4M1035.6 269.0h1.4M1041.5 252.5h1.4M1034.5 241.0h1.4M1046.2 247.1h1.4M1011.0 266.2h1.4M1013.1 267.9h1.4M1023.1 247.6h1.4M1012.9 256.8h1.4M998.0 263.5h1.4M1052.9 257.5h1.4M1019.6 276.9h1.4M1026.3 277.5h1.4M1007.5 263.9h1.4M1033.4 271.5h1.4M1039.5 274.8h1.4M1051.0 250.1h1.4M1033.1 255.3h1.4M1047.3 262.6h1.4M1021.9 274.5h1.4M1025.2 251.0h1.4M1031.2 265.0h1.4M1036.2 274.6h1.4M1020.1 260.3h1.4M1045.4 254.0h1.4M1046.6 265.2h1.4M1042.9 260.7h1.4M1038.6 268.1h1.4M1048.8 246.7h1.4M1054.1 253.1h1.4M1042.5 272.1h1.4M1021.4 291.8h1.4M1024.9 258.2h1.4M1023.0 283.6h1.4M1035.5 256.1h1.4M1052.8 242.8h1.4M1004.1 257.0h1.4M1043.0 264.0h1.4M1022.2 267.6h1.4M1043.3 272.6h1.4M1015.7 275.1h1.4M1023.5 280.6h1.4M1033.5 248.2h1.4M1007.4 275.2h1.4M1038.9 258.0h1.4M1013.6 264.6h1.4M1042.1 241.4h1.4M1009.5 278.6h1.4M1033.6 244.4h1.4M1015.4 274.8h1.4M1037.1 251.5h1.4M1041.5 268.7h1.4M1045.0 243.5h1.4M1044.3 253.6h1.4M1031.0 250.7h1.4M1019.9 249.6h1.4M1054.0 247.8h1.4M1026.5 264.9h1.4M1043.4 246.3h1.4M1036.8 267.6h1.4M1056.9 250.3h1.4M1031.0 284.1h1.4M1019.6 249.9h1.4M1037.4 264.2h1.4M1029.7 247.1h1.4M1008.6 267.9h1.4M1017.7 263.7h1.4M1020.3 273.5h1.4M1004.3 268.4h1.4M1030.3 269.2h1.4M1039.2 253.8h1.4M1023.8 281.3h1.4M993.5 275.9h1.4M1043.8 280.1h1.4M1055.9 254.8h1.4M1049.5 242.1h1.4M1043.7 244.0h1.4M1059.5 244.2h1.4M1050.6 257.9h1.4M1055.7 256.0h1.4M1038.2 268.3h1.4M1043.1 252.0h1.4M1047.1 256.3h1.4M1045.5 250.0h1.4M1066.4 249.0h1.4M1054.3 264.2h1.4M1043.8 240.6h1.4M1043.9 242.1h1.4M1054.5 242.7h1.4M1041.2 266.2h1.4M1048.3 240.6h1.4M1035.8 260.8h1.4M1058.3 240.5h1.4M1048.0 255.7h1.4M1049.5 238.8h1.4M1041.0 256.8h1.4M1046.2 241.8h1.4M1045.6 269.7h1.4M1046.1 252.3h1.4M1042.3 245.3h1.4M1041.7 245.5h1.4M1037.7 257.7h1.4M1039.9 275.5h1.4M1053.1 255.6h1.4M1059.9 259.4h1.4M1050.9 248.4h1.4M1050.2 249.9h1.4M1059.9 248.8h1.4M1045.5 257.1h1.4M1034.1 260.5h1.4M1039.8 260.6h1.4M1028.2 259.5h1.4M1044.3 257.6h1.4M1030.4 248.7h1.4M1039.3 257.6h1.4M1045.8 246.2h1.4M1047.1 262.9h1.4M1031.0 267.6h1.4M1036.0 256.5h1.4M1026.7 267.3h1.4M1040.2 270.1h1.4M1037.1 254.7h1.4M1029.7 259.3h1.4M1028.2 260.0h1.4M1032.1 268.6h1.4M1040.1 268.6h1.4M1048.5 251.1h1.4M1039.3 271.8h1.4M1025.7 266.2h1.4M1029.0 270.2h1.4M1038.3 269.1h1.4M1032.4 259.1h1.4M1046.3 260.9h1.4M1032.7 247.3h1.4M1044.2 257.3h1.4M1048.0 257.7h1.4M1036.0 263.2h1.4M1035.3 257.6h1.4M1033.9 261.0h1.4M1047.5 261.2h1.4M1046.4 265.3h1.4M1030.8 246.5h1.4M992.6 266.8h1.4M1004.4 262.0h1.4M1035.2 245.0h1.4M1042.9 273.3h1.4M1015.4 275.7h1.4M1043.8 240.3h1.4M1022.8 272.9h1.4M1041.6 246.8h1.4M1040.7 242.6h1.4M1046.6 263.1h1.4M1020.9 270.3h1.4M999.4 260.9h1.4M1017.5 259.1h1.4M1062.6 258.6h1.4M1038.2 247.0h1.4M1019.5 275.5h1.4M1043.7 273.9h1.4M1008.2 247.1h1.4M1018.8 269.3h1.4M1031.5 264.9h1.4M1012.3 263.6h1.4M1038.6 263.0h1.4M1030.3 275.2h1.4M1052.9 323.8h1.4M1006.7 281.5h1.4M1009.6 289.0h1.4M1004.7 278.5h1.4M1027.7 277.3h1.4M996.6 277.8h1.4M989.6 284.7h1.4M1053.8 287.5h1.4M1021.5 278.1h1.4M997.0 291.7h1.4M993.5 284.5h1.4M1044.1 277.5h1.4M1018.8 285.8h1.4M1037.3 284.7h1.4M998.8 292.1h1.4M1031.1 280.3h1.4M987.9 316.9h1.4M1030.3 278.9h1.4M1012.5 290.4h1.4M1014.1 283.9h1.4M1044.5 279.5h1.4M1022.5 271.2h1.4M1047.2 278.6h1.4M1038.3 282.5h1.4M1032.5 284.2h1.4M1013.0 280.0h1.4M1034.0 286.7h1.4M1039.4 280.2h1.4M1038.7 282.1h1.4M1032.3 284.5h1.4M1036.0 286.8h1.4M1059.0 279.2h1.4M1029.7 285.9h1.4M1047.3 283.0h1.4M1037.2 278.1h1.4M1040.0 282.6h1.4M1018.2 278.1h1.4M1035.8 274.8h1.4M1020.6 284.7h1.4M1007.4 282.6h1.4M1019.6 274.8h1.4M1034.1 282.8h1.4M1042.5 280.0h1.4M1024.8 281.8h1.4M1145.0 240.7h1.4M1140.0 255.5h1.4M1168.3 242.9h1.4M1147.5 249.5h1.4M1141.0 237.7h1.4M1164.2 235.1h1.4M1156.2 229.5h1.4M1151.3 260.9h1.4M1142.4 243.6h1.4M1134.1 259.5h1.4M1140.6 247.1h1.4M1136.7 253.6h1.4M1160.5 256.7h1.4M1144.9 239.8h1.4M1158.0 230.5h1.4M1158.9 242.2h1.4M1167.0 244.8h1.4M1137.2 244.9h1.4M1154.1 245.7h1.4M1137.4 256.4h1.4M1155.7 253.4h1.4M1135.5 254.3h1.4M1151.2 234.5h1.4M1168.4 237.1h1.4M1144.8 251.4h1.4M1132.6 260.7h1.4M1142.9 243.9h1.4M1159.9 240.6h1.4M1135.9 257.8h1.4M1152.3 242.1h1.4M1136.3 258.5h1.4M1150.6 257.1h1.4M1162.2 230.1h1.4M1141.8 239.6h1.4M1155.7 254.1h1.4M1163.0 238.8h1.4M1156.9 242.7h1.4M1144.7 250.1h1.4M1144.3 244.3h1.4M1140.3 272.7h1.4M1132.1 254.8h1.4M1139.8 245.4h1.4M1161.6 237.4h1.4M1139.2 232.1h1.4M1145.6 251.6h1.4M1126.8 258.7h1.4M1154.4 246.0h1.4M1152.2 253.2h1.4M1138.2 246.9h1.4M1160.7 250.8h1.4M1136.5 263.4h1.4M1154.7 241.3h1.4M1160.3 230.7h1.4M1137.7 243.3h1.4M1141.6 252.4h1.4M1145.8 241.6h1.4M1146.1 265.6h1.4M1154.2 247.9h1.4M1146.2 244.7h1.4M1140.3 254.6h1.4M1149.6 250.4h1.4M1142.0 250.5h1.4M1138.8 245.5h1.4M1153.3 232.7h1.4M1153.7 235.6h1.4M1139.6 232.5h1.4M1145.6 259.7h1.4M1148.6 254.8h1.4M1142.3 254.0h1.4M1149.3 250.5h1.4M1138.0 251.2h1.4M1132.7 263.4h1.4M1155.3 244.7h1.4M1131.2 258.3h1.4M1163.9 234.6h1.4M1164.0 235.0h1.4M1157.3 251.1h1.4M1155.1 239.7h1.4M1156.4 271.5h1.4M1148.5 239.6h1.4M1146.9 248.5h1.4M1139.9 241.1h1.4M1128.3 246.6h1.4M1155.2 251.9h1.4M1141.9 252.6h1.4M1156.1 240.8h1.4M1139.3 243.9h1.4M1144.4 255.8h1.4M1159.3 253.5h1.4M1134.4 238.5h1.4M1138.0 248.6h1.4M1160.9 244.6h1.4M1148.0 243.4h1.4M1150.8 250.1h1.4M1140.1 253.7h1.4M1157.1 262.1h1.4M1145.8 249.9h1.4M1146.1 258.2h1.4M1143.0 253.5h1.4M1142.3 247.4h1.4M1141.1 257.0h1.4M1143.9 245.8h1.4M1159.9 252.4h1.4M1134.9 245.3h1.4M1142.6 247.9h1.4M1140.4 248.8h1.4M1142.3 259.1h1.4M1136.5 244.6h1.4M1142.6 257.4h1.4M1140.2 246.3h1.4M1135.7 253.4h1.4M1149.1 242.2h1.4M1137.3 245.4h1.4M1141.4 258.0h1.4M1130.0 254.7h1.4M1138.7 250.3h1.4M1143.9 251.1h1.4M1145.9 238.8h1.4M1137.0 254.3h1.4M1143.3 239.4h1.4M1138.9 250.5h1.4M1143.4 245.6h1.4M1152.0 283.1h1.4M1137.8 289.5h1.4M1153.5 290.1h1.4M1146.1 277.6h1.4M1135.9 286.2h1.4M1157.6 282.0h1.4"/>
<path stroke="#30b868" d="M1040.2 252.7h1.4M1043.7 258.2h1.4M1031.1 272.1h1.4M1038.1 257.8h1.4M1053.0 249.5h1.4M1061.7 255.3h1.4M1033.9 285.4h1.4M1033.6 275.9h1.4M1045.4 263.5h1.4M1032.5 285.0h1.4M1040.9 254.9h1.4M1023.6 267.3h1.4M1018.1 269.9h1.4M1032.9 273.9h1.4M1042.3 248.7h1.4M1043.1 260.6h1.4M1034.3 284.4h1.4M1034.3 257.6h1.4M1040.3 260.5h1.4M1037.0 270.2h1.4M1007.8 252.2h1.4M1037.3 275.8h1.4M1025.7 257.2h1.4M1029.8 271.0h1.4M1025.7 265.8h1.4M1042.2 262.3h1.4M1043.5 277.3h1.4M1048.3 237.2h1.4M1002.5 267.5h1.4M1036.1 251.0h1.4M1005.9 263.4h1.4M1033.2 255.1h1.4M1021.3 273.0h1.4M1031.7 259.0h1.4M1054.5 253.3h1.4M1016.2 284.0h1.4M1012.7 270.6h1.4M1043.3 253.3h1.4M1017.2 274.9h1.4M1045.3 251.5h1.4M1029.3 285.9h1.4M1033.3 256.9h1.4M1027.7 262.6h1.4M1011.8 265.6h1.4M1040.9 272.6h1.4M1046.0 259.6h1.4M1050.7 258.7h1.4M1048.7 249.7h1.4M1002.2 255.0h1.4M1059.2 245.1h1.4M1055.1 238.9h1.4M1036.5 269.4h1.4M1015.9 284.1h1.4M1042.4 260.2h1.4M1055.2 260.1h1.4M1041.9 272.4h1.4M1011.5 262.6h1.4M1028.4 258.4h1.4M1022.0 260.3h1.4M986.5 266.7h1.4M1008.8 262.8h1.4M1009.0 262.6h1.4M1022.0 268.7h1.4M1012.2 259.9h1.4M1017.3 254.4h1.4M1004.5 259.0h1.4M1054.0 260.4h1.4M1054.4 250.4h1.4M1037.7 250.2h1.4M1048.8 250.8h1.4M1043.5 255.6h1.4M1051.3 244.5h1.4M1044.9 265.0h1.4M1050.4 252.9h1.4M1045.5 264.3h1.4M1044.1 246.6h1.4M1039.2 248.1h1.4M1047.2 250.6h1.4M1044.5 247.0h1.4M1062.2 246.0h1.4M1026.9 261.3h1.4M1059.2 247.7h1.4M1039.5 258.3h1.4M1053.7 242.5h1.4M1031.8 267.5h1.4M1047.9 251.1h1.4M1038.1 259.0h1.4M1035.4 251.0h1.4M1045.9 256.8h1.4M1050.8 245.7h1.4M1037.1 272.5h1.4M1042.2 256.7h1.4M1044.8 255.1h1.4M1039.0 272.3h1.4M1035.7 255.3h1.4M1031.8 259.0h1.4M1033.5 261.3h1.4M1040.2 265.3h1.4M1030.5 260.4h1.4M1056.0 253.3h1.4M1029.0 264.3h1.4M1043.3 271.6h1.4M1035.7 267.3h1.4M1037.3 261.8h1.4M1035.6 265.1h1.4M1049.8 252.2h1.4M1041.9 256.1h1.4M1039.7 269.9h1.4M1037.4 262.4h1.4M1027.3 279.9h1.4M1048.4 260.3h1.4M1042.3 267.2h1.4M1045.2 246.9h1.4M1038.4 245.5h1.4M1022.7 269.4h1.4M1043.0 247.7h1.4M1044.1 266.7h1.4M1027.0 259.0h1.4M1025.9 262.8h1.4M1038.4 261.3h1.4M1036.4 260.3h1.4M1039.1 254.9h1.4M1039.8 249.4h1.4M1050.1 246.1h1.4M1041.8 245.1h1.4M1011.9 266.5h1.4M1009.7 256.6h1.4M1057.0 243.4h1.4M1058.1 259.6h1.4M1035.1 271.2h1.4M1045.4 234.6h1.4M1043.6 265.7h1.4M1049.1 242.7h1.4M1018.4 277.0h1.4M1035.6 280.6h1.4M1035.6 280.2h1.4M1029.2 279.6h1.4M1025.4 280.9h1.4M1013.9 278.8h1.4M1035.5 281.3h1.4M1046.5 324.3h1.4M1035.4 284.1h1.4M1006.4 284.1h1.4M1022.5 283.2h1.4M1014.7 283.9h1.4M1041.4 278.0h1.4M1044.8 282.4h1.4M1036.0 274.9h1.4M1026.8 283.8h1.4M1017.3 286.1h1.4M1051.1 282.8h1.4M1036.3 283.5h1.4M1042.7 287.4h1.4M1026.4 280.6h1.4M1017.6 276.0h1.4M1049.6 266.2h1.4M1028.7 280.8h1.4M1043.5 280.9h1.4M1139.4 255.0h1.4M1145.2 245.0h1.4M1144.0 240.8h1.4M1143.6 262.8h1.4M1141.3 258.7h1.4M1158.4 245.7h1.4M1146.6 243.5h1.4M1137.1 257.2h1.4M1139.5 241.2h1.4M1133.5 249.9h1.4M1139.9 254.5h1.4M1142.5 238.4h1.4M1145.0 254.2h1.4M1144.2 244.4h1.4M1146.1 252.2h1.4M1145.0 252.7h1.4M1156.2 247.5h1.4M1142.6 236.8h1.4M1142.2 249.9h1.4M1143.2 251.1h1.4M1146.3 242.9h1.4M1150.6 247.6h1.4M1142.2 238.0h1.4M1150.4 249.7h1.4M1139.9 250.6h1.4M1141.4 257.3h1.4M1142.2 249.7h1.4M1137.3 247.2h1.4M1161.0 247.4h1.4M1138.9 253.4h1.4M1153.6 249.9h1.4M1140.2 252.0h1.4M1155.5 248.3h1.4M1153.5 247.5h1.4M1134.3 242.6h1.4M1152.2 235.3h1.4M1165.2 255.9h1.4M1137.4 246.8h1.4M1149.0 237.2h1.4M1152.8 234.9h1.4M1143.1 247.8h1.4M1140.4 246.3h1.4M1142.0 247.3h1.4M1138.9 248.9h1.4M1146.0 244.7h1.4M1149.3 258.7h1.4M1152.2 251.1h1.4M1136.1 243.2h1.4M1140.8 251.1h1.4M1150.9 248.0h1.4M1152.3 242.6h1.4M1136.9 260.5h1.4M1141.2 249.5h1.4M1136.4 246.4h1.4M1135.8 262.3h1.4M1135.8 258.7h1.4M1139.5 252.2h1.4M1134.7 254.8h1.4M1138.7 253.7h1.4M1141.0 241.9h1.4M1148.9 247.0h1.4M1143.7 245.4h1.4M1144.3 237.8h1.4M1146.7 260.4h1.4M1152.0 252.2h1.4M1141.4 244.7h1.4M1146.3 250.4h1.4M1144.5 251.6h1.4M1136.6 257.3h1.4M1145.8 246.2h1.4M1138.0 247.9h1.4M1134.1 260.1h1.4"/>
<path stroke="#86d848" d="M1031.6 283.1h1.4M1044.1 259.3h1.4M1026.6 265.5h1.4M1041.0 260.2h1.4M1033.3 260.2h1.4M1043.8 261.1h1.4M1042.8 259.1h1.4M1039.2 254.5h1.4M1022.7 266.0h1.4M1035.4 259.8h1.4M1001.9 256.4h1.4M1031.2 262.2h1.4M1031.6 268.0h1.4M1035.7 247.7h1.4M1028.8 251.1h1.4M1057.2 246.5h1.4M1047.0 257.6h1.4M1037.0 277.6h1.4M1004.7 263.8h1.4M1017.8 274.9h1.4M1025.7 254.4h1.4M1025.7 247.7h1.4M1038.6 257.6h1.4M1038.1 278.8h1.4M1048.0 254.8h1.4M1003.6 268.0h1.4M1046.8 255.7h1.4M1031.5 263.5h1.4M1032.5 259.3h1.4M1043.6 259.3h1.4M1022.4 269.9h1.4M1047.0 262.0h1.4M1049.1 261.4h1.4M1025.9 251.3h1.4M1010.0 270.2h1.4M1046.0 255.6h1.4M1035.8 259.3h1.4M1045.4 250.1h1.4M1040.5 264.2h1.4M1022.9 268.4h1.4M1041.1 246.7h1.4M1042.3 235.9h1.4M1055.3 255.0h1.4M1047.8 249.0h1.4M1036.5 253.6h1.4M1044.3 261.0h1.4M1039.8 262.1h1.4M1043.1 255.7h1.4M1041.6 243.9h1.4M1051.8 262.6h1.4M1039.0 269.6h1.4M1043.4 273.1h1.4M1046.5 251.4h1.4M1043.1 261.1h1.4M1043.3 255.7h1.4M1036.5 258.6h1.4M1033.5 271.5h1.4M1030.5 259.4h1.4M1028.1 263.9h1.4M1039.9 268.4h1.4M1032.4 261.2h1.4M1044.7 266.1h1.4M1035.9 274.0h1.4M1030.7 263.0h1.4M1038.0 275.1h1.4M1041.8 262.7h1.4M1034.1 261.9h1.4M1026.2 272.5h1.4M1036.5 251.6h1.4M1036.8 265.8h1.4M1036.4 268.0h1.4M1010.2 260.9h1.4M1044.0 270.9h1.4M1036.1 267.5h1.4M1056.0 253.2h1.4M999.3 276.0h1.4M1040.4 246.4h1.4M1040.6 278.4h1.4M1045.7 277.7h1.4M1033.1 276.7h1.4M1035.4 281.2h1.4M1039.8 281.1h1.4M1040.0 281.8h1.4M1034.2 277.7h1.4M1036.8 280.8h1.4M1034.7 283.9h1.4M1027.4 278.3h1.4M1037.5 280.5h1.4M1031.4 284.8h1.4M1036.6 284.2h1.4M1030.4 284.2h1.4M1032.3 288.6h1.4M1034.2 277.0h1.4M1033.9 277.0h1.4M1026.1 281.8h1.4M1140.5 251.4h1.4M1146.9 243.3h1.4M1147.5 240.1h1.4M1155.0 246.0h1.4M1150.0 247.1h1.4M1139.8 257.1h1.4M1146.8 248.3h1.4M1133.5 255.7h1.4M1148.6 245.4h1.4M1147.6 251.1h1.4M1138.0 243.3h1.4M1144.2 253.2h1.4M1137.9 246.6h1.4M1137.3 237.3h1.4M1163.1 235.2h1.4M1159.8 246.3h1.4M1147.2 240.0h1.4M1149.2 258.9h1.4M1144.8 245.7h1.4M1147.6 257.3h1.4M1140.5 257.2h1.4M1149.3 239.8h1.4M1136.2 249.7h1.4M1146.3 250.7h1.4M1141.3 238.7h1.4M1146.9 240.8h1.4M1134.5 252.8h1.4M1146.6 238.1h1.4M1130.3 245.9h1.4M1141.7 252.4h1.4M1143.9 253.9h1.4M1134.8 257.8h1.4M1144.3 243.8h1.4M1164.9 230.2h1.4M1140.5 247.3h1.4M1149.6 245.7h1.4M1140.9 254.7h1.4M1139.1 247.5h1.4M1142.1 241.5h1.4M1136.4 251.9h1.4M1145.9 244.0h1.4M1145.2 257.1h1.4M1149.2 244.0h1.4M1137.8 251.1h1.4M1140.9 260.2h1.4M1136.6 249.2h1.4M1147.5 250.5h1.4M1142.5 258.8h1.4M1141.2 247.4h1.4M1139.7 256.5h1.4M1139.2 287.2h1.4"/>
<path stroke="#dcea3c" d="M1032.7 276.2h1.4M1056.9 244.5h1.4M1038.8 258.7h1.4M1039.4 261.5h1.4M1033.3 262.5h1.4M1043.9 256.0h1.4M1032.4 268.1h1.4M1031.4 270.8h1.4M1047.2 253.1h1.4M1034.7 281.4h1.4M1043.4 258.7h1.4M1037.4 253.9h1.4M1036.2 255.0h1.4M1029.4 282.0h1.4M1051.2 257.0h1.4M1009.7 262.6h1.4M1037.2 263.5h1.4M1021.6 262.0h1.4M1033.1 261.4h1.4M1009.9 272.4h1.4M1023.8 266.8h1.4M1045.0 257.6h1.4M1041.2 247.7h1.4M1041.5 257.6h1.4M1043.9 261.2h1.4M1036.2 260.1h1.4M1049.2 250.1h1.4M1037.3 266.3h1.4M1033.2 261.8h1.4M1032.5 261.7h1.4M1046.4 261.4h1.4M1036.4 267.9h1.4M1033.2 276.2h1.4M1044.6 252.4h1.4M1037.5 280.7h1.4M1034.2 263.1h1.4M1037.5 270.7h1.4M1045.5 274.2h1.4M1042.3 264.7h1.4M1042.1 267.4h1.4M1047.0 256.4h1.4M1045.1 261.8h1.4M1045.6 261.6h1.4M1037.6 255.5h1.4M1039.5 277.5h1.4M1036.9 258.0h1.4M1040.8 254.6h1.4M1041.3 268.8h1.4M1043.8 259.6h1.4M1036.8 261.2h1.4M1040.1 257.8h1.4M1044.3 262.2h1.4M1030.6 267.3h1.4M1033.5 280.6h1.4M1035.1 278.0h1.4M1018.5 276.4h1.4M1032.2 285.8h1.4M1035.3 279.6h1.4M1043.3 273.2h1.4M1036.3 281.0h1.4M1043.4 280.0h1.4M1035.7 270.1h1.4M1041.6 282.7h1.4M1024.9 281.2h1.4M1133.8 255.2h1.4M1147.1 247.9h1.4M1143.5 254.0h1.4M1148.6 240.3h1.4M1152.0 244.3h1.4M1152.8 252.0h1.4M1143.0 244.0h1.4M1143.6 245.6h1.4M1140.1 243.7h1.4M1146.0 245.5h1.4M1138.6 249.3h1.4M1136.3 250.6h1.4M1146.6 247.8h1.4M1138.5 251.6h1.4M1139.8 253.2h1.4M1142.2 262.6h1.4M1143.8 252.5h1.4M1138.9 254.2h1.4M1157.5 243.0h1.4M1144.2 246.3h1.4M1139.6 253.2h1.4M1143.9 243.1h1.4M1143.3 250.8h1.4"/>
<path stroke="#f09020" d="M1004.0 264.3h1.4M1036.1 259.6h1.4M1037.5 275.9h1.4M1147.2 251.5h1.4M1138.3 243.7h1.4M1139.9 240.0h1.4M1142.6 250.7h1.4M1152.8 246.8h1.4M1142.4 246.3h1.4M1139.9 254.4h1.4M1147.1 245.5h1.4M1142.5 250.5h1.4"/>
</g>
<path stroke="#2c2cbc" stroke-opacity="0.95" stroke-width="1.2" fill="none" d="M1181.0 196.1h1.2M1136.1 192.6h1.2M995.9 129.7h1.2M1008.1 175.2h1.2M983.7 164.7h1.2M1067.7 169.9h1.2M992.3 149.0h1.2M982.3 131.7h1.2M1038.2 173.2h1.2M1007.4 184.7h1.2M995.4 155.3h1.2M1034.4 155.7h1.2M1023.5 145.7h1.2M1020.4 143.4h1.2M1049.4 178.6h1.2M996.9 164.7h1.2M1031.3 195.0h1.2M1076.9 169.6h1.2M1017.7 140.0h1.2M1057.3 145.8h1.2M1019.2 173.9h1.2M1005.0 152.2h1.2M1020.9 175.9h1.2M987.0 172.6h1.2M1009.8 181.2h1.2M1012.2 168.9h1.2M1067.3 161.8h1.2M1069.7 162.3h1.2M1060.5 146.0h1.2M1032.0 141.5h1.2M987.0 184.8h1.2M1052.4 174.2h1.2M1032.7 167.1h1.2M1065.0 181.7h1.2M1030.4 134.2h1.2M984.2 168.7h1.2M1034.5 185.2h1.2M992.6 166.9h1.2M1073.8 187.6h1.2M984.7 136.5h1.2M1025.5 192.7h1.2M993.9 147.8h1.2M1038.8 175.7h1.2M984.8 193.5h1.2M1083.2 165.9h1.2M1048.5 147.4h1.2M1068.0 194.7h1.2M1019.7 145.6h1.2M1015.9 176.8h1.2M1022.8 168.1h1.2M1042.9 161.2h1.2M1060.0 161.7h1.2M1069.5 153.5h1.2M1071.4 181.5h1.2M1060.1 170.4h1.2M1062.9 170.6h1.2M1011.3 160.6h1.2M1033.6 169.3h1.2M1045.9 168.4h1.2M1040.3 150.6h1.2M1070.2 162.0h1.2M1069.0 156.8h1.2M1040.7 161.9h1.2M1069.2 167.2h1.2M1032.4 189.4h1.2M1061.0 165.0h1.2M1018.1 185.7h1.2M1073.7 179.6h1.2M1038.8 189.4h1.2M1072.7 182.7h1.2M1026.1 187.7h1.2M1027.5 155.9h1.2M1112.9 160.0h1.2M1116.0 132.3h1.2M1110.4 181.6h1.2M1095.1 152.6h1.2M1111.1 149.1h1.2M1100.6 183.3h1.2M1083.6 155.5h1.2M1104.6 160.4h1.2M1112.9 173.7h1.2M1108.6 130.3h1.2M1107.5 149.4h1.2M1124.6 196.7h1.2M1110.2 175.3h1.2M1116.5 137.0h1.2M1110.7 193.5h1.2M1123.7 192.2h1.2M1103.8 173.2h1.2M1119.1 129.1h1.2M1125.4 156.7h1.2M1103.8 154.6h1.2M1117.8 140.3h1.2M1094.1 169.7h1.2M1110.6 147.8h1.2M1114.8 174.3h1.2M1099.3 145.0h1.2M1089.8 190.9h1.2M1108.0 147.0h1.2M1104.3 129.0h1.2M1109.4 186.5h1.2M1110.4 143.4h1.2M1151.3 196.6h1.2M1159.6 190.4h1.2M1159.5 190.3h1.2M1128.2 195.0h1.2M1160.6 190.9h1.2M1161.4 190.8h1.2M1129.4 189.7h1.2M1146.6 190.4h1.2M1163.5 195.3h1.2M1141.2 187.3h1.2M1156.2 190.5h1.2M1131.4 195.1h1.2M1135.3 190.0h1.2M1152.0 194.7h1.2M1137.7 190.7h1.2M1141.7 189.6h1.2M1141.2 189.0h1.2M1125.8 192.5h1.2M1160.5 193.3h1.2M1138.1 188.8h1.2M1135.4 192.2h1.2M1133.8 193.1h1.2M1147.8 131.7h1.2M1141.3 159.6h1.2M1150.1 161.7h1.2M1144.1 160.4h1.2M1184.2 126.4h1.2M1181.3 189.3h1.2M1132.8 155.1h1.2M1191.7 176.1h1.2M1186.0 163.5h1.2"/>
<rect x="978" y="276" width="100" height="57.5" fill="#fff" fill-opacity="0.87"/>
<rect x="1128" y="277.5" width="110" height="55.5" fill="#fff" fill-opacity="0.80"/>
<rect x="978" y="71.5" width="108" height="52" fill="#fff" fill-opacity="0.84"/>
<rect x="1122" y="71.5" width="116" height="52" fill="#fff" fill-opacity="0.84"/>
<path d="M977.0 69.9H1239.6V334.1" fill="none" stroke="#000" stroke-width="1.5"/>
<path d="M977.0 69.9V334.1H1239.6" fill="none" stroke="#000" stroke-width="1.9" stroke-linecap="square"/>
<line x1="1090.2" y1="69.9" x2="1090.2" y2="334.1" stroke="#000" stroke-width="1.1"/>
<line x1="977.0" y1="198.4" x2="1239.6" y2="198.4" stroke="#000" stroke-width="1.1"/>
<path d="M977.0 334.1v7.5M977.0 334.1h-7.5M996.8 334.1v4.2M977.0 314.2h-4.2M1008.3 334.1v4.2M977.0 302.6h-4.2M1016.5 334.1v4.2M977.0 294.3h-4.2M1022.9 334.1v4.2M977.0 287.9h-4.2M1028.1 334.1v4.2M977.0 282.7h-4.2M1032.5 334.1v4.2M977.0 278.3h-4.2M1036.3 334.1v4.2M977.0 274.5h-4.2M1039.6 334.1v4.2M977.0 271.1h-4.2M1042.7 334.1v7.5M977.0 268.1h-7.5M1062.4 334.1v4.2M977.0 248.2h-4.2M1074.0 334.1v4.2M977.0 236.5h-4.2M1082.2 334.1v4.2M977.0 228.3h-4.2M1088.5 334.1v4.2M977.0 221.9h-4.2M1093.7 334.1v4.2M977.0 216.7h-4.2M1098.1 334.1v4.2M977.0 212.2h-4.2M1101.9 334.1v4.2M977.0 208.4h-4.2M1105.3 334.1v4.2M977.0 205.0h-4.2M1108.3 334.1v7.5M977.0 202.0h-7.5M1128.1 334.1v4.2M977.0 182.1h-4.2M1139.6 334.1v4.2M977.0 170.5h-4.2M1147.8 334.1v4.2M977.0 162.2h-4.2M1154.2 334.1v4.2M977.0 155.8h-4.2M1159.4 334.1v4.2M977.0 150.6h-4.2M1163.8 334.1v4.2M977.0 146.2h-4.2M1167.6 334.1v4.2M977.0 142.4h-4.2M1170.9 334.1v4.2M977.0 139.0h-4.2M1173.9 334.1v7.5M977.0 135.9h-7.5M1193.7 334.1v4.2M977.0 116.1h-4.2M1205.3 334.1v4.2M977.0 104.4h-4.2M1213.5 334.1v4.2M977.0 96.2h-4.2M1219.8 334.1v4.2M977.0 89.8h-4.2M1225.0 334.1v4.2M977.0 84.6h-4.2M1229.4 334.1v4.2M977.0 80.1h-4.2M1233.2 334.1v4.2M977.0 76.3h-4.2M1236.6 334.1v4.2M977.0 72.9h-4.2M1239.6 334.1v7.5M977.0 69.9h-7.5" stroke="#000" stroke-width="1.2" fill="none"/>
<text transform="translate(981.8,364.7) scale(1,1.18)" font-size="17.4">10<tspan dx="0.3" dy="-10.2" font-size="16.8">0</tspan></text>
<text transform="translate(1035.4,364.7) scale(1,1.18)" font-size="17.4">10<tspan dx="0.3" dy="-10.2" font-size="16.8">1</tspan></text>
<text transform="translate(1096.7,364.7) scale(1,1.18)" font-size="17.4">10<tspan dx="0.3" dy="-10.2" font-size="16.8">2</tspan></text>
<text transform="translate(1156.5,364.7) scale(1,1.18)" font-size="17.4">10<tspan dx="0.3" dy="-10.2" font-size="16.8">3</tspan></text>
<text transform="translate(1218.2,364.7) scale(1,1.18)" font-size="17.4">10<tspan dx="0.3" dy="-10.2" font-size="16.8">4</tspan></text>
<text transform="translate(938.3,335.0) scale(1,1.18)" font-size="17.4">10<tspan dx="0.3" dy="-10.2" font-size="16.8">0</tspan></text>
<text transform="translate(938.3,274.4) scale(1,1.18)" font-size="17.4">10<tspan dx="0.3" dy="-10.2" font-size="16.8">1</tspan></text>
<text transform="translate(938.3,206.9) scale(1,1.18)" font-size="17.4">10<tspan dx="0.3" dy="-10.2" font-size="16.8">2</tspan></text>
<text transform="translate(938.3,142.1) scale(1,1.18)" font-size="17.4">10<tspan dx="0.3" dy="-10.2" font-size="16.8">3</tspan></text>
<text transform="translate(938.3,100.8) scale(1,1.18)" font-size="17.4">10<tspan dx="0.3" dy="-10.2" font-size="16.8">4</tspan></text>
<g font-size="24.6">
<text x="981.5" y="90.5">GFP- PI+</text><text x="981.5" y="120.4">0.703%</text>
<text x="1125.6" y="90.7">GFP+ PI+</text><text x="1125.6" y="120.6">0.317%</text>
<text x="981.8" y="302.1">GFP- PI-</text><text x="981.8" y="331.1">63.9%</text>
<text x="1131.6" y="302.2">GFP+ PI-</text><text x="1131" y="331.6">35.1%</text>
</g>
<path d="M925.2 268.5V378.4H1028.5M918.5 280.5L925.2 267.5L932 280.5M1015.5 371.5L1029 378.4L1015.5 385.2" fill="none" stroke="#000" stroke-width="1.1"/>
<text x="842.8" y="339.8" font-size="23.5">FL3-H</text>
<text x="932" y="411.8" font-size="23.7">FL1-H</text>
</g>
<!--PLOT-END-->
</svg>
</body>
</html>
